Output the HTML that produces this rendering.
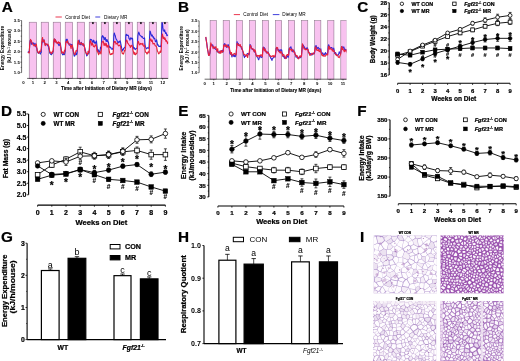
<!DOCTYPE html><html><head><meta charset="utf-8"><style>html,body{margin:0;padding:0;background:#fff;overflow:hidden}svg{display:block;will-change:transform}text{font-family:"Liberation Sans",sans-serif}text[font-weight="bold"]{stroke:#000;stroke-width:0.22px}text.ns{stroke:none}</style></head><body><svg width="520" height="361" viewBox="0 0 520 361" font-family="Liberation Sans, sans-serif">
<rect width="520" height="361" fill="#fff"/>
<text x="1.72" y="12.3" font-size="15.3" font-weight="bold">A</text>
<clipPath id="clipA"><rect x="0" y="0" width="168.2" height="100"/></clipPath>
<g clip-path="url(#clipA)">
<rect x="29.2" y="22.2" width="7.5" height="56.2" fill="#f8c2ef" stroke="#8a7088" stroke-width="0.55"/>
<rect x="41.2" y="22.2" width="7.5" height="56.2" fill="#f8c2ef" stroke="#8a7088" stroke-width="0.55"/>
<rect x="53.2" y="22.2" width="7.5" height="56.2" fill="#f8c2ef" stroke="#8a7088" stroke-width="0.55"/>
<rect x="65.2" y="22.2" width="7.5" height="56.2" fill="#f8c2ef" stroke="#8a7088" stroke-width="0.55"/>
<rect x="77.2" y="22.2" width="7.5" height="56.2" fill="#f8c2ef" stroke="#8a7088" stroke-width="0.55"/>
<rect x="89.2" y="22.2" width="7.5" height="56.2" fill="#f8c2ef" stroke="#8a7088" stroke-width="0.55"/>
<rect x="101.2" y="22.2" width="7.5" height="56.2" fill="#f8c2ef" stroke="#8a7088" stroke-width="0.55"/>
<rect x="113.2" y="22.2" width="7.5" height="56.2" fill="#f8c2ef" stroke="#8a7088" stroke-width="0.55"/>
<rect x="125.2" y="22.2" width="7.5" height="56.2" fill="#f8c2ef" stroke="#8a7088" stroke-width="0.55"/>
<rect x="137.2" y="22.2" width="7.5" height="56.2" fill="#f8c2ef" stroke="#8a7088" stroke-width="0.55"/>
<rect x="149.2" y="22.2" width="7.5" height="56.2" fill="#f8c2ef" stroke="#8a7088" stroke-width="0.55"/>
<rect x="161.2" y="22.2" width="7.5" height="56.2" fill="#f8c2ef" stroke="#8a7088" stroke-width="0.55"/>
<polyline points="27.89,52.63 28.34,51.89 28.78,51.81 29.23,52.24 29.67,46.22 30.12,40.63 30.56,40.16 31.01,40.76 31.45,43.62 31.9,44.39 32.34,43.1 32.79,43.3 33.23,42.82 33.68,43.66 34.13,45.07 34.57,45.19 35.02,43.19 35.46,45.67 35.91,46.77 36.35,47.34 36.8,48.15 37.24,50.7 37.69,52.37 38.13,52.98 38.58,53.21 39.03,52.95 39.47,52.4 39.92,52.89 40.36,54.07 40.81,52.55 41.25,52.48 41.7,44.82 42.14,41.43 42.59,40.71 43.03,41.94 43.48,41.38 43.92,39.48 44.37,42.52 44.82,42.99 45.26,45.09 45.71,44.62 46.15,43.95 46.6,44.66 47.04,44.58 47.49,45.08 47.93,46.05 48.38,45.4 48.82,48.53 49.27,50.04 49.72,53.09 50.16,53.43 50.61,54.35 51.05,54.04 51.5,54.72 51.94,53.23 52.39,53.49 52.83,52.48 53.28,50.73 53.72,43.47 54.17,39.88 54.61,39.01 55.06,39.78 55.51,39.82 55.95,42.03 56.4,42.03 56.84,42.43 57.29,43.05 57.73,43.49 58.18,43.92 58.62,44.95 59.07,45.57 59.51,45.06 59.96,44.04 60.4,43.65 60.85,47.16 61.3,50.78 61.74,52.7 62.19,53.85 62.63,54.86 63.08,54.45 63.52,53.49 63.97,54.71 64.41,54.69 64.86,52.6 65.3,51.03 65.75,42.78 66.2,39.33 66.64,41.17 67.09,39.17 67.53,40.27 67.98,42.44 68.42,42.81 68.87,43.94 69.31,45.26 69.76,44.95 70.2,44.54 70.65,44.07 71.09,44.63 71.54,45.27 71.99,44.63 72.43,46.71 72.88,48.56 73.32,51.16 73.77,53.93 74.21,56.17 74.66,56.06 75.1,55.03 75.55,54.14 75.99,53.09 76.44,54.76 76.89,54.04 77.33,50.79 77.78,44.78 78.22,43.49 78.67,41.04 79.11,40.09 79.56,42.01 80,44.47 80.45,44.65 80.89,44 81.34,42.38 81.78,44.13 82.23,44.9 82.68,44.07 83.12,45.24 83.57,44.2 84.01,46.37 84.46,46.88 84.9,48.46 85.35,50.25 85.79,52.07 86.24,53.6 86.68,55.88 87.13,55.3 87.58,54.69 88.02,53.96 88.47,52.9 88.91,53.17 89.36,49.08 89.8,41.99 90.25,39.42 90.69,39.27 91.14,39.41 91.58,39.65 92.03,41.2 92.47,41.69 92.92,42.54 93.37,40.2 93.81,40.34 94.26,42.11 94.7,42.91 95.15,43.56 95.59,42.46 96.04,41.99 96.48,40.94 96.93,45.62 97.37,49.53 97.82,51.78 98.26,49.71 98.71,51.01 99.16,52.54 99.6,51.13 100.05,51.2 100.49,47.24 100.94,48.29 101.38,44.79 101.83,37.05 102.27,36.11 102.72,35.61 103.16,37.38 103.61,36.92 104.06,39.72 104.5,39.31 104.95,37.6 105.39,37.76 105.84,40.79 106.28,41.51 106.73,39.58 107.17,39.74 107.62,41.62 108.06,41.8 108.51,42.41 108.95,45.82 109.4,47.32 109.85,46.72 110.29,47.51 110.74,47.23 111.18,48.91 111.63,48.98 112.07,49.12 112.52,48.51 112.96,49.21 113.41,45.37 113.85,35.47 114.3,32.94 114.75,34.4 115.19,35.36 115.64,37.43 116.08,39.21 116.53,39.38 116.97,40.38 117.42,41.73 117.86,42.78 118.31,42.79 118.75,41.64 119.2,41.61 119.64,42.09 120.09,40.77 120.54,42.19 120.98,44.99 121.43,46.56 121.87,49.33 122.32,50.96 122.76,49.46 123.21,50.02 123.65,48.23 124.1,48.22 124.54,47.68 124.99,47.85 125.44,45.15 125.88,35.05 126.33,34.32 126.77,35.26 127.22,35.55 127.66,35 128.11,35.23 128.55,35.97 129,38.68 129.44,38.7 129.89,40.12 130.33,38.39 130.78,37.79 131.23,38.96 131.67,38.37 132.12,38.22 132.56,38.56 133.01,44.66 133.45,47.89 133.9,48.85 134.34,47.66 134.79,48.54 135.23,49.62 135.68,49.08 136.12,48.66 136.57,48.55 137.02,48.45 137.46,43.21 137.91,35.56 138.35,33.49 138.8,32.1 139.24,33.55 139.69,34.79 140.13,35.57 140.58,35.72 141.02,35.91 141.47,36.96 141.92,36.57 142.36,36.76 142.81,37.86 143.25,38.23 143.7,38.57 144.14,38.46 144.59,37.94 145.03,44.99 145.48,46.63 145.92,47.99 146.37,48.82 146.81,48.53 147.26,47.65 147.71,48 148.15,47.96 148.6,48.24 149.04,47.1 149.49,39.31 149.93,30.94 150.38,31.75 150.82,33.61 151.27,34.99 151.71,36.07 152.16,34.93 152.61,36.21 153.05,37.35 153.5,36.8 153.94,38.82 154.39,38.26 154.83,38.74 155.28,41.24 155.72,41.78 156.17,41.13 156.61,39.83 157.06,42.16 157.5,45.08 157.95,44.35 158.4,45.89 158.84,46.5 159.29,46.5 159.73,46.09 160.18,46.79 160.62,46.28 161.07,45.29 161.51,35.29 161.96,23.04 162.4,22.76 162.85,27.41 163.3,30.39 163.74,30.63 164.19,31.46 164.63,29.86 165.08,31.63 165.52,33.41 165.97,32.61 166.41,33.49 166.86,35.76 167.3,35.32 167.75,35.09 168.19,34.99" fill="none" stroke="#2a2ad8" stroke-width="1.1" stroke-linejoin="round"/>
<polyline points="27.89,52.72 28.34,52.63 28.78,52.26 29.23,53.02 29.67,44.9 30.12,41.63 30.56,39.39 31.01,40.55 31.45,40.75 31.9,42.9 32.34,43.06 32.79,44.14 33.23,44.96 33.68,44.79 34.13,46.13 34.57,45.59 35.02,44.78 35.46,45.48 35.91,45.76 36.35,44.08 36.8,47.55 37.24,50.68 37.69,51.36 38.13,52.59 38.58,53.17 39.03,52.98 39.47,50.94 39.92,51.8 40.36,51.58 40.81,50.92 41.25,48.4 41.7,43.24 42.14,39.27 42.59,37.46 43.03,41.45 43.48,41.68 43.92,40.97 44.37,40.36 44.82,43.85 45.26,45.67 45.71,43.53 46.15,44.42 46.6,44.59 47.04,44.01 47.49,44.26 47.93,44.5 48.38,45.33 48.82,46.14 49.27,48.67 49.72,51.3 50.16,52.6 50.61,52.3 51.05,52.75 51.5,53.71 51.94,52.71 52.39,51.21 52.83,51.98 53.28,50.34 53.72,42.6 54.17,38.86 54.61,39.66 55.06,41.86 55.51,39.77 55.95,41.51 56.4,43.05 56.84,42.07 57.29,42.86 57.73,43.43 58.18,42.61 58.62,41.82 59.07,43.28 59.51,42.67 59.96,42.61 60.4,45.88 60.85,48.2 61.3,50.07 61.74,53.12 62.19,52.86 62.63,51.94 63.08,52.15 63.52,52.62 63.97,53.71 64.41,50.41 64.86,51.23 65.3,49.05 65.75,42.62 66.2,41.45 66.64,42.1 67.09,42.35 67.53,40.64 67.98,43.33 68.42,43.8 68.87,44.09 69.31,43.74 69.76,44.07 70.2,44.83 70.65,46.85 71.09,48.54 71.54,45.9 71.99,45.28 72.43,45.03 72.88,48.59 73.32,51.27 73.77,51.82 74.21,54.07 74.66,54.46 75.1,54.29 75.55,52.57 75.99,50.53 76.44,51.12 76.89,51 77.33,49.16 77.78,42.58 78.22,40.47 78.67,41.39 79.11,44.11 79.56,44.09 80,44.3 80.45,42.91 80.89,43.13 81.34,43.03 81.78,43.19 82.23,44.94 82.68,44.05 83.12,43.5 83.57,45.19 84.01,44.81 84.46,46.51 84.9,50.35 85.35,51.44 85.79,52.97 86.24,53.18 86.68,53.97 87.13,53.82 87.58,54.85 88.02,51.19 88.47,51.24 88.91,52.78 89.36,50.75 89.8,43.6 90.25,40.62 90.69,41.27 91.14,42.44 91.58,45.17 92.03,44.89 92.47,43.06 92.92,44.35 93.37,46.39 93.81,46.41 94.26,47.01 94.7,46.54 95.15,44.79 95.59,45.68 96.04,44.89 96.48,46.31 96.93,50.61 97.37,51.9 97.82,50.75 98.26,53.82 98.71,54.7 99.16,52.98 99.6,53.28 100.05,52.83 100.49,51.84 100.94,53.92 101.38,49.22 101.83,43.28 102.27,41.77 102.72,41.77 103.16,40.99 103.61,43 104.06,45.41 104.5,45.15 104.95,43.09 105.39,43.9 105.84,45.8 106.28,43.51 106.73,46 107.17,47.28 107.62,46.4 108.06,45.25 108.51,45.08 108.95,48.63 109.4,51.97 109.85,53.41 110.29,54.76 110.74,54.25 111.18,54.41 111.63,53.57 112.07,54.18 112.52,53.64 112.96,53.66 113.41,50.22 113.85,43.16 114.3,41.41 114.75,42.06 115.19,41.38 115.64,42.53 116.08,44.31 116.53,43.35 116.97,43.54 117.42,43.1 117.86,44.82 118.31,45.45 118.75,46.01 119.2,45.44 119.64,45.17 120.09,45.62 120.54,46.5 120.98,48.79 121.43,50.91 121.87,51.97 122.32,53.55 122.76,53.37 123.21,54.24 123.65,53.72 124.1,52.06 124.54,50.23 124.99,50.85 125.44,48.29 125.88,42.35 126.33,40.09 126.77,40.18 127.22,41.18 127.66,43.06 128.11,43.48 128.55,44.32 129,44.79 129.44,45.51 129.89,45.57 130.33,47.35 130.78,46.65 131.23,45.3 131.67,46.22 132.12,45.42 132.56,47.42 133.01,50.2 133.45,51.81 133.9,54.02 134.34,54.26 134.79,52.35 135.23,54.63 135.68,54.67 136.12,54.01 136.57,53.36 137.02,52.86 137.46,47.61 137.91,41.24 138.35,41.54 138.8,42.54 139.24,44.23 139.69,44.91 140.13,44.44 140.58,43.4 141.02,43.98 141.47,43.68 141.92,43.86 142.36,44.73 142.81,43.33 143.25,45.64 143.7,46.24 144.14,45.92 144.59,45.2 145.03,49.71 145.48,52.3 145.92,52.28 146.37,52.43 146.81,53.88 147.26,53.94 147.71,52.36 148.15,51.81 148.6,52.03 149.04,52.92 149.49,46.61 149.93,38.95 150.38,40.18 150.82,38.92 151.27,40.53 151.71,41.53 152.16,40.12 152.61,42.45 153.05,44 153.5,43.82 153.94,43.42 154.39,43.51 154.83,44.68 155.28,45.77 155.72,45.93 156.17,46.21 156.61,46.92 157.06,49.37 157.5,51.29 157.95,51.92 158.4,53.33 158.84,53.8 159.29,53.14 159.73,52.51 160.18,51.08 160.62,52.45 161.07,51.13 161.51,44.09 161.96,35.77 162.4,33.97 162.85,35.78 163.3,38.66 163.74,37.27 164.19,37.54 164.63,39.37 165.08,38.04 165.52,39.77 165.97,41.37 166.41,40.4 166.86,41.43 167.3,42.87 167.75,43.6 168.19,41.58" fill="none" stroke="#e8213c" stroke-width="1.1" stroke-linejoin="round"/>
</g>
<text x="92.95" y="26" font-size="4.5" font-weight="bold" text-anchor="middle">*</text>
<text x="104.95" y="26" font-size="4.5" font-weight="bold" text-anchor="middle">*</text>
<text x="116.95" y="26" font-size="4.5" font-weight="bold" text-anchor="middle">*</text>
<text x="128.95" y="26" font-size="4.5" font-weight="bold" text-anchor="middle">*</text>
<text x="140.95" y="26" font-size="4.5" font-weight="bold" text-anchor="middle">*</text>
<text x="152.95" y="26" font-size="4.5" font-weight="bold" text-anchor="middle">*</text>
<text x="164.95" y="26" font-size="4.5" font-weight="bold" text-anchor="middle">*</text>
<line x1="21.6" y1="20.5" x2="21.6" y2="72.6" stroke="#000" stroke-width="0.6"/>
<line x1="20.7" y1="67.39" x2="21.6" y2="67.39" stroke="#000" stroke-width="0.5"/>
<line x1="20.7" y1="56.97" x2="21.6" y2="56.97" stroke="#000" stroke-width="0.5"/>
<line x1="20.7" y1="46.55" x2="21.6" y2="46.55" stroke="#000" stroke-width="0.5"/>
<line x1="20.7" y1="36.13" x2="21.6" y2="36.13" stroke="#000" stroke-width="0.5"/>
<line x1="20.7" y1="25.71" x2="21.6" y2="25.71" stroke="#000" stroke-width="0.5"/>
<line x1="20.3" y1="72.6" x2="21.6" y2="72.6" stroke="#000" stroke-width="0.5"/>
<text x="19.8" y="74.15" font-size="4.3" font-weight="bold" text-anchor="end" class="ns">1.0</text>
<line x1="20.3" y1="62.18" x2="21.6" y2="62.18" stroke="#000" stroke-width="0.5"/>
<text x="19.8" y="63.73" font-size="4.3" font-weight="bold" text-anchor="end" class="ns">1.5</text>
<line x1="20.3" y1="51.76" x2="21.6" y2="51.76" stroke="#000" stroke-width="0.5"/>
<text x="19.8" y="53.31" font-size="4.3" font-weight="bold" text-anchor="end" class="ns">2.0</text>
<line x1="20.3" y1="41.34" x2="21.6" y2="41.34" stroke="#000" stroke-width="0.5"/>
<text x="19.8" y="42.89" font-size="4.3" font-weight="bold" text-anchor="end" class="ns">2.5</text>
<line x1="20.3" y1="30.92" x2="21.6" y2="30.92" stroke="#000" stroke-width="0.5"/>
<text x="19.8" y="32.47" font-size="4.3" font-weight="bold" text-anchor="end" class="ns">3.0</text>
<line x1="20.3" y1="20.5" x2="21.6" y2="20.5" stroke="#000" stroke-width="0.5"/>
<text x="19.8" y="22.05" font-size="4.3" font-weight="bold" text-anchor="end" class="ns">3.5</text>
<line x1="27.1" y1="78.4" x2="168.2" y2="78.4" stroke="#000" stroke-width="0.6"/>
<text x="23.4" y="84" font-size="4.3" font-weight="bold" text-anchor="middle" class="ns">0</text>
<line x1="32.9" y1="78.4" x2="32.9" y2="79.6" stroke="#000" stroke-width="0.5"/>
<text x="32.9" y="84" font-size="4.3" font-weight="bold" text-anchor="middle" class="ns">1</text>
<line x1="44.7" y1="78.4" x2="44.7" y2="79.6" stroke="#000" stroke-width="0.5"/>
<text x="44.7" y="84" font-size="4.3" font-weight="bold" text-anchor="middle" class="ns">2</text>
<line x1="56.5" y1="78.4" x2="56.5" y2="79.6" stroke="#000" stroke-width="0.5"/>
<text x="56.5" y="84" font-size="4.3" font-weight="bold" text-anchor="middle" class="ns">3</text>
<line x1="68.3" y1="78.4" x2="68.3" y2="79.6" stroke="#000" stroke-width="0.5"/>
<text x="68.3" y="84" font-size="4.3" font-weight="bold" text-anchor="middle" class="ns">4</text>
<line x1="80.1" y1="78.4" x2="80.1" y2="79.6" stroke="#000" stroke-width="0.5"/>
<text x="80.1" y="84" font-size="4.3" font-weight="bold" text-anchor="middle" class="ns">5</text>
<line x1="91.9" y1="78.4" x2="91.9" y2="79.6" stroke="#000" stroke-width="0.5"/>
<text x="91.9" y="84" font-size="4.3" font-weight="bold" text-anchor="middle" class="ns">6</text>
<line x1="103.7" y1="78.4" x2="103.7" y2="79.6" stroke="#000" stroke-width="0.5"/>
<text x="103.7" y="84" font-size="4.3" font-weight="bold" text-anchor="middle" class="ns">7</text>
<line x1="115.5" y1="78.4" x2="115.5" y2="79.6" stroke="#000" stroke-width="0.5"/>
<text x="115.5" y="84" font-size="4.3" font-weight="bold" text-anchor="middle" class="ns">8</text>
<line x1="127.3" y1="78.4" x2="127.3" y2="79.6" stroke="#000" stroke-width="0.5"/>
<text x="127.3" y="84" font-size="4.3" font-weight="bold" text-anchor="middle" class="ns">9</text>
<line x1="139.1" y1="78.4" x2="139.1" y2="79.6" stroke="#000" stroke-width="0.5"/>
<text x="139.1" y="84" font-size="4.3" font-weight="bold" text-anchor="middle" class="ns">10</text>
<line x1="150.9" y1="78.4" x2="150.9" y2="79.6" stroke="#000" stroke-width="0.5"/>
<text x="150.9" y="84" font-size="4.3" font-weight="bold" text-anchor="middle" class="ns">11</text>
<line x1="162.7" y1="78.4" x2="162.7" y2="79.6" stroke="#000" stroke-width="0.5"/>
<text x="162.7" y="84" font-size="4.3" font-weight="bold" text-anchor="middle" class="ns">12</text>
<text x="106.45" y="89.91" font-size="4.75" font-weight="bold" text-anchor="middle" style="stroke-width:0.12px">Time after Initiation of Dietary MR (days)</text>
<text x="4.2" y="48.05" font-size="4.7" font-weight="bold" text-anchor="middle" transform="rotate(-90 4.2 48.05)" class="ns">Energy Expenditure</text>
<text class="ns" x="11.4" y="46.25" font-size="4.7" font-weight="bold" text-anchor="middle" transform="rotate(-90 11.4 46.25)">(kJ / h<tspan font-size="3" dy="-1.8">-1</tspan><tspan dy="1.8"> mouse)</tspan></text>
<line x1="55.5" y1="17" x2="61.8" y2="17" stroke="#e8213c" stroke-width="0.9"/>
<text x="65.2" y="18.6" font-size="4.7">Control Diet</text>
<line x1="95.3" y1="17" x2="100.2" y2="17" stroke="#2a2ad8" stroke-width="0.9"/>
<text x="104" y="18.6" font-size="4.7">Dietary MR</text>
<text x="177.97" y="12.3" font-size="15.3" font-weight="bold">B</text>
<clipPath id="clipB"><rect x="0" y="0" width="346.5" height="100"/></clipPath>
<g clip-path="url(#clipB)">
<rect x="210.1" y="20.6" width="6.2" height="58.6" fill="#f8c2ef" stroke="#8a7088" stroke-width="0.55"/>
<rect x="223.17" y="20.6" width="6.2" height="58.6" fill="#f8c2ef" stroke="#8a7088" stroke-width="0.55"/>
<rect x="236.24" y="20.6" width="6.2" height="58.6" fill="#f8c2ef" stroke="#8a7088" stroke-width="0.55"/>
<rect x="249.31" y="20.6" width="6.2" height="58.6" fill="#f8c2ef" stroke="#8a7088" stroke-width="0.55"/>
<rect x="262.38" y="20.6" width="6.2" height="58.6" fill="#f8c2ef" stroke="#8a7088" stroke-width="0.55"/>
<rect x="275.45" y="20.6" width="6.2" height="58.6" fill="#f8c2ef" stroke="#8a7088" stroke-width="0.55"/>
<rect x="288.52" y="20.6" width="6.2" height="58.6" fill="#f8c2ef" stroke="#8a7088" stroke-width="0.55"/>
<rect x="301.59" y="20.6" width="6.2" height="58.6" fill="#f8c2ef" stroke="#8a7088" stroke-width="0.55"/>
<rect x="314.66" y="20.6" width="6.2" height="58.6" fill="#f8c2ef" stroke="#8a7088" stroke-width="0.55"/>
<rect x="327.73" y="20.6" width="6.2" height="58.6" fill="#f8c2ef" stroke="#8a7088" stroke-width="0.55"/>
<rect x="340.8" y="20.6" width="6.2" height="58.6" fill="#f8c2ef" stroke="#8a7088" stroke-width="0.55"/>
<polyline points="205.77,37.1 206.23,40.12 206.69,42.62 207.15,46.35 207.62,49.75 208.08,52.04 208.54,54.87 209,55.4 209.46,54.92 209.92,52.99 210.38,48.88 210.84,45.13 211.3,45.02 211.76,44.81 212.22,45.37 212.68,44.9 213.14,46.11 213.6,47.68 214.06,47.58 214.52,48.59 214.98,48.27 215.44,49.06 215.9,49.49 216.36,49.62 216.82,49.77 217.28,52.01 217.74,51.38 218.2,51.75 218.66,52.9 219.12,52.69 219.58,52.44 220.04,50.79 220.5,52.22 220.96,52.18 221.42,50.8 221.88,51.18 222.34,50.24 222.8,52.3 223.26,50.83 223.72,45.47 224.18,44.09 224.64,43.64 225.1,44.2 225.56,45.5 226.02,46.52 226.48,47.36 226.94,45.51 227.4,44.99 227.86,45.12 228.33,44.72 228.79,46.95 229.25,49.11 229.71,52.94 230.17,54.12 230.63,54.09 231.09,53.98 231.55,55.7 232.01,56.97 232.47,54.87 232.93,54.5 233.39,56.18 233.85,54.87 234.31,56.73 234.77,54.96 235.23,56.64 235.69,56 236.15,53.75 236.61,47.25 237.07,41.59 237.53,43.47 237.99,43.31 238.45,43.76 238.91,45.26 239.37,45.47 239.83,45.34 240.29,46.08 240.75,46.55 241.21,47.5 241.67,49.01 242.13,48.96 242.59,50.49 243.05,51.6 243.51,54.91 243.97,55.96 244.43,57.67 244.89,55.91 245.35,56.48 245.81,55.94 246.27,55.62 246.73,55.18 247.19,53.79 247.65,53.48 248.11,53.62 248.57,53.82 249.04,54.9 249.5,52.44 249.96,44.57 250.42,44.88 250.88,45.76 251.34,47.87 251.8,48.54 252.26,49.49 252.72,48.91 253.18,49.82 253.64,50.76 254.1,50.48 254.56,51.88 255.02,52.42 255.48,52.7 255.94,54.66 256.4,56 256.86,55.93 257.32,57.34 257.78,57.66 258.24,59.09 258.7,59.81 259.16,58.39 259.62,56.38 260.08,55.55 260.54,55.91 261,57.65 261.46,57.12 261.92,57.31 262.38,56.29 262.84,49.44 263.3,47.13 263.76,47.38 264.22,47.61 264.68,48.36 265.14,50.69 265.6,50.36 266.06,51.86 266.52,52.97 266.98,52.49 267.44,52.07 267.9,51.91 268.36,52.78 268.82,54.08 269.28,55.24 269.75,56.29 270.21,56.4 270.67,58.27 271.13,58.28 271.59,59.69 272.05,60.34 272.51,58.44 272.97,58.22 273.43,57.13 273.89,57.26 274.35,56.8 274.81,56.62 275.27,56.87 275.73,52.94 276.19,47.98 276.65,48.16 277.11,48.09 277.57,48.76 278.03,50.09 278.49,51.06 278.95,49.69 279.41,50.73 279.87,52.16 280.33,49.74 280.79,50.22 281.25,49.82 281.71,50.03 282.17,53.28 282.63,53.61 283.09,56.74 283.55,56.33 284.01,56.31 284.47,58.35 284.93,56.82 285.39,57.7 285.85,58.12 286.31,58.31 286.77,56.33 287.23,56.71 287.69,55.69 288.15,57.45 288.61,55.44 289.07,48.84 289.53,49.46 289.99,47.6 290.46,47.87 290.92,46.69 291.38,48.54 291.84,49.17 292.3,50.26 292.76,51.71 293.22,50.73 293.68,50 294.14,51.98 294.6,51.98 295.06,54.1 295.52,54.82 295.98,57.23 296.44,55.97 296.9,56.12 297.36,58.1 297.82,57.87 298.28,57.24 298.74,58.6 299.2,57.14 299.66,57.32 300.12,56.05 300.58,57.73 301.04,57.19 301.5,55.52 301.96,50.11 302.42,45.7 302.88,45.49 303.34,45.08 303.8,46.61 304.26,46.62 304.72,48.62 305.18,48.29 305.64,48.31 306.1,48.96 306.56,48.59 307.02,47.67 307.48,48.35 307.94,49.7 308.4,50.96 308.86,52.16 309.32,54.05 309.78,54.44 310.24,53.48 310.7,53.94 311.17,54.86 311.63,54.87 312.09,54.97 312.55,54.24 313.01,53.71 313.47,52.93 313.93,53.33 314.39,53.72 314.85,51.48 315.31,46.07 315.77,46.29 316.23,45.63 316.69,48.42 317.15,47.87 317.61,48.36 318.07,47.28 318.53,47.89 318.99,48.57 319.45,48.66 319.91,49.45 320.37,50.64 320.83,48.8 321.29,52.91 321.75,53.73 322.21,53.5 322.67,52.72 323.13,53.83 323.59,54.42 324.05,55.12 324.51,53.71 324.97,54.4 325.43,52.49 325.89,53.61 326.35,54.39 326.81,54.28 327.27,53.46 327.73,52.33 328.19,46.27 328.65,44.71 329.11,45.82 329.57,46.68 330.03,48.47 330.49,48.51 330.95,47.48 331.41,47.66 331.88,47.52 332.34,49.43 332.8,48.98 333.26,49.45 333.72,48.07 334.18,50.58 334.64,53.48 335.1,53.67 335.56,52.57 336.02,53.44 336.48,54.14 336.94,55.77 337.4,55.72 337.86,55.16 338.32,55.02 338.78,53.6 339.24,51.75 339.7,52.62 340.16,53.88 340.62,53.48 341.08,50.79 341.54,46.67 342,46.39 342.46,47.86 342.92,48.24 343.38,47.45 343.84,46.89 344.3,48.49 344.76,50.39 345.22,50.32 345.68,49.34 346.14,49.79 346.6,49.87 347.06,51.21 347.52,51.02 347.98,54.56 348.44,55.35" fill="none" stroke="#3a2ad8" stroke-width="1.1" stroke-linejoin="round"/>
<polyline points="205.77,36.92 206.23,40.15 206.69,43 207.15,47.27 207.62,49.63 208.08,51.7 208.54,55.1 209,55.51 209.46,54.99 209.92,52.29 210.38,47.01 210.84,42.9 211.3,44.48 211.76,45 212.22,46.66 212.68,46.59 213.14,48.71 213.6,47.09 214.06,47.03 214.52,47.89 214.98,46.86 215.44,47.84 215.9,46.86 216.36,49.44 216.82,51.04 217.28,50.58 217.74,48.52 218.2,52.5 218.66,52.56 219.12,52.6 219.58,52.18 220.04,53.45 220.5,51.07 220.96,53.03 221.42,50.52 221.88,51.54 222.34,52.21 222.8,51.27 223.26,51.35 223.72,45.02 224.18,45.08 224.64,45.99 225.1,46.48 225.56,45.61 226.02,44.46 226.48,46.24 226.94,45.48 227.4,47.14 227.86,46.35 228.33,46.44 228.79,47.28 229.25,47.06 229.71,49.7 230.17,51.73 230.63,54.09 231.09,53.08 231.55,52.52 232.01,55.68 232.47,54.98 232.93,54.72 233.39,54.34 233.85,53.78 234.31,53.34 234.77,54.04 235.23,53.9 235.69,54.86 236.15,54.79 236.61,48.2 237.07,43.28 237.53,43.68 237.99,44.87 238.45,45.48 238.91,44.82 239.37,45.86 239.83,45.83 240.29,44.5 240.75,46.76 241.21,46.77 241.67,46.87 242.13,49.55 242.59,50.31 243.05,51.88 243.51,52.81 243.97,54.48 244.43,54.62 244.89,54.76 245.35,55.06 245.81,55.92 246.27,54.99 246.73,54.83 247.19,56.25 247.65,57.55 248.11,54.51 248.57,53.45 249.04,54.17 249.5,49.53 249.96,46.06 250.42,45.35 250.88,46.15 251.34,48.56 251.8,48.78 252.26,49.05 252.72,48.78 253.18,48.78 253.64,50.43 254.1,51.77 254.56,49.68 255.02,50.32 255.48,50.74 255.94,54.87 256.4,55.1 256.86,56.49 257.32,56.15 257.78,55.37 258.24,55.68 258.7,55.61 259.16,57.13 259.62,55.31 260.08,55.76 260.54,55.04 261,54.83 261.46,55.09 261.92,55.75 262.38,56.76 262.84,49.26 263.3,47.25 263.76,48.59 264.22,50.3 264.68,50.88 265.14,48.81 265.6,51.02 266.06,52 266.52,51.4 266.98,52.87 267.44,53.28 267.9,52.31 268.36,52.79 268.82,53.85 269.28,54.54 269.75,55.84 270.21,56.07 270.67,55.85 271.13,56.6 271.59,56.71 272.05,56.16 272.51,56.25 272.97,55.5 273.43,56.7 273.89,55.94 274.35,56.17 274.81,57.03 275.27,55.26 275.73,51.99 276.19,48.7 276.65,47.3 277.11,47.91 277.57,47.57 278.03,50.33 278.49,51.16 278.95,51.48 279.41,52.1 279.87,52.3 280.33,53.11 280.79,51.35 281.25,51.97 281.71,52.73 282.17,54.38 282.63,55.98 283.09,54.51 283.55,54.7 284.01,54.81 284.47,56.54 284.93,57.34 285.39,58.01 285.85,58.64 286.31,55.35 286.77,55.59 287.23,54.53 287.69,54.51 288.15,55.11 288.61,55.1 289.07,50.7 289.53,48.14 289.99,49.13 290.46,49.38 290.92,49.46 291.38,51.14 291.84,49.16 292.3,50.3 292.76,50 293.22,50.25 293.68,51.5 294.14,52.49 294.6,51.92 295.06,54.1 295.52,54.63 295.98,55.79 296.44,56.33 296.9,55.44 297.36,56.54 297.82,57.88 298.28,58.84 298.74,58.7 299.2,57.32 299.66,56.78 300.12,55.87 300.58,57.02 301.04,56.11 301.5,56.48 301.96,49.15 302.42,43.68 302.88,45.63 303.34,46.56 303.8,48.17 304.26,49.15 304.72,48.82 305.18,48.56 305.64,49.81 306.1,49.65 306.56,49.35 307.02,49.64 307.48,49.1 307.94,49.31 308.4,52.42 308.86,52.95 309.32,52.57 309.78,55.33 310.24,55.32 310.7,54.82 311.17,54.6 311.63,53.39 312.09,53.16 312.55,53.89 313.01,53.97 313.47,54.17 313.93,53.81 314.39,52.67 314.85,49.8 315.31,47.28 315.77,46.82 316.23,48.27 316.69,50.19 317.15,50.36 317.61,49.86 318.07,50.44 318.53,49.51 318.99,51.36 319.45,51.39 319.91,51.7 320.37,49.55 320.83,51.59 321.29,52.9 321.75,55.18 322.21,54.32 322.67,55.76 323.13,55.97 323.59,55.29 324.05,56.31 324.51,55.92 324.97,56.02 325.43,56.12 325.89,54.9 326.35,54.88 326.81,54.25 327.27,54.59 327.73,54.99 328.19,49.24 328.65,46.33 329.11,46.24 329.57,49.14 330.03,48.28 330.49,48.15 330.95,49.3 331.41,49.03 331.88,49.41 332.34,50.97 332.8,49.41 333.26,51.13 333.72,51.46 334.18,50.87 334.64,52.11 335.1,53.13 335.56,54.59 336.02,54.94 336.48,55.33 336.94,54.56 337.4,55.23 337.86,55.58 338.32,57.24 338.78,57.17 339.24,57.64 339.7,56.54 340.16,55.31 340.62,54.42 341.08,50.6 341.54,46.56 342,46.86 342.46,49.59 342.92,48.4 343.38,49.89 343.84,50.5 344.3,51.71 344.76,50.33 345.22,50.06 345.68,51.14 346.14,49.74 346.6,51.15 347.06,52.78 347.52,52.96 347.98,53.28 348.44,53.52" fill="none" stroke="#e8213c" stroke-width="1.1" stroke-linejoin="round"/>
</g>
<line x1="199.1" y1="20.8" x2="199.1" y2="72.8" stroke="#000" stroke-width="0.6"/>
<line x1="198.2" y1="67.6" x2="199.1" y2="67.6" stroke="#000" stroke-width="0.5"/>
<line x1="198.2" y1="57.2" x2="199.1" y2="57.2" stroke="#000" stroke-width="0.5"/>
<line x1="198.2" y1="46.8" x2="199.1" y2="46.8" stroke="#000" stroke-width="0.5"/>
<line x1="198.2" y1="36.4" x2="199.1" y2="36.4" stroke="#000" stroke-width="0.5"/>
<line x1="198.2" y1="26" x2="199.1" y2="26" stroke="#000" stroke-width="0.5"/>
<line x1="197.8" y1="72.8" x2="199.1" y2="72.8" stroke="#000" stroke-width="0.5"/>
<text x="197.3" y="74.35" font-size="4.3" font-weight="bold" text-anchor="end" class="ns">1.0</text>
<line x1="197.8" y1="62.4" x2="199.1" y2="62.4" stroke="#000" stroke-width="0.5"/>
<text x="197.3" y="63.95" font-size="4.3" font-weight="bold" text-anchor="end" class="ns">1.5</text>
<line x1="197.8" y1="52" x2="199.1" y2="52" stroke="#000" stroke-width="0.5"/>
<text x="197.3" y="53.55" font-size="4.3" font-weight="bold" text-anchor="end" class="ns">2.0</text>
<line x1="197.8" y1="41.6" x2="199.1" y2="41.6" stroke="#000" stroke-width="0.5"/>
<text x="197.3" y="43.15" font-size="4.3" font-weight="bold" text-anchor="end" class="ns">2.5</text>
<line x1="197.8" y1="31.2" x2="199.1" y2="31.2" stroke="#000" stroke-width="0.5"/>
<text x="197.3" y="32.75" font-size="4.3" font-weight="bold" text-anchor="end" class="ns">3.0</text>
<line x1="197.8" y1="20.8" x2="199.1" y2="20.8" stroke="#000" stroke-width="0.5"/>
<text x="197.3" y="22.35" font-size="4.3" font-weight="bold" text-anchor="end" class="ns">3.5</text>
<line x1="204.6" y1="79.2" x2="346.5" y2="79.2" stroke="#000" stroke-width="0.6"/>
<text x="204.7" y="84.8" font-size="4.3" font-weight="bold" text-anchor="middle" class="ns">0</text>
<line x1="213.8" y1="79.2" x2="213.8" y2="80.4" stroke="#000" stroke-width="0.5"/>
<text x="213.8" y="84.8" font-size="4.3" font-weight="bold" text-anchor="middle" class="ns">1</text>
<line x1="226.72" y1="79.2" x2="226.72" y2="80.4" stroke="#000" stroke-width="0.5"/>
<text x="226.72" y="84.8" font-size="4.3" font-weight="bold" text-anchor="middle" class="ns">2</text>
<line x1="239.64" y1="79.2" x2="239.64" y2="80.4" stroke="#000" stroke-width="0.5"/>
<text x="239.64" y="84.8" font-size="4.3" font-weight="bold" text-anchor="middle" class="ns">3</text>
<line x1="252.56" y1="79.2" x2="252.56" y2="80.4" stroke="#000" stroke-width="0.5"/>
<text x="252.56" y="84.8" font-size="4.3" font-weight="bold" text-anchor="middle" class="ns">4</text>
<line x1="265.48" y1="79.2" x2="265.48" y2="80.4" stroke="#000" stroke-width="0.5"/>
<text x="265.48" y="84.8" font-size="4.3" font-weight="bold" text-anchor="middle" class="ns">5</text>
<line x1="278.4" y1="79.2" x2="278.4" y2="80.4" stroke="#000" stroke-width="0.5"/>
<text x="278.4" y="84.8" font-size="4.3" font-weight="bold" text-anchor="middle" class="ns">6</text>
<line x1="291.32" y1="79.2" x2="291.32" y2="80.4" stroke="#000" stroke-width="0.5"/>
<text x="291.32" y="84.8" font-size="4.3" font-weight="bold" text-anchor="middle" class="ns">7</text>
<line x1="304.24" y1="79.2" x2="304.24" y2="80.4" stroke="#000" stroke-width="0.5"/>
<text x="304.24" y="84.8" font-size="4.3" font-weight="bold" text-anchor="middle" class="ns">8</text>
<line x1="317.16" y1="79.2" x2="317.16" y2="80.4" stroke="#000" stroke-width="0.5"/>
<text x="317.16" y="84.8" font-size="4.3" font-weight="bold" text-anchor="middle" class="ns">9</text>
<line x1="330.08" y1="79.2" x2="330.08" y2="80.4" stroke="#000" stroke-width="0.5"/>
<text x="330.08" y="84.8" font-size="4.3" font-weight="bold" text-anchor="middle" class="ns">10</text>
<line x1="343" y1="79.2" x2="343" y2="80.4" stroke="#000" stroke-width="0.5"/>
<text x="343" y="84.8" font-size="4.3" font-weight="bold" text-anchor="middle" class="ns">11</text>
<text x="275.8" y="92.21" font-size="4.75" font-weight="bold" text-anchor="middle" style="stroke-width:0.12px">Time after Initiation of Dietary MR (days)</text>
<text x="183.4" y="48.3" font-size="4.7" font-weight="bold" text-anchor="middle" transform="rotate(-90 183.4 48.3)" class="ns">Energy Expenditure</text>
<text class="ns" x="188.9" y="46.5" font-size="4.7" font-weight="bold" text-anchor="middle" transform="rotate(-90 188.9 46.5)">(kJ / h<tspan font-size="3" dy="-1.8">-1</tspan><tspan dy="1.8"> mouse)</tspan></text>
<line x1="233.8" y1="14.6" x2="240" y2="14.6" stroke="#e8213c" stroke-width="0.9"/>
<text x="243.3" y="16.2" font-size="4.7">Control Diet</text>
<line x1="272.8" y1="14.6" x2="279.4" y2="14.6" stroke="#2a2ad8" stroke-width="0.9"/>
<text x="282.3" y="16.2" font-size="4.7">Dietary MR</text>
<text x="357.27" y="12.2" font-size="15.3" font-weight="bold">C</text>
<line x1="389.2" y1="2.76" x2="389.2" y2="75.12" stroke="#000" stroke-width="1.1"/>
<line x1="387.6" y1="75.12" x2="389.2" y2="75.12" stroke="#000" stroke-width="0.8"/>
<text x="387" y="77.24" font-size="5.9" font-weight="bold" text-anchor="end">16</text>
<line x1="387.6" y1="63.06" x2="389.2" y2="63.06" stroke="#000" stroke-width="0.8"/>
<text x="387" y="65.18" font-size="5.9" font-weight="bold" text-anchor="end">18</text>
<line x1="387.6" y1="51" x2="389.2" y2="51" stroke="#000" stroke-width="0.8"/>
<text x="387" y="53.12" font-size="5.9" font-weight="bold" text-anchor="end">20</text>
<line x1="387.6" y1="38.94" x2="389.2" y2="38.94" stroke="#000" stroke-width="0.8"/>
<text x="387" y="41.06" font-size="5.9" font-weight="bold" text-anchor="end">22</text>
<line x1="387.6" y1="26.88" x2="389.2" y2="26.88" stroke="#000" stroke-width="0.8"/>
<text x="387" y="29" font-size="5.9" font-weight="bold" text-anchor="end">24</text>
<line x1="387.6" y1="14.82" x2="389.2" y2="14.82" stroke="#000" stroke-width="0.8"/>
<text x="387" y="16.94" font-size="5.9" font-weight="bold" text-anchor="end">26</text>
<line x1="387.6" y1="2.76" x2="389.2" y2="2.76" stroke="#000" stroke-width="0.8"/>
<text x="387" y="4.88" font-size="5.9" font-weight="bold" text-anchor="end">28</text>
<line x1="388.2" y1="69.09" x2="389.2" y2="69.09" stroke="#000" stroke-width="0.7"/>
<line x1="388.2" y1="57.03" x2="389.2" y2="57.03" stroke="#000" stroke-width="0.7"/>
<line x1="388.2" y1="44.97" x2="389.2" y2="44.97" stroke="#000" stroke-width="0.7"/>
<line x1="388.2" y1="32.91" x2="389.2" y2="32.91" stroke="#000" stroke-width="0.7"/>
<line x1="388.2" y1="20.85" x2="389.2" y2="20.85" stroke="#000" stroke-width="0.7"/>
<line x1="388.2" y1="8.79" x2="389.2" y2="8.79" stroke="#000" stroke-width="0.7"/>
<line x1="397.6" y1="83.3" x2="510.1" y2="83.3" stroke="#000" stroke-width="1.1"/>
<line x1="397.6" y1="83.3" x2="397.6" y2="84.9" stroke="#000" stroke-width="0.8"/>
<text x="397.6" y="92.92" font-size="5.9" font-weight="bold" text-anchor="middle">0</text>
<line x1="410.1" y1="83.3" x2="410.1" y2="84.9" stroke="#000" stroke-width="0.8"/>
<text x="410.1" y="92.92" font-size="5.9" font-weight="bold" text-anchor="middle">1</text>
<line x1="422.6" y1="83.3" x2="422.6" y2="84.9" stroke="#000" stroke-width="0.8"/>
<text x="422.6" y="92.92" font-size="5.9" font-weight="bold" text-anchor="middle">2</text>
<line x1="435.1" y1="83.3" x2="435.1" y2="84.9" stroke="#000" stroke-width="0.8"/>
<text x="435.1" y="92.92" font-size="5.9" font-weight="bold" text-anchor="middle">3</text>
<line x1="447.6" y1="83.3" x2="447.6" y2="84.9" stroke="#000" stroke-width="0.8"/>
<text x="447.6" y="92.92" font-size="5.9" font-weight="bold" text-anchor="middle">4</text>
<line x1="460.1" y1="83.3" x2="460.1" y2="84.9" stroke="#000" stroke-width="0.8"/>
<text x="460.1" y="92.92" font-size="5.9" font-weight="bold" text-anchor="middle">5</text>
<line x1="472.6" y1="83.3" x2="472.6" y2="84.9" stroke="#000" stroke-width="0.8"/>
<text x="472.6" y="92.92" font-size="5.9" font-weight="bold" text-anchor="middle">6</text>
<line x1="485.1" y1="83.3" x2="485.1" y2="84.9" stroke="#000" stroke-width="0.8"/>
<text x="485.1" y="92.92" font-size="5.9" font-weight="bold" text-anchor="middle">7</text>
<line x1="497.6" y1="83.3" x2="497.6" y2="84.9" stroke="#000" stroke-width="0.8"/>
<text x="497.6" y="92.92" font-size="5.9" font-weight="bold" text-anchor="middle">8</text>
<line x1="510.1" y1="83.3" x2="510.1" y2="84.9" stroke="#000" stroke-width="0.8"/>
<text x="510.1" y="92.92" font-size="5.9" font-weight="bold" text-anchor="middle">9</text>
<text x="453.8" y="101.18" font-size="6.6" font-weight="bold" text-anchor="middle">Weeks on Diet</text>
<text x="375" y="39.3" font-size="6.4" textLength="47.8" lengthAdjust="spacingAndGlyphs" font-weight="bold" text-anchor="middle" transform="rotate(-90 375 39.3)">Body Weight (g)</text>
<polyline points="397.6,55.22 410.1,51.6 422.6,46.18 435.1,41.35 447.6,36.53 460.1,32.91 472.6,29.89 485.1,26.28 497.6,23.26 510.1,22.06" fill="none" stroke="#000" stroke-width="0.9" stroke-linejoin="round"/>
<polyline points="397.6,59.44 410.1,51 422.6,44.97 435.1,40.15 447.6,32.91 460.1,29.29 472.6,23.26 485.1,20.25 497.6,17.23 510.1,15.42" fill="none" stroke="#000" stroke-width="0.9" stroke-linejoin="round"/>
<polyline points="397.6,54.02 410.1,55.22 422.6,52.21 435.1,49.79 447.6,49.19 460.1,48.59 472.6,47.98 485.1,47.98 497.6,47.98 510.1,48.59" fill="none" stroke="#000" stroke-width="0.9" stroke-linejoin="round"/>
<polyline points="397.6,62.46 410.1,64.27 422.6,58.84 435.1,53.41 447.6,49.79 460.1,46.18 472.6,42.56 485.1,39.54 497.6,38.34 510.1,38.34" fill="none" stroke="#000" stroke-width="0.9" stroke-linejoin="round"/>
<line x1="397.6" y1="55.22" x2="397.6" y2="53.41" stroke="#000" stroke-width="0.7"/>
<line x1="396.1" y1="53.41" x2="399.1" y2="53.41" stroke="#000" stroke-width="0.7"/>
<line x1="397.6" y1="55.22" x2="397.6" y2="57.03" stroke="#000" stroke-width="0.7"/>
<line x1="396.1" y1="57.03" x2="399.1" y2="57.03" stroke="#000" stroke-width="0.7"/>
<rect x="395.7" y="53.32" width="3.8" height="3.8" fill="#fff" stroke="#000" stroke-width="0.8"/>
<line x1="410.1" y1="51.6" x2="410.1" y2="50.4" stroke="#000" stroke-width="0.7"/>
<line x1="408.6" y1="50.4" x2="411.6" y2="50.4" stroke="#000" stroke-width="0.7"/>
<line x1="410.1" y1="51.6" x2="410.1" y2="52.81" stroke="#000" stroke-width="0.7"/>
<line x1="408.6" y1="52.81" x2="411.6" y2="52.81" stroke="#000" stroke-width="0.7"/>
<rect x="408.2" y="49.7" width="3.8" height="3.8" fill="#fff" stroke="#000" stroke-width="0.8"/>
<line x1="422.6" y1="46.18" x2="422.6" y2="44.97" stroke="#000" stroke-width="0.7"/>
<line x1="421.1" y1="44.97" x2="424.1" y2="44.97" stroke="#000" stroke-width="0.7"/>
<line x1="422.6" y1="46.18" x2="422.6" y2="47.38" stroke="#000" stroke-width="0.7"/>
<line x1="421.1" y1="47.38" x2="424.1" y2="47.38" stroke="#000" stroke-width="0.7"/>
<rect x="420.7" y="44.28" width="3.8" height="3.8" fill="#fff" stroke="#000" stroke-width="0.8"/>
<line x1="435.1" y1="41.35" x2="435.1" y2="40.15" stroke="#000" stroke-width="0.7"/>
<line x1="433.6" y1="40.15" x2="436.6" y2="40.15" stroke="#000" stroke-width="0.7"/>
<line x1="435.1" y1="41.35" x2="435.1" y2="42.56" stroke="#000" stroke-width="0.7"/>
<line x1="433.6" y1="42.56" x2="436.6" y2="42.56" stroke="#000" stroke-width="0.7"/>
<rect x="433.2" y="39.45" width="3.8" height="3.8" fill="#fff" stroke="#000" stroke-width="0.8"/>
<line x1="447.6" y1="36.53" x2="447.6" y2="35.32" stroke="#000" stroke-width="0.7"/>
<line x1="446.1" y1="35.32" x2="449.1" y2="35.32" stroke="#000" stroke-width="0.7"/>
<line x1="447.6" y1="36.53" x2="447.6" y2="37.73" stroke="#000" stroke-width="0.7"/>
<line x1="446.1" y1="37.73" x2="449.1" y2="37.73" stroke="#000" stroke-width="0.7"/>
<rect x="445.7" y="34.63" width="3.8" height="3.8" fill="#fff" stroke="#000" stroke-width="0.8"/>
<line x1="460.1" y1="32.91" x2="460.1" y2="31.1" stroke="#000" stroke-width="0.7"/>
<line x1="458.6" y1="31.1" x2="461.6" y2="31.1" stroke="#000" stroke-width="0.7"/>
<line x1="460.1" y1="32.91" x2="460.1" y2="34.72" stroke="#000" stroke-width="0.7"/>
<line x1="458.6" y1="34.72" x2="461.6" y2="34.72" stroke="#000" stroke-width="0.7"/>
<rect x="458.2" y="31.01" width="3.8" height="3.8" fill="#fff" stroke="#000" stroke-width="0.8"/>
<line x1="472.6" y1="29.89" x2="472.6" y2="28.09" stroke="#000" stroke-width="0.7"/>
<line x1="471.1" y1="28.09" x2="474.1" y2="28.09" stroke="#000" stroke-width="0.7"/>
<line x1="472.6" y1="29.89" x2="472.6" y2="31.7" stroke="#000" stroke-width="0.7"/>
<line x1="471.1" y1="31.7" x2="474.1" y2="31.7" stroke="#000" stroke-width="0.7"/>
<rect x="470.7" y="28" width="3.8" height="3.8" fill="#fff" stroke="#000" stroke-width="0.8"/>
<line x1="485.1" y1="26.28" x2="485.1" y2="24.47" stroke="#000" stroke-width="0.7"/>
<line x1="483.6" y1="24.47" x2="486.6" y2="24.47" stroke="#000" stroke-width="0.7"/>
<line x1="485.1" y1="26.28" x2="485.1" y2="28.09" stroke="#000" stroke-width="0.7"/>
<line x1="483.6" y1="28.09" x2="486.6" y2="28.09" stroke="#000" stroke-width="0.7"/>
<rect x="483.2" y="24.38" width="3.8" height="3.8" fill="#fff" stroke="#000" stroke-width="0.8"/>
<line x1="497.6" y1="23.26" x2="497.6" y2="20.85" stroke="#000" stroke-width="0.7"/>
<line x1="496.1" y1="20.85" x2="499.1" y2="20.85" stroke="#000" stroke-width="0.7"/>
<line x1="497.6" y1="23.26" x2="497.6" y2="25.67" stroke="#000" stroke-width="0.7"/>
<line x1="496.1" y1="25.67" x2="499.1" y2="25.67" stroke="#000" stroke-width="0.7"/>
<rect x="495.7" y="21.36" width="3.8" height="3.8" fill="#fff" stroke="#000" stroke-width="0.8"/>
<line x1="510.1" y1="22.06" x2="510.1" y2="19.64" stroke="#000" stroke-width="0.7"/>
<line x1="508.6" y1="19.64" x2="511.6" y2="19.64" stroke="#000" stroke-width="0.7"/>
<line x1="510.1" y1="22.06" x2="510.1" y2="24.47" stroke="#000" stroke-width="0.7"/>
<line x1="508.6" y1="24.47" x2="511.6" y2="24.47" stroke="#000" stroke-width="0.7"/>
<rect x="508.2" y="20.16" width="3.8" height="3.8" fill="#fff" stroke="#000" stroke-width="0.8"/>
<line x1="397.6" y1="59.44" x2="397.6" y2="57.63" stroke="#000" stroke-width="0.7"/>
<line x1="396.1" y1="57.63" x2="399.1" y2="57.63" stroke="#000" stroke-width="0.7"/>
<line x1="397.6" y1="59.44" x2="397.6" y2="61.25" stroke="#000" stroke-width="0.7"/>
<line x1="396.1" y1="61.25" x2="399.1" y2="61.25" stroke="#000" stroke-width="0.7"/>
<circle cx="397.6" cy="59.44" r="1.9" fill="#fff" stroke="#000" stroke-width="0.8"/>
<circle cx="410.1" cy="51" r="1.9" fill="#fff" stroke="#000" stroke-width="0.8"/>
<line x1="422.6" y1="44.97" x2="422.6" y2="43.76" stroke="#000" stroke-width="0.7"/>
<line x1="421.1" y1="43.76" x2="424.1" y2="43.76" stroke="#000" stroke-width="0.7"/>
<line x1="422.6" y1="44.97" x2="422.6" y2="46.18" stroke="#000" stroke-width="0.7"/>
<line x1="421.1" y1="46.18" x2="424.1" y2="46.18" stroke="#000" stroke-width="0.7"/>
<circle cx="422.6" cy="44.97" r="1.9" fill="#fff" stroke="#000" stroke-width="0.8"/>
<line x1="435.1" y1="40.15" x2="435.1" y2="38.94" stroke="#000" stroke-width="0.7"/>
<line x1="433.6" y1="38.94" x2="436.6" y2="38.94" stroke="#000" stroke-width="0.7"/>
<line x1="435.1" y1="40.15" x2="435.1" y2="41.35" stroke="#000" stroke-width="0.7"/>
<line x1="433.6" y1="41.35" x2="436.6" y2="41.35" stroke="#000" stroke-width="0.7"/>
<circle cx="435.1" cy="40.15" r="1.9" fill="#fff" stroke="#000" stroke-width="0.8"/>
<line x1="447.6" y1="32.91" x2="447.6" y2="31.7" stroke="#000" stroke-width="0.7"/>
<line x1="446.1" y1="31.7" x2="449.1" y2="31.7" stroke="#000" stroke-width="0.7"/>
<line x1="447.6" y1="32.91" x2="447.6" y2="34.12" stroke="#000" stroke-width="0.7"/>
<line x1="446.1" y1="34.12" x2="449.1" y2="34.12" stroke="#000" stroke-width="0.7"/>
<circle cx="447.6" cy="32.91" r="1.9" fill="#fff" stroke="#000" stroke-width="0.8"/>
<line x1="460.1" y1="29.29" x2="460.1" y2="28.09" stroke="#000" stroke-width="0.7"/>
<line x1="458.6" y1="28.09" x2="461.6" y2="28.09" stroke="#000" stroke-width="0.7"/>
<line x1="460.1" y1="29.29" x2="460.1" y2="30.5" stroke="#000" stroke-width="0.7"/>
<line x1="458.6" y1="30.5" x2="461.6" y2="30.5" stroke="#000" stroke-width="0.7"/>
<circle cx="460.1" cy="29.29" r="1.9" fill="#fff" stroke="#000" stroke-width="0.8"/>
<line x1="472.6" y1="23.26" x2="472.6" y2="21.45" stroke="#000" stroke-width="0.7"/>
<line x1="471.1" y1="21.45" x2="474.1" y2="21.45" stroke="#000" stroke-width="0.7"/>
<line x1="472.6" y1="23.26" x2="472.6" y2="25.07" stroke="#000" stroke-width="0.7"/>
<line x1="471.1" y1="25.07" x2="474.1" y2="25.07" stroke="#000" stroke-width="0.7"/>
<circle cx="472.6" cy="23.26" r="1.9" fill="#fff" stroke="#000" stroke-width="0.8"/>
<line x1="485.1" y1="20.25" x2="485.1" y2="17.83" stroke="#000" stroke-width="0.7"/>
<line x1="483.6" y1="17.83" x2="486.6" y2="17.83" stroke="#000" stroke-width="0.7"/>
<line x1="485.1" y1="20.25" x2="485.1" y2="22.66" stroke="#000" stroke-width="0.7"/>
<line x1="483.6" y1="22.66" x2="486.6" y2="22.66" stroke="#000" stroke-width="0.7"/>
<circle cx="485.1" cy="20.25" r="1.9" fill="#fff" stroke="#000" stroke-width="0.8"/>
<line x1="497.6" y1="17.23" x2="497.6" y2="14.22" stroke="#000" stroke-width="0.7"/>
<line x1="496.1" y1="14.22" x2="499.1" y2="14.22" stroke="#000" stroke-width="0.7"/>
<line x1="497.6" y1="17.23" x2="497.6" y2="20.25" stroke="#000" stroke-width="0.7"/>
<line x1="496.1" y1="20.25" x2="499.1" y2="20.25" stroke="#000" stroke-width="0.7"/>
<circle cx="497.6" cy="17.23" r="1.9" fill="#fff" stroke="#000" stroke-width="0.8"/>
<line x1="510.1" y1="15.42" x2="510.1" y2="12.41" stroke="#000" stroke-width="0.7"/>
<line x1="508.6" y1="12.41" x2="511.6" y2="12.41" stroke="#000" stroke-width="0.7"/>
<line x1="510.1" y1="15.42" x2="510.1" y2="18.44" stroke="#000" stroke-width="0.7"/>
<line x1="508.6" y1="18.44" x2="511.6" y2="18.44" stroke="#000" stroke-width="0.7"/>
<circle cx="510.1" cy="15.42" r="1.9" fill="#fff" stroke="#000" stroke-width="0.8"/>
<line x1="397.6" y1="54.02" x2="397.6" y2="52.21" stroke="#000" stroke-width="0.7"/>
<line x1="396.1" y1="52.21" x2="399.1" y2="52.21" stroke="#000" stroke-width="0.7"/>
<line x1="397.6" y1="54.02" x2="397.6" y2="55.82" stroke="#000" stroke-width="0.7"/>
<line x1="396.1" y1="55.82" x2="399.1" y2="55.82" stroke="#000" stroke-width="0.7"/>
<rect x="395.7" y="52.12" width="3.8" height="3.8" fill="#000" stroke="#000" stroke-width="0.5"/>
<line x1="410.1" y1="55.22" x2="410.1" y2="54.01" stroke="#000" stroke-width="0.7"/>
<line x1="408.6" y1="54.01" x2="411.6" y2="54.01" stroke="#000" stroke-width="0.7"/>
<line x1="410.1" y1="55.22" x2="410.1" y2="56.43" stroke="#000" stroke-width="0.7"/>
<line x1="408.6" y1="56.43" x2="411.6" y2="56.43" stroke="#000" stroke-width="0.7"/>
<rect x="408.2" y="53.32" width="3.8" height="3.8" fill="#000" stroke="#000" stroke-width="0.5"/>
<line x1="422.6" y1="52.21" x2="422.6" y2="51" stroke="#000" stroke-width="0.7"/>
<line x1="421.1" y1="51" x2="424.1" y2="51" stroke="#000" stroke-width="0.7"/>
<line x1="422.6" y1="52.21" x2="422.6" y2="53.41" stroke="#000" stroke-width="0.7"/>
<line x1="421.1" y1="53.41" x2="424.1" y2="53.41" stroke="#000" stroke-width="0.7"/>
<rect x="420.7" y="50.31" width="3.8" height="3.8" fill="#000" stroke="#000" stroke-width="0.5"/>
<line x1="435.1" y1="49.79" x2="435.1" y2="48.59" stroke="#000" stroke-width="0.7"/>
<line x1="433.6" y1="48.59" x2="436.6" y2="48.59" stroke="#000" stroke-width="0.7"/>
<line x1="435.1" y1="49.79" x2="435.1" y2="51" stroke="#000" stroke-width="0.7"/>
<line x1="433.6" y1="51" x2="436.6" y2="51" stroke="#000" stroke-width="0.7"/>
<rect x="433.2" y="47.89" width="3.8" height="3.8" fill="#000" stroke="#000" stroke-width="0.5"/>
<line x1="447.6" y1="49.19" x2="447.6" y2="47.98" stroke="#000" stroke-width="0.7"/>
<line x1="446.1" y1="47.98" x2="449.1" y2="47.98" stroke="#000" stroke-width="0.7"/>
<line x1="447.6" y1="49.19" x2="447.6" y2="50.4" stroke="#000" stroke-width="0.7"/>
<line x1="446.1" y1="50.4" x2="449.1" y2="50.4" stroke="#000" stroke-width="0.7"/>
<rect x="445.7" y="47.29" width="3.8" height="3.8" fill="#000" stroke="#000" stroke-width="0.5"/>
<line x1="460.1" y1="48.59" x2="460.1" y2="46.78" stroke="#000" stroke-width="0.7"/>
<line x1="458.6" y1="46.78" x2="461.6" y2="46.78" stroke="#000" stroke-width="0.7"/>
<line x1="460.1" y1="48.59" x2="460.1" y2="50.4" stroke="#000" stroke-width="0.7"/>
<line x1="458.6" y1="50.4" x2="461.6" y2="50.4" stroke="#000" stroke-width="0.7"/>
<rect x="458.2" y="46.69" width="3.8" height="3.8" fill="#000" stroke="#000" stroke-width="0.5"/>
<line x1="472.6" y1="47.98" x2="472.6" y2="46.18" stroke="#000" stroke-width="0.7"/>
<line x1="471.1" y1="46.18" x2="474.1" y2="46.18" stroke="#000" stroke-width="0.7"/>
<line x1="472.6" y1="47.98" x2="472.6" y2="49.79" stroke="#000" stroke-width="0.7"/>
<line x1="471.1" y1="49.79" x2="474.1" y2="49.79" stroke="#000" stroke-width="0.7"/>
<rect x="470.7" y="46.09" width="3.8" height="3.8" fill="#000" stroke="#000" stroke-width="0.5"/>
<line x1="485.1" y1="47.98" x2="485.1" y2="46.18" stroke="#000" stroke-width="0.7"/>
<line x1="483.6" y1="46.18" x2="486.6" y2="46.18" stroke="#000" stroke-width="0.7"/>
<line x1="485.1" y1="47.98" x2="485.1" y2="49.79" stroke="#000" stroke-width="0.7"/>
<line x1="483.6" y1="49.79" x2="486.6" y2="49.79" stroke="#000" stroke-width="0.7"/>
<rect x="483.2" y="46.09" width="3.8" height="3.8" fill="#000" stroke="#000" stroke-width="0.5"/>
<line x1="497.6" y1="47.98" x2="497.6" y2="46.18" stroke="#000" stroke-width="0.7"/>
<line x1="496.1" y1="46.18" x2="499.1" y2="46.18" stroke="#000" stroke-width="0.7"/>
<line x1="497.6" y1="47.98" x2="497.6" y2="49.79" stroke="#000" stroke-width="0.7"/>
<line x1="496.1" y1="49.79" x2="499.1" y2="49.79" stroke="#000" stroke-width="0.7"/>
<rect x="495.7" y="46.09" width="3.8" height="3.8" fill="#000" stroke="#000" stroke-width="0.5"/>
<line x1="510.1" y1="48.59" x2="510.1" y2="46.78" stroke="#000" stroke-width="0.7"/>
<line x1="508.6" y1="46.78" x2="511.6" y2="46.78" stroke="#000" stroke-width="0.7"/>
<line x1="510.1" y1="48.59" x2="510.1" y2="50.4" stroke="#000" stroke-width="0.7"/>
<line x1="508.6" y1="50.4" x2="511.6" y2="50.4" stroke="#000" stroke-width="0.7"/>
<rect x="508.2" y="46.69" width="3.8" height="3.8" fill="#000" stroke="#000" stroke-width="0.5"/>
<line x1="397.6" y1="62.46" x2="397.6" y2="60.65" stroke="#000" stroke-width="0.7"/>
<line x1="396.1" y1="60.65" x2="399.1" y2="60.65" stroke="#000" stroke-width="0.7"/>
<line x1="397.6" y1="62.46" x2="397.6" y2="64.27" stroke="#000" stroke-width="0.7"/>
<line x1="396.1" y1="64.27" x2="399.1" y2="64.27" stroke="#000" stroke-width="0.7"/>
<circle cx="397.6" cy="62.46" r="1.9" fill="#000" stroke="#000" stroke-width="0.6"/>
<line x1="410.1" y1="64.27" x2="410.1" y2="62.46" stroke="#000" stroke-width="0.7"/>
<line x1="408.6" y1="62.46" x2="411.6" y2="62.46" stroke="#000" stroke-width="0.7"/>
<line x1="410.1" y1="64.27" x2="410.1" y2="66.07" stroke="#000" stroke-width="0.7"/>
<line x1="408.6" y1="66.07" x2="411.6" y2="66.07" stroke="#000" stroke-width="0.7"/>
<circle cx="410.1" cy="64.27" r="1.9" fill="#000" stroke="#000" stroke-width="0.6"/>
<line x1="422.6" y1="58.84" x2="422.6" y2="57.03" stroke="#000" stroke-width="0.7"/>
<line x1="421.1" y1="57.03" x2="424.1" y2="57.03" stroke="#000" stroke-width="0.7"/>
<line x1="422.6" y1="58.84" x2="422.6" y2="60.65" stroke="#000" stroke-width="0.7"/>
<line x1="421.1" y1="60.65" x2="424.1" y2="60.65" stroke="#000" stroke-width="0.7"/>
<circle cx="422.6" cy="58.84" r="1.9" fill="#000" stroke="#000" stroke-width="0.6"/>
<line x1="435.1" y1="53.41" x2="435.1" y2="51.6" stroke="#000" stroke-width="0.7"/>
<line x1="433.6" y1="51.6" x2="436.6" y2="51.6" stroke="#000" stroke-width="0.7"/>
<line x1="435.1" y1="53.41" x2="435.1" y2="55.22" stroke="#000" stroke-width="0.7"/>
<line x1="433.6" y1="55.22" x2="436.6" y2="55.22" stroke="#000" stroke-width="0.7"/>
<circle cx="435.1" cy="53.41" r="1.9" fill="#000" stroke="#000" stroke-width="0.6"/>
<line x1="447.6" y1="49.79" x2="447.6" y2="47.99" stroke="#000" stroke-width="0.7"/>
<line x1="446.1" y1="47.99" x2="449.1" y2="47.99" stroke="#000" stroke-width="0.7"/>
<line x1="447.6" y1="49.79" x2="447.6" y2="51.6" stroke="#000" stroke-width="0.7"/>
<line x1="446.1" y1="51.6" x2="449.1" y2="51.6" stroke="#000" stroke-width="0.7"/>
<circle cx="447.6" cy="49.79" r="1.9" fill="#000" stroke="#000" stroke-width="0.6"/>
<line x1="460.1" y1="46.18" x2="460.1" y2="44.37" stroke="#000" stroke-width="0.7"/>
<line x1="458.6" y1="44.37" x2="461.6" y2="44.37" stroke="#000" stroke-width="0.7"/>
<line x1="460.1" y1="46.18" x2="460.1" y2="47.98" stroke="#000" stroke-width="0.7"/>
<line x1="458.6" y1="47.98" x2="461.6" y2="47.98" stroke="#000" stroke-width="0.7"/>
<circle cx="460.1" cy="46.18" r="1.9" fill="#000" stroke="#000" stroke-width="0.6"/>
<line x1="472.6" y1="42.56" x2="472.6" y2="40.15" stroke="#000" stroke-width="0.7"/>
<line x1="471.1" y1="40.15" x2="474.1" y2="40.15" stroke="#000" stroke-width="0.7"/>
<line x1="472.6" y1="42.56" x2="472.6" y2="44.97" stroke="#000" stroke-width="0.7"/>
<line x1="471.1" y1="44.97" x2="474.1" y2="44.97" stroke="#000" stroke-width="0.7"/>
<circle cx="472.6" cy="42.56" r="1.9" fill="#000" stroke="#000" stroke-width="0.6"/>
<line x1="485.1" y1="39.54" x2="485.1" y2="37.13" stroke="#000" stroke-width="0.7"/>
<line x1="483.6" y1="37.13" x2="486.6" y2="37.13" stroke="#000" stroke-width="0.7"/>
<line x1="485.1" y1="39.54" x2="485.1" y2="41.96" stroke="#000" stroke-width="0.7"/>
<line x1="483.6" y1="41.96" x2="486.6" y2="41.96" stroke="#000" stroke-width="0.7"/>
<circle cx="485.1" cy="39.54" r="1.9" fill="#000" stroke="#000" stroke-width="0.6"/>
<line x1="497.6" y1="38.34" x2="497.6" y2="35.32" stroke="#000" stroke-width="0.7"/>
<line x1="496.1" y1="35.32" x2="499.1" y2="35.32" stroke="#000" stroke-width="0.7"/>
<line x1="497.6" y1="38.34" x2="497.6" y2="41.35" stroke="#000" stroke-width="0.7"/>
<line x1="496.1" y1="41.35" x2="499.1" y2="41.35" stroke="#000" stroke-width="0.7"/>
<circle cx="497.6" cy="38.34" r="1.9" fill="#000" stroke="#000" stroke-width="0.6"/>
<line x1="510.1" y1="38.34" x2="510.1" y2="35.32" stroke="#000" stroke-width="0.7"/>
<line x1="508.6" y1="35.32" x2="511.6" y2="35.32" stroke="#000" stroke-width="0.7"/>
<line x1="510.1" y1="38.34" x2="510.1" y2="41.35" stroke="#000" stroke-width="0.7"/>
<line x1="508.6" y1="41.35" x2="511.6" y2="41.35" stroke="#000" stroke-width="0.7"/>
<circle cx="510.1" cy="38.34" r="1.9" fill="#000" stroke="#000" stroke-width="0.6"/>
<text x="410.1" y="74.55" font-size="8.5" font-weight="bold" text-anchor="middle">*</text>
<text x="422.6" y="70.05" font-size="8.5" font-weight="bold" text-anchor="middle">*</text>
<text x="435.1" y="64.85" font-size="8.5" font-weight="bold" text-anchor="middle">*</text>
<text x="447.6" y="61.65" font-size="8.5" font-weight="bold" text-anchor="middle">*</text>
<text x="460.1" y="45.85" font-size="8.5" font-weight="bold" text-anchor="middle">*</text>
<text x="472.6" y="42.55" font-size="8.5" font-weight="bold" text-anchor="middle">*</text>
<text x="485.1" y="39.55" font-size="8.5" font-weight="bold" text-anchor="middle">*</text>
<text x="497.6" y="38.85" font-size="8.5" font-weight="bold" text-anchor="middle">*</text>
<text x="510.1" y="38.35" font-size="8.5" font-weight="bold" text-anchor="middle">*</text>
<text x="422.6" y="58.9" font-size="5.6" font-weight="bold" text-anchor="middle" style="stroke-width:0.1px">#</text>
<text x="435.1" y="58.4" font-size="5.6" font-weight="bold" text-anchor="middle" style="stroke-width:0.1px">#</text>
<text x="447.6" y="55.9" font-size="5.6" font-weight="bold" text-anchor="middle" style="stroke-width:0.1px">#</text>
<text x="460.1" y="56.9" font-size="5.6" font-weight="bold" text-anchor="middle" style="stroke-width:0.1px">#</text>
<text x="472.6" y="56.9" font-size="5.6" font-weight="bold" text-anchor="middle" style="stroke-width:0.1px">#</text>
<text x="485.1" y="56.5" font-size="5.6" font-weight="bold" text-anchor="middle" style="stroke-width:0.1px">#</text>
<text x="497.6" y="56.5" font-size="5.6" font-weight="bold" text-anchor="middle" style="stroke-width:0.1px">#</text>
<text x="510.1" y="57.2" font-size="5.6" font-weight="bold" text-anchor="middle" style="stroke-width:0.1px">#</text>
<text x="435.1" y="46.9" font-size="5.6" font-weight="bold" text-anchor="middle" style="stroke-width:0.1px">#</text>
<text x="447.6" y="46.9" font-size="5.6" font-weight="bold" text-anchor="middle" style="stroke-width:0.1px">#</text>
<circle cx="401.9" cy="3.8" r="1.71" fill="#fff" stroke="#000" stroke-width="0.8"/>
<circle cx="401.9" cy="11" r="1.71" fill="#000" stroke="#000" stroke-width="0.6"/>
<text x="411.6" y="5.71" font-size="5.3" font-weight="bold">WT CON</text>
<text x="411.6" y="12.91" font-size="5.3" font-weight="bold">WT MR</text>
<rect x="452.69" y="2.09" width="3.42" height="3.42" fill="#fff" stroke="#000" stroke-width="0.8"/>
<rect x="452.69" y="9.29" width="3.42" height="3.42" fill="#000" stroke="#000" stroke-width="0.5"/>
<text x="464.2" y="5.71" font-size="5.3" font-weight="bold"><tspan font-style="italic">Fgf21</tspan><tspan font-size="3.18" dy="-2.12">-/-</tspan><tspan dy="2.12"> CON</tspan></text>
<text x="464.2" y="12.91" font-size="5.3" font-weight="bold"><tspan font-style="italic">Fgf21</tspan><tspan font-size="3.18" dy="-2.12">-/-</tspan><tspan dy="2.12"> MR</tspan></text>
<text x="1.07" y="115.7" font-size="15.3" font-weight="bold">D</text>
<line x1="28.6" y1="113.95" x2="28.6" y2="194.8" stroke="#000" stroke-width="1.1"/>
<line x1="27" y1="194.8" x2="28.6" y2="194.8" stroke="#000" stroke-width="0.8"/>
<text x="26.4" y="197.32" font-size="7" font-weight="bold" text-anchor="end">2.0</text>
<line x1="27" y1="183.25" x2="28.6" y2="183.25" stroke="#000" stroke-width="0.8"/>
<text x="26.4" y="185.77" font-size="7" font-weight="bold" text-anchor="end">2.5</text>
<line x1="27" y1="171.7" x2="28.6" y2="171.7" stroke="#000" stroke-width="0.8"/>
<text x="26.4" y="174.22" font-size="7" font-weight="bold" text-anchor="end">3.0</text>
<line x1="27" y1="160.15" x2="28.6" y2="160.15" stroke="#000" stroke-width="0.8"/>
<text x="26.4" y="162.67" font-size="7" font-weight="bold" text-anchor="end">3.5</text>
<line x1="27" y1="148.6" x2="28.6" y2="148.6" stroke="#000" stroke-width="0.8"/>
<text x="26.4" y="151.12" font-size="7" font-weight="bold" text-anchor="end">4.0</text>
<line x1="27" y1="137.05" x2="28.6" y2="137.05" stroke="#000" stroke-width="0.8"/>
<text x="26.4" y="139.57" font-size="7" font-weight="bold" text-anchor="end">4.5</text>
<line x1="27" y1="125.5" x2="28.6" y2="125.5" stroke="#000" stroke-width="0.8"/>
<text x="26.4" y="128.02" font-size="7" font-weight="bold" text-anchor="end">5.0</text>
<line x1="27" y1="113.95" x2="28.6" y2="113.95" stroke="#000" stroke-width="0.8"/>
<text x="26.4" y="116.47" font-size="7" font-weight="bold" text-anchor="end">5.5</text>
<line x1="37.6" y1="205.1" x2="165.4" y2="205.1" stroke="#000" stroke-width="1.1"/>
<line x1="37.6" y1="205.1" x2="37.6" y2="206.7" stroke="#000" stroke-width="0.8"/>
<text x="37.6" y="214.82" font-size="7" font-weight="bold" text-anchor="middle">0</text>
<line x1="51.8" y1="205.1" x2="51.8" y2="206.7" stroke="#000" stroke-width="0.8"/>
<text x="51.8" y="214.82" font-size="7" font-weight="bold" text-anchor="middle">1</text>
<line x1="66" y1="205.1" x2="66" y2="206.7" stroke="#000" stroke-width="0.8"/>
<text x="66" y="214.82" font-size="7" font-weight="bold" text-anchor="middle">2</text>
<line x1="80.2" y1="205.1" x2="80.2" y2="206.7" stroke="#000" stroke-width="0.8"/>
<text x="80.2" y="214.82" font-size="7" font-weight="bold" text-anchor="middle">3</text>
<line x1="94.4" y1="205.1" x2="94.4" y2="206.7" stroke="#000" stroke-width="0.8"/>
<text x="94.4" y="214.82" font-size="7" font-weight="bold" text-anchor="middle">4</text>
<line x1="108.6" y1="205.1" x2="108.6" y2="206.7" stroke="#000" stroke-width="0.8"/>
<text x="108.6" y="214.82" font-size="7" font-weight="bold" text-anchor="middle">5</text>
<line x1="122.8" y1="205.1" x2="122.8" y2="206.7" stroke="#000" stroke-width="0.8"/>
<text x="122.8" y="214.82" font-size="7" font-weight="bold" text-anchor="middle">6</text>
<line x1="137" y1="205.1" x2="137" y2="206.7" stroke="#000" stroke-width="0.8"/>
<text x="137" y="214.82" font-size="7" font-weight="bold" text-anchor="middle">7</text>
<line x1="151.2" y1="205.1" x2="151.2" y2="206.7" stroke="#000" stroke-width="0.8"/>
<text x="151.2" y="214.82" font-size="7" font-weight="bold" text-anchor="middle">8</text>
<line x1="165.4" y1="205.1" x2="165.4" y2="206.7" stroke="#000" stroke-width="0.8"/>
<text x="165.4" y="214.82" font-size="7" font-weight="bold" text-anchor="middle">9</text>
<text x="101.4" y="224.54" font-size="7.6" font-weight="bold" text-anchor="middle">Weeks on Diet</text>
<text x="7.62" y="158.7" font-size="7" textLength="39.2" lengthAdjust="spacingAndGlyphs" font-weight="bold" text-anchor="middle" transform="rotate(-90 7.62 158.7)">Fat Mass (g)</text>
<polyline points="37.6,174.7 51.8,165 66,159.23 80.2,151.83 94.4,155.76 108.6,154.84 122.8,151.83 137,150.45 151.2,154.61 165.4,154.61" fill="none" stroke="#000" stroke-width="0.9" stroke-linejoin="round"/>
<polyline points="37.6,162.92 51.8,160.84 66,162 80.2,156.22 94.4,155.76 108.6,154.61 122.8,151.37 137,139.82 151.2,139.36 165.4,133.59" fill="none" stroke="#000" stroke-width="0.9" stroke-linejoin="round"/>
<polyline points="37.6,179.32 51.8,175.17 66,174.01 80.2,169.62 94.4,174.7 108.6,179.32 122.8,180.48 137,182.1 151.2,186.95 165.4,191.1" fill="none" stroke="#000" stroke-width="0.9" stroke-linejoin="round"/>
<polyline points="37.6,165.93 51.8,174.47 66,173.55 80.2,169.62 94.4,172.62 108.6,170.08 122.8,166.16 137,164.54 151.2,174.24 165.4,172.16" fill="none" stroke="#000" stroke-width="0.9" stroke-linejoin="round"/>
<line x1="37.6" y1="174.7" x2="37.6" y2="173.55" stroke="#000" stroke-width="0.7"/>
<line x1="36.1" y1="173.55" x2="39.1" y2="173.55" stroke="#000" stroke-width="0.7"/>
<line x1="37.6" y1="174.7" x2="37.6" y2="175.86" stroke="#000" stroke-width="0.7"/>
<line x1="36.1" y1="175.86" x2="39.1" y2="175.86" stroke="#000" stroke-width="0.7"/>
<rect x="35.3" y="172.4" width="4.6" height="4.6" fill="#fff" stroke="#000" stroke-width="0.8"/>
<line x1="51.8" y1="165" x2="51.8" y2="162.69" stroke="#000" stroke-width="0.7"/>
<line x1="50.3" y1="162.69" x2="53.3" y2="162.69" stroke="#000" stroke-width="0.7"/>
<line x1="51.8" y1="165" x2="51.8" y2="167.31" stroke="#000" stroke-width="0.7"/>
<line x1="50.3" y1="167.31" x2="53.3" y2="167.31" stroke="#000" stroke-width="0.7"/>
<rect x="49.5" y="162.7" width="4.6" height="4.6" fill="#fff" stroke="#000" stroke-width="0.8"/>
<line x1="66" y1="159.23" x2="66" y2="156.92" stroke="#000" stroke-width="0.7"/>
<line x1="64.5" y1="156.92" x2="67.5" y2="156.92" stroke="#000" stroke-width="0.7"/>
<line x1="66" y1="159.23" x2="66" y2="161.54" stroke="#000" stroke-width="0.7"/>
<line x1="64.5" y1="161.54" x2="67.5" y2="161.54" stroke="#000" stroke-width="0.7"/>
<rect x="63.7" y="156.93" width="4.6" height="4.6" fill="#fff" stroke="#000" stroke-width="0.8"/>
<line x1="80.2" y1="151.83" x2="80.2" y2="147.21" stroke="#000" stroke-width="0.7"/>
<line x1="78.7" y1="147.21" x2="81.7" y2="147.21" stroke="#000" stroke-width="0.7"/>
<line x1="80.2" y1="151.83" x2="80.2" y2="156.45" stroke="#000" stroke-width="0.7"/>
<line x1="78.7" y1="156.45" x2="81.7" y2="156.45" stroke="#000" stroke-width="0.7"/>
<rect x="77.9" y="149.53" width="4.6" height="4.6" fill="#fff" stroke="#000" stroke-width="0.8"/>
<line x1="94.4" y1="155.76" x2="94.4" y2="152.3" stroke="#000" stroke-width="0.7"/>
<line x1="92.9" y1="152.3" x2="95.9" y2="152.3" stroke="#000" stroke-width="0.7"/>
<line x1="94.4" y1="155.76" x2="94.4" y2="159.23" stroke="#000" stroke-width="0.7"/>
<line x1="92.9" y1="159.23" x2="95.9" y2="159.23" stroke="#000" stroke-width="0.7"/>
<rect x="92.1" y="153.46" width="4.6" height="4.6" fill="#fff" stroke="#000" stroke-width="0.8"/>
<line x1="108.6" y1="154.84" x2="108.6" y2="151.37" stroke="#000" stroke-width="0.7"/>
<line x1="107.1" y1="151.37" x2="110.1" y2="151.37" stroke="#000" stroke-width="0.7"/>
<line x1="108.6" y1="154.84" x2="108.6" y2="158.3" stroke="#000" stroke-width="0.7"/>
<line x1="107.1" y1="158.3" x2="110.1" y2="158.3" stroke="#000" stroke-width="0.7"/>
<rect x="106.3" y="152.54" width="4.6" height="4.6" fill="#fff" stroke="#000" stroke-width="0.8"/>
<line x1="122.8" y1="151.83" x2="122.8" y2="148.37" stroke="#000" stroke-width="0.7"/>
<line x1="121.3" y1="148.37" x2="124.3" y2="148.37" stroke="#000" stroke-width="0.7"/>
<line x1="122.8" y1="151.83" x2="122.8" y2="155.3" stroke="#000" stroke-width="0.7"/>
<line x1="121.3" y1="155.3" x2="124.3" y2="155.3" stroke="#000" stroke-width="0.7"/>
<rect x="120.5" y="149.53" width="4.6" height="4.6" fill="#fff" stroke="#000" stroke-width="0.8"/>
<line x1="137" y1="150.45" x2="137" y2="146.98" stroke="#000" stroke-width="0.7"/>
<line x1="135.5" y1="146.98" x2="138.5" y2="146.98" stroke="#000" stroke-width="0.7"/>
<line x1="137" y1="150.45" x2="137" y2="153.91" stroke="#000" stroke-width="0.7"/>
<line x1="135.5" y1="153.91" x2="138.5" y2="153.91" stroke="#000" stroke-width="0.7"/>
<rect x="134.7" y="148.15" width="4.6" height="4.6" fill="#fff" stroke="#000" stroke-width="0.8"/>
<line x1="151.2" y1="154.61" x2="151.2" y2="149.99" stroke="#000" stroke-width="0.7"/>
<line x1="149.7" y1="149.99" x2="152.7" y2="149.99" stroke="#000" stroke-width="0.7"/>
<line x1="151.2" y1="154.61" x2="151.2" y2="159.23" stroke="#000" stroke-width="0.7"/>
<line x1="149.7" y1="159.23" x2="152.7" y2="159.23" stroke="#000" stroke-width="0.7"/>
<rect x="148.9" y="152.31" width="4.6" height="4.6" fill="#fff" stroke="#000" stroke-width="0.8"/>
<line x1="165.4" y1="154.61" x2="165.4" y2="148.83" stroke="#000" stroke-width="0.7"/>
<line x1="163.9" y1="148.83" x2="166.9" y2="148.83" stroke="#000" stroke-width="0.7"/>
<line x1="165.4" y1="154.61" x2="165.4" y2="160.38" stroke="#000" stroke-width="0.7"/>
<line x1="163.9" y1="160.38" x2="166.9" y2="160.38" stroke="#000" stroke-width="0.7"/>
<rect x="163.1" y="152.31" width="4.6" height="4.6" fill="#fff" stroke="#000" stroke-width="0.8"/>
<line x1="37.6" y1="162.92" x2="37.6" y2="161.77" stroke="#000" stroke-width="0.7"/>
<line x1="36.1" y1="161.77" x2="39.1" y2="161.77" stroke="#000" stroke-width="0.7"/>
<line x1="37.6" y1="162.92" x2="37.6" y2="164.08" stroke="#000" stroke-width="0.7"/>
<line x1="36.1" y1="164.08" x2="39.1" y2="164.08" stroke="#000" stroke-width="0.7"/>
<circle cx="37.6" cy="162.92" r="2.3" fill="#fff" stroke="#000" stroke-width="0.8"/>
<line x1="51.8" y1="160.84" x2="51.8" y2="159.69" stroke="#000" stroke-width="0.7"/>
<line x1="50.3" y1="159.69" x2="53.3" y2="159.69" stroke="#000" stroke-width="0.7"/>
<line x1="51.8" y1="160.84" x2="51.8" y2="162" stroke="#000" stroke-width="0.7"/>
<line x1="50.3" y1="162" x2="53.3" y2="162" stroke="#000" stroke-width="0.7"/>
<circle cx="51.8" cy="160.84" r="2.3" fill="#fff" stroke="#000" stroke-width="0.8"/>
<line x1="66" y1="162" x2="66" y2="158.53" stroke="#000" stroke-width="0.7"/>
<line x1="64.5" y1="158.53" x2="67.5" y2="158.53" stroke="#000" stroke-width="0.7"/>
<line x1="66" y1="162" x2="66" y2="165.46" stroke="#000" stroke-width="0.7"/>
<line x1="64.5" y1="165.46" x2="67.5" y2="165.46" stroke="#000" stroke-width="0.7"/>
<circle cx="66" cy="162" r="2.3" fill="#fff" stroke="#000" stroke-width="0.8"/>
<line x1="80.2" y1="156.22" x2="80.2" y2="152.76" stroke="#000" stroke-width="0.7"/>
<line x1="78.7" y1="152.76" x2="81.7" y2="152.76" stroke="#000" stroke-width="0.7"/>
<line x1="80.2" y1="156.22" x2="80.2" y2="159.69" stroke="#000" stroke-width="0.7"/>
<line x1="78.7" y1="159.69" x2="81.7" y2="159.69" stroke="#000" stroke-width="0.7"/>
<circle cx="80.2" cy="156.22" r="2.3" fill="#fff" stroke="#000" stroke-width="0.8"/>
<line x1="94.4" y1="155.76" x2="94.4" y2="153.45" stroke="#000" stroke-width="0.7"/>
<line x1="92.9" y1="153.45" x2="95.9" y2="153.45" stroke="#000" stroke-width="0.7"/>
<line x1="94.4" y1="155.76" x2="94.4" y2="158.07" stroke="#000" stroke-width="0.7"/>
<line x1="92.9" y1="158.07" x2="95.9" y2="158.07" stroke="#000" stroke-width="0.7"/>
<circle cx="94.4" cy="155.76" r="2.3" fill="#fff" stroke="#000" stroke-width="0.8"/>
<line x1="108.6" y1="154.61" x2="108.6" y2="151.14" stroke="#000" stroke-width="0.7"/>
<line x1="107.1" y1="151.14" x2="110.1" y2="151.14" stroke="#000" stroke-width="0.7"/>
<line x1="108.6" y1="154.61" x2="108.6" y2="158.07" stroke="#000" stroke-width="0.7"/>
<line x1="107.1" y1="158.07" x2="110.1" y2="158.07" stroke="#000" stroke-width="0.7"/>
<circle cx="108.6" cy="154.61" r="2.3" fill="#fff" stroke="#000" stroke-width="0.8"/>
<line x1="122.8" y1="151.37" x2="122.8" y2="147.91" stroke="#000" stroke-width="0.7"/>
<line x1="121.3" y1="147.91" x2="124.3" y2="147.91" stroke="#000" stroke-width="0.7"/>
<line x1="122.8" y1="151.37" x2="122.8" y2="154.84" stroke="#000" stroke-width="0.7"/>
<line x1="121.3" y1="154.84" x2="124.3" y2="154.84" stroke="#000" stroke-width="0.7"/>
<circle cx="122.8" cy="151.37" r="2.3" fill="#fff" stroke="#000" stroke-width="0.8"/>
<line x1="137" y1="139.82" x2="137" y2="136.36" stroke="#000" stroke-width="0.7"/>
<line x1="135.5" y1="136.36" x2="138.5" y2="136.36" stroke="#000" stroke-width="0.7"/>
<line x1="137" y1="139.82" x2="137" y2="143.29" stroke="#000" stroke-width="0.7"/>
<line x1="135.5" y1="143.29" x2="138.5" y2="143.29" stroke="#000" stroke-width="0.7"/>
<circle cx="137" cy="139.82" r="2.3" fill="#fff" stroke="#000" stroke-width="0.8"/>
<line x1="151.2" y1="139.36" x2="151.2" y2="135.9" stroke="#000" stroke-width="0.7"/>
<line x1="149.7" y1="135.9" x2="152.7" y2="135.9" stroke="#000" stroke-width="0.7"/>
<line x1="151.2" y1="139.36" x2="151.2" y2="142.83" stroke="#000" stroke-width="0.7"/>
<line x1="149.7" y1="142.83" x2="152.7" y2="142.83" stroke="#000" stroke-width="0.7"/>
<circle cx="151.2" cy="139.36" r="2.3" fill="#fff" stroke="#000" stroke-width="0.8"/>
<line x1="165.4" y1="133.59" x2="165.4" y2="128.97" stroke="#000" stroke-width="0.7"/>
<line x1="163.9" y1="128.97" x2="166.9" y2="128.97" stroke="#000" stroke-width="0.7"/>
<line x1="165.4" y1="133.59" x2="165.4" y2="138.21" stroke="#000" stroke-width="0.7"/>
<line x1="163.9" y1="138.21" x2="166.9" y2="138.21" stroke="#000" stroke-width="0.7"/>
<circle cx="165.4" cy="133.59" r="2.3" fill="#fff" stroke="#000" stroke-width="0.8"/>
<line x1="37.6" y1="179.32" x2="37.6" y2="178.17" stroke="#000" stroke-width="0.7"/>
<line x1="36.1" y1="178.17" x2="39.1" y2="178.17" stroke="#000" stroke-width="0.7"/>
<line x1="37.6" y1="179.32" x2="37.6" y2="180.48" stroke="#000" stroke-width="0.7"/>
<line x1="36.1" y1="180.48" x2="39.1" y2="180.48" stroke="#000" stroke-width="0.7"/>
<rect x="35.3" y="177.02" width="4.6" height="4.6" fill="#000" stroke="#000" stroke-width="0.5"/>
<line x1="51.8" y1="175.17" x2="51.8" y2="172.86" stroke="#000" stroke-width="0.7"/>
<line x1="50.3" y1="172.86" x2="53.3" y2="172.86" stroke="#000" stroke-width="0.7"/>
<line x1="51.8" y1="175.17" x2="51.8" y2="177.48" stroke="#000" stroke-width="0.7"/>
<line x1="50.3" y1="177.48" x2="53.3" y2="177.48" stroke="#000" stroke-width="0.7"/>
<rect x="49.5" y="172.87" width="4.6" height="4.6" fill="#000" stroke="#000" stroke-width="0.5"/>
<line x1="66" y1="174.01" x2="66" y2="172.16" stroke="#000" stroke-width="0.7"/>
<line x1="64.5" y1="172.16" x2="67.5" y2="172.16" stroke="#000" stroke-width="0.7"/>
<line x1="66" y1="174.01" x2="66" y2="175.86" stroke="#000" stroke-width="0.7"/>
<line x1="64.5" y1="175.86" x2="67.5" y2="175.86" stroke="#000" stroke-width="0.7"/>
<rect x="63.7" y="171.71" width="4.6" height="4.6" fill="#000" stroke="#000" stroke-width="0.5"/>
<line x1="80.2" y1="169.62" x2="80.2" y2="167.31" stroke="#000" stroke-width="0.7"/>
<line x1="78.7" y1="167.31" x2="81.7" y2="167.31" stroke="#000" stroke-width="0.7"/>
<line x1="80.2" y1="169.62" x2="80.2" y2="171.93" stroke="#000" stroke-width="0.7"/>
<line x1="78.7" y1="171.93" x2="81.7" y2="171.93" stroke="#000" stroke-width="0.7"/>
<rect x="77.9" y="167.32" width="4.6" height="4.6" fill="#000" stroke="#000" stroke-width="0.5"/>
<line x1="94.4" y1="174.7" x2="94.4" y2="172.85" stroke="#000" stroke-width="0.7"/>
<line x1="92.9" y1="172.85" x2="95.9" y2="172.85" stroke="#000" stroke-width="0.7"/>
<line x1="94.4" y1="174.7" x2="94.4" y2="176.55" stroke="#000" stroke-width="0.7"/>
<line x1="92.9" y1="176.55" x2="95.9" y2="176.55" stroke="#000" stroke-width="0.7"/>
<rect x="92.1" y="172.4" width="4.6" height="4.6" fill="#000" stroke="#000" stroke-width="0.5"/>
<line x1="108.6" y1="179.32" x2="108.6" y2="177.47" stroke="#000" stroke-width="0.7"/>
<line x1="107.1" y1="177.47" x2="110.1" y2="177.47" stroke="#000" stroke-width="0.7"/>
<line x1="108.6" y1="179.32" x2="108.6" y2="181.17" stroke="#000" stroke-width="0.7"/>
<line x1="107.1" y1="181.17" x2="110.1" y2="181.17" stroke="#000" stroke-width="0.7"/>
<rect x="106.3" y="177.02" width="4.6" height="4.6" fill="#000" stroke="#000" stroke-width="0.5"/>
<line x1="122.8" y1="180.48" x2="122.8" y2="179.32" stroke="#000" stroke-width="0.7"/>
<line x1="121.3" y1="179.32" x2="124.3" y2="179.32" stroke="#000" stroke-width="0.7"/>
<line x1="122.8" y1="180.48" x2="122.8" y2="181.63" stroke="#000" stroke-width="0.7"/>
<line x1="121.3" y1="181.63" x2="124.3" y2="181.63" stroke="#000" stroke-width="0.7"/>
<rect x="120.5" y="178.18" width="4.6" height="4.6" fill="#000" stroke="#000" stroke-width="0.5"/>
<line x1="137" y1="182.1" x2="137" y2="180.94" stroke="#000" stroke-width="0.7"/>
<line x1="135.5" y1="180.94" x2="138.5" y2="180.94" stroke="#000" stroke-width="0.7"/>
<line x1="137" y1="182.1" x2="137" y2="183.25" stroke="#000" stroke-width="0.7"/>
<line x1="135.5" y1="183.25" x2="138.5" y2="183.25" stroke="#000" stroke-width="0.7"/>
<rect x="134.7" y="179.8" width="4.6" height="4.6" fill="#000" stroke="#000" stroke-width="0.5"/>
<line x1="151.2" y1="186.95" x2="151.2" y2="185.79" stroke="#000" stroke-width="0.7"/>
<line x1="149.7" y1="185.79" x2="152.7" y2="185.79" stroke="#000" stroke-width="0.7"/>
<line x1="151.2" y1="186.95" x2="151.2" y2="188.1" stroke="#000" stroke-width="0.7"/>
<line x1="149.7" y1="188.1" x2="152.7" y2="188.1" stroke="#000" stroke-width="0.7"/>
<rect x="148.9" y="184.65" width="4.6" height="4.6" fill="#000" stroke="#000" stroke-width="0.5"/>
<line x1="165.4" y1="191.1" x2="165.4" y2="189.95" stroke="#000" stroke-width="0.7"/>
<line x1="163.9" y1="189.95" x2="166.9" y2="189.95" stroke="#000" stroke-width="0.7"/>
<line x1="165.4" y1="191.1" x2="165.4" y2="192.26" stroke="#000" stroke-width="0.7"/>
<line x1="163.9" y1="192.26" x2="166.9" y2="192.26" stroke="#000" stroke-width="0.7"/>
<rect x="163.1" y="188.8" width="4.6" height="4.6" fill="#000" stroke="#000" stroke-width="0.5"/>
<line x1="37.6" y1="165.93" x2="37.6" y2="164.77" stroke="#000" stroke-width="0.7"/>
<line x1="36.1" y1="164.77" x2="39.1" y2="164.77" stroke="#000" stroke-width="0.7"/>
<line x1="37.6" y1="165.93" x2="37.6" y2="167.08" stroke="#000" stroke-width="0.7"/>
<line x1="36.1" y1="167.08" x2="39.1" y2="167.08" stroke="#000" stroke-width="0.7"/>
<circle cx="37.6" cy="165.93" r="2.3" fill="#000" stroke="#000" stroke-width="0.6"/>
<line x1="51.8" y1="174.47" x2="51.8" y2="172.62" stroke="#000" stroke-width="0.7"/>
<line x1="50.3" y1="172.62" x2="53.3" y2="172.62" stroke="#000" stroke-width="0.7"/>
<line x1="51.8" y1="174.47" x2="51.8" y2="176.32" stroke="#000" stroke-width="0.7"/>
<line x1="50.3" y1="176.32" x2="53.3" y2="176.32" stroke="#000" stroke-width="0.7"/>
<circle cx="51.8" cy="174.47" r="2.3" fill="#000" stroke="#000" stroke-width="0.6"/>
<line x1="66" y1="173.55" x2="66" y2="171.7" stroke="#000" stroke-width="0.7"/>
<line x1="64.5" y1="171.7" x2="67.5" y2="171.7" stroke="#000" stroke-width="0.7"/>
<line x1="66" y1="173.55" x2="66" y2="175.4" stroke="#000" stroke-width="0.7"/>
<line x1="64.5" y1="175.4" x2="67.5" y2="175.4" stroke="#000" stroke-width="0.7"/>
<circle cx="66" cy="173.55" r="2.3" fill="#000" stroke="#000" stroke-width="0.6"/>
<line x1="80.2" y1="169.62" x2="80.2" y2="167.31" stroke="#000" stroke-width="0.7"/>
<line x1="78.7" y1="167.31" x2="81.7" y2="167.31" stroke="#000" stroke-width="0.7"/>
<line x1="80.2" y1="169.62" x2="80.2" y2="171.93" stroke="#000" stroke-width="0.7"/>
<line x1="78.7" y1="171.93" x2="81.7" y2="171.93" stroke="#000" stroke-width="0.7"/>
<circle cx="80.2" cy="169.62" r="2.3" fill="#000" stroke="#000" stroke-width="0.6"/>
<line x1="94.4" y1="172.62" x2="94.4" y2="170.31" stroke="#000" stroke-width="0.7"/>
<line x1="92.9" y1="170.31" x2="95.9" y2="170.31" stroke="#000" stroke-width="0.7"/>
<line x1="94.4" y1="172.62" x2="94.4" y2="174.93" stroke="#000" stroke-width="0.7"/>
<line x1="92.9" y1="174.93" x2="95.9" y2="174.93" stroke="#000" stroke-width="0.7"/>
<circle cx="94.4" cy="172.62" r="2.3" fill="#000" stroke="#000" stroke-width="0.6"/>
<line x1="108.6" y1="170.08" x2="108.6" y2="168.24" stroke="#000" stroke-width="0.7"/>
<line x1="107.1" y1="168.24" x2="110.1" y2="168.24" stroke="#000" stroke-width="0.7"/>
<line x1="108.6" y1="170.08" x2="108.6" y2="171.93" stroke="#000" stroke-width="0.7"/>
<line x1="107.1" y1="171.93" x2="110.1" y2="171.93" stroke="#000" stroke-width="0.7"/>
<circle cx="108.6" cy="170.08" r="2.3" fill="#000" stroke="#000" stroke-width="0.6"/>
<line x1="122.8" y1="166.16" x2="122.8" y2="164.31" stroke="#000" stroke-width="0.7"/>
<line x1="121.3" y1="164.31" x2="124.3" y2="164.31" stroke="#000" stroke-width="0.7"/>
<line x1="122.8" y1="166.16" x2="122.8" y2="168" stroke="#000" stroke-width="0.7"/>
<line x1="121.3" y1="168" x2="124.3" y2="168" stroke="#000" stroke-width="0.7"/>
<circle cx="122.8" cy="166.16" r="2.3" fill="#000" stroke="#000" stroke-width="0.6"/>
<line x1="137" y1="164.54" x2="137" y2="162.69" stroke="#000" stroke-width="0.7"/>
<line x1="135.5" y1="162.69" x2="138.5" y2="162.69" stroke="#000" stroke-width="0.7"/>
<line x1="137" y1="164.54" x2="137" y2="166.39" stroke="#000" stroke-width="0.7"/>
<line x1="135.5" y1="166.39" x2="138.5" y2="166.39" stroke="#000" stroke-width="0.7"/>
<circle cx="137" cy="164.54" r="2.3" fill="#000" stroke="#000" stroke-width="0.6"/>
<line x1="151.2" y1="174.24" x2="151.2" y2="171.93" stroke="#000" stroke-width="0.7"/>
<line x1="149.7" y1="171.93" x2="152.7" y2="171.93" stroke="#000" stroke-width="0.7"/>
<line x1="151.2" y1="174.24" x2="151.2" y2="176.55" stroke="#000" stroke-width="0.7"/>
<line x1="149.7" y1="176.55" x2="152.7" y2="176.55" stroke="#000" stroke-width="0.7"/>
<circle cx="151.2" cy="174.24" r="2.3" fill="#000" stroke="#000" stroke-width="0.6"/>
<line x1="165.4" y1="172.16" x2="165.4" y2="170.31" stroke="#000" stroke-width="0.7"/>
<line x1="163.9" y1="170.31" x2="166.9" y2="170.31" stroke="#000" stroke-width="0.7"/>
<line x1="165.4" y1="172.16" x2="165.4" y2="174.01" stroke="#000" stroke-width="0.7"/>
<line x1="163.9" y1="174.01" x2="166.9" y2="174.01" stroke="#000" stroke-width="0.7"/>
<circle cx="165.4" cy="172.16" r="2.3" fill="#000" stroke="#000" stroke-width="0.6"/>
<text x="51.8" y="188.6" font-size="10" font-weight="bold" text-anchor="middle">*</text>
<text x="66" y="185.8" font-size="10" font-weight="bold" text-anchor="middle">*</text>
<text x="80.2" y="180.8" font-size="10" font-weight="bold" text-anchor="middle">*</text>
<text x="94.4" y="173.3" font-size="10" font-weight="bold" text-anchor="middle">*</text>
<text x="108.6" y="170.5" font-size="10" font-weight="bold" text-anchor="middle">*</text>
<text x="122.8" y="166.4" font-size="10" font-weight="bold" text-anchor="middle">*</text>
<text x="137" y="163.3" font-size="10" font-weight="bold" text-anchor="middle">*</text>
<text x="151.2" y="170.5" font-size="10" font-weight="bold" text-anchor="middle">*</text>
<text x="165.4" y="172.6" font-size="10" font-weight="bold" text-anchor="middle">*</text>
<text x="80.2" y="164.71" font-size="6.5" font-weight="bold" text-anchor="middle" style="stroke-width:0.1px">#</text>
<text x="94.4" y="183.31" font-size="6.5" font-weight="bold" text-anchor="middle" style="stroke-width:0.1px">#</text>
<text x="108.6" y="188.51" font-size="6.5" font-weight="bold" text-anchor="middle" style="stroke-width:0.1px">#</text>
<text x="122.8" y="189.21" font-size="6.5" font-weight="bold" text-anchor="middle" style="stroke-width:0.1px">#</text>
<text x="137" y="190.61" font-size="6.5" font-weight="bold" text-anchor="middle" style="stroke-width:0.1px">#</text>
<text x="151.2" y="194.81" font-size="6.5" font-weight="bold" text-anchor="middle" style="stroke-width:0.1px">#</text>
<text x="165.4" y="198.91" font-size="6.5" font-weight="bold" text-anchor="middle" style="stroke-width:0.1px">#</text>
<circle cx="43.2" cy="114.4" r="2.07" fill="#fff" stroke="#000" stroke-width="0.8"/>
<circle cx="43.2" cy="123.4" r="2.07" fill="#000" stroke="#000" stroke-width="0.6"/>
<text x="53.5" y="116.67" font-size="6.3" font-weight="bold">WT CON</text>
<text x="53.5" y="125.67" font-size="6.3" font-weight="bold">WT MR</text>
<rect x="98.23" y="112.33" width="4.14" height="4.14" fill="#fff" stroke="#000" stroke-width="0.8"/>
<rect x="98.23" y="121.33" width="4.14" height="4.14" fill="#000" stroke="#000" stroke-width="0.5"/>
<text x="112.6" y="116.67" font-size="6.3" font-weight="bold"><tspan font-style="italic">Fgf21</tspan><tspan font-size="3.78" dy="-2.52">-/-</tspan><tspan dy="2.52"> CON</tspan></text>
<text x="112.6" y="125.67" font-size="6.3" font-weight="bold"><tspan font-style="italic">Fgf21</tspan><tspan font-size="3.78" dy="-2.52">-/-</tspan><tspan dy="2.52"> MR</tspan></text>
<text x="178.17" y="115.7" font-size="15.3" font-weight="bold">E</text>
<line x1="208.8" y1="115.4" x2="208.8" y2="196.95" stroke="#000" stroke-width="1.1"/>
<line x1="207.2" y1="196.95" x2="208.8" y2="196.95" stroke="#000" stroke-width="0.8"/>
<text x="205.8" y="199.18" font-size="6.2" font-weight="bold" text-anchor="end">30</text>
<line x1="207.2" y1="185.3" x2="208.8" y2="185.3" stroke="#000" stroke-width="0.8"/>
<text x="205.8" y="187.53" font-size="6.2" font-weight="bold" text-anchor="end">35</text>
<line x1="207.2" y1="173.65" x2="208.8" y2="173.65" stroke="#000" stroke-width="0.8"/>
<text x="205.8" y="175.88" font-size="6.2" font-weight="bold" text-anchor="end">40</text>
<line x1="207.2" y1="162" x2="208.8" y2="162" stroke="#000" stroke-width="0.8"/>
<text x="205.8" y="164.23" font-size="6.2" font-weight="bold" text-anchor="end">45</text>
<line x1="207.2" y1="150.35" x2="208.8" y2="150.35" stroke="#000" stroke-width="0.8"/>
<text x="205.8" y="152.58" font-size="6.2" font-weight="bold" text-anchor="end">50</text>
<line x1="207.2" y1="138.7" x2="208.8" y2="138.7" stroke="#000" stroke-width="0.8"/>
<text x="205.8" y="140.93" font-size="6.2" font-weight="bold" text-anchor="end">55</text>
<line x1="207.2" y1="127.05" x2="208.8" y2="127.05" stroke="#000" stroke-width="0.8"/>
<text x="205.8" y="129.28" font-size="6.2" font-weight="bold" text-anchor="end">60</text>
<line x1="207.2" y1="115.4" x2="208.8" y2="115.4" stroke="#000" stroke-width="0.8"/>
<text x="205.8" y="117.63" font-size="6.2" font-weight="bold" text-anchor="end">65</text>
<line x1="207.8" y1="191.12" x2="208.8" y2="191.12" stroke="#000" stroke-width="0.7"/>
<line x1="207.8" y1="179.48" x2="208.8" y2="179.48" stroke="#000" stroke-width="0.7"/>
<line x1="207.8" y1="167.83" x2="208.8" y2="167.83" stroke="#000" stroke-width="0.7"/>
<line x1="207.8" y1="156.18" x2="208.8" y2="156.18" stroke="#000" stroke-width="0.7"/>
<line x1="207.8" y1="144.53" x2="208.8" y2="144.53" stroke="#000" stroke-width="0.7"/>
<line x1="207.8" y1="132.88" x2="208.8" y2="132.88" stroke="#000" stroke-width="0.7"/>
<line x1="207.8" y1="121.23" x2="208.8" y2="121.23" stroke="#000" stroke-width="0.7"/>
<line x1="217.9" y1="206" x2="343.9" y2="206" stroke="#000" stroke-width="1.1"/>
<line x1="217.9" y1="206" x2="217.9" y2="207.6" stroke="#000" stroke-width="0.8"/>
<text x="217.9" y="215.43" font-size="6.2" font-weight="bold" text-anchor="middle">0</text>
<line x1="231.9" y1="206" x2="231.9" y2="207.6" stroke="#000" stroke-width="0.8"/>
<text x="231.9" y="215.43" font-size="6.2" font-weight="bold" text-anchor="middle">1</text>
<line x1="245.9" y1="206" x2="245.9" y2="207.6" stroke="#000" stroke-width="0.8"/>
<text x="245.9" y="215.43" font-size="6.2" font-weight="bold" text-anchor="middle">2</text>
<line x1="259.9" y1="206" x2="259.9" y2="207.6" stroke="#000" stroke-width="0.8"/>
<text x="259.9" y="215.43" font-size="6.2" font-weight="bold" text-anchor="middle">3</text>
<line x1="273.9" y1="206" x2="273.9" y2="207.6" stroke="#000" stroke-width="0.8"/>
<text x="273.9" y="215.43" font-size="6.2" font-weight="bold" text-anchor="middle">4</text>
<line x1="287.9" y1="206" x2="287.9" y2="207.6" stroke="#000" stroke-width="0.8"/>
<text x="287.9" y="215.43" font-size="6.2" font-weight="bold" text-anchor="middle">5</text>
<line x1="301.9" y1="206" x2="301.9" y2="207.6" stroke="#000" stroke-width="0.8"/>
<text x="301.9" y="215.43" font-size="6.2" font-weight="bold" text-anchor="middle">6</text>
<line x1="315.9" y1="206" x2="315.9" y2="207.6" stroke="#000" stroke-width="0.8"/>
<text x="315.9" y="215.43" font-size="6.2" font-weight="bold" text-anchor="middle">7</text>
<line x1="329.9" y1="206" x2="329.9" y2="207.6" stroke="#000" stroke-width="0.8"/>
<text x="329.9" y="215.43" font-size="6.2" font-weight="bold" text-anchor="middle">8</text>
<line x1="343.9" y1="206" x2="343.9" y2="207.6" stroke="#000" stroke-width="0.8"/>
<text x="343.9" y="215.43" font-size="6.2" font-weight="bold" text-anchor="middle">9</text>
<text x="281.7" y="224.3" font-size="7.5" font-weight="bold" text-anchor="middle">Weeks on Diet</text>
<text x="186.26" y="155.5" font-size="7.4" textLength="47.6" lengthAdjust="spacingAndGlyphs" font-weight="bold" text-anchor="middle" transform="rotate(-90 186.26 155.5)">Energy Intake</text>
<text x="193.72" y="155.5" font-size="7" textLength="50" lengthAdjust="spacingAndGlyphs" font-weight="bold" text-anchor="middle" transform="rotate(-90 193.72 155.5)">(kJ/mouse/day)</text>
<polyline points="231.9,163.17 245.9,166.66 259.9,168.52 273.9,170.16 287.9,170.16 301.9,171.79 315.9,168.52 329.9,167.13 343.9,167.13" fill="none" stroke="#000" stroke-width="0.9" stroke-linejoin="round"/>
<polyline points="231.9,160.84 245.9,162 259.9,160.84 273.9,157.81 287.9,152.68 301.9,157.34 315.9,154.54 329.9,149.65 343.9,153.38" fill="none" stroke="#000" stroke-width="0.9" stroke-linejoin="round"/>
<polyline points="231.9,164.33 245.9,171.79 259.9,171.79 273.9,180.64 287.9,178.78 301.9,182.5 315.9,183.44 329.9,181.81 343.9,184.6" fill="none" stroke="#000" stroke-width="0.9" stroke-linejoin="round"/>
<polyline points="231.9,149.19 245.9,141.03 259.9,134.04 273.9,134.51 287.9,134.51 301.9,136.37 315.9,135.21 329.9,138.23 343.9,140.56" fill="none" stroke="#000" stroke-width="0.9" stroke-linejoin="round"/>
<line x1="231.9" y1="163.17" x2="231.9" y2="161.77" stroke="#000" stroke-width="0.7"/>
<line x1="230.4" y1="161.77" x2="233.4" y2="161.77" stroke="#000" stroke-width="0.7"/>
<line x1="231.9" y1="163.17" x2="231.9" y2="164.56" stroke="#000" stroke-width="0.7"/>
<line x1="230.4" y1="164.56" x2="233.4" y2="164.56" stroke="#000" stroke-width="0.7"/>
<rect x="229.6" y="160.87" width="4.6" height="4.6" fill="#fff" stroke="#000" stroke-width="0.8"/>
<line x1="245.9" y1="166.66" x2="245.9" y2="164.8" stroke="#000" stroke-width="0.7"/>
<line x1="244.4" y1="164.8" x2="247.4" y2="164.8" stroke="#000" stroke-width="0.7"/>
<line x1="245.9" y1="166.66" x2="245.9" y2="168.52" stroke="#000" stroke-width="0.7"/>
<line x1="244.4" y1="168.52" x2="247.4" y2="168.52" stroke="#000" stroke-width="0.7"/>
<rect x="243.6" y="164.36" width="4.6" height="4.6" fill="#fff" stroke="#000" stroke-width="0.8"/>
<line x1="259.9" y1="168.52" x2="259.9" y2="167.13" stroke="#000" stroke-width="0.7"/>
<line x1="258.4" y1="167.13" x2="261.4" y2="167.13" stroke="#000" stroke-width="0.7"/>
<line x1="259.9" y1="168.52" x2="259.9" y2="169.92" stroke="#000" stroke-width="0.7"/>
<line x1="258.4" y1="169.92" x2="261.4" y2="169.92" stroke="#000" stroke-width="0.7"/>
<rect x="257.6" y="166.22" width="4.6" height="4.6" fill="#fff" stroke="#000" stroke-width="0.8"/>
<line x1="273.9" y1="170.16" x2="273.9" y2="167.36" stroke="#000" stroke-width="0.7"/>
<line x1="272.4" y1="167.36" x2="275.4" y2="167.36" stroke="#000" stroke-width="0.7"/>
<line x1="273.9" y1="170.16" x2="273.9" y2="172.95" stroke="#000" stroke-width="0.7"/>
<line x1="272.4" y1="172.95" x2="275.4" y2="172.95" stroke="#000" stroke-width="0.7"/>
<rect x="271.6" y="167.85" width="4.6" height="4.6" fill="#fff" stroke="#000" stroke-width="0.8"/>
<line x1="287.9" y1="170.16" x2="287.9" y2="167.36" stroke="#000" stroke-width="0.7"/>
<line x1="286.4" y1="167.36" x2="289.4" y2="167.36" stroke="#000" stroke-width="0.7"/>
<line x1="287.9" y1="170.16" x2="287.9" y2="172.95" stroke="#000" stroke-width="0.7"/>
<line x1="286.4" y1="172.95" x2="289.4" y2="172.95" stroke="#000" stroke-width="0.7"/>
<rect x="285.6" y="167.85" width="4.6" height="4.6" fill="#fff" stroke="#000" stroke-width="0.8"/>
<line x1="301.9" y1="171.79" x2="301.9" y2="168.99" stroke="#000" stroke-width="0.7"/>
<line x1="300.4" y1="168.99" x2="303.4" y2="168.99" stroke="#000" stroke-width="0.7"/>
<line x1="301.9" y1="171.79" x2="301.9" y2="174.58" stroke="#000" stroke-width="0.7"/>
<line x1="300.4" y1="174.58" x2="303.4" y2="174.58" stroke="#000" stroke-width="0.7"/>
<rect x="299.6" y="169.49" width="4.6" height="4.6" fill="#fff" stroke="#000" stroke-width="0.8"/>
<line x1="315.9" y1="168.52" x2="315.9" y2="164.33" stroke="#000" stroke-width="0.7"/>
<line x1="314.4" y1="164.33" x2="317.4" y2="164.33" stroke="#000" stroke-width="0.7"/>
<line x1="315.9" y1="168.52" x2="315.9" y2="172.72" stroke="#000" stroke-width="0.7"/>
<line x1="314.4" y1="172.72" x2="317.4" y2="172.72" stroke="#000" stroke-width="0.7"/>
<rect x="313.6" y="166.22" width="4.6" height="4.6" fill="#fff" stroke="#000" stroke-width="0.8"/>
<line x1="329.9" y1="167.13" x2="329.9" y2="164.8" stroke="#000" stroke-width="0.7"/>
<line x1="328.4" y1="164.8" x2="331.4" y2="164.8" stroke="#000" stroke-width="0.7"/>
<line x1="329.9" y1="167.13" x2="329.9" y2="169.46" stroke="#000" stroke-width="0.7"/>
<line x1="328.4" y1="169.46" x2="331.4" y2="169.46" stroke="#000" stroke-width="0.7"/>
<rect x="327.6" y="164.83" width="4.6" height="4.6" fill="#fff" stroke="#000" stroke-width="0.8"/>
<line x1="343.9" y1="167.13" x2="343.9" y2="164.8" stroke="#000" stroke-width="0.7"/>
<line x1="342.4" y1="164.8" x2="345.4" y2="164.8" stroke="#000" stroke-width="0.7"/>
<line x1="343.9" y1="167.13" x2="343.9" y2="169.46" stroke="#000" stroke-width="0.7"/>
<line x1="342.4" y1="169.46" x2="345.4" y2="169.46" stroke="#000" stroke-width="0.7"/>
<rect x="341.6" y="164.83" width="4.6" height="4.6" fill="#fff" stroke="#000" stroke-width="0.8"/>
<line x1="231.9" y1="160.84" x2="231.9" y2="159.44" stroke="#000" stroke-width="0.7"/>
<line x1="230.4" y1="159.44" x2="233.4" y2="159.44" stroke="#000" stroke-width="0.7"/>
<line x1="231.9" y1="160.84" x2="231.9" y2="162.23" stroke="#000" stroke-width="0.7"/>
<line x1="230.4" y1="162.23" x2="233.4" y2="162.23" stroke="#000" stroke-width="0.7"/>
<circle cx="231.9" cy="160.84" r="2.3" fill="#fff" stroke="#000" stroke-width="0.8"/>
<line x1="245.9" y1="162" x2="245.9" y2="160.6" stroke="#000" stroke-width="0.7"/>
<line x1="244.4" y1="160.6" x2="247.4" y2="160.6" stroke="#000" stroke-width="0.7"/>
<line x1="245.9" y1="162" x2="245.9" y2="163.4" stroke="#000" stroke-width="0.7"/>
<line x1="244.4" y1="163.4" x2="247.4" y2="163.4" stroke="#000" stroke-width="0.7"/>
<circle cx="245.9" cy="162" r="2.3" fill="#fff" stroke="#000" stroke-width="0.8"/>
<line x1="259.9" y1="160.84" x2="259.9" y2="159.67" stroke="#000" stroke-width="0.7"/>
<line x1="258.4" y1="159.67" x2="261.4" y2="159.67" stroke="#000" stroke-width="0.7"/>
<line x1="259.9" y1="160.84" x2="259.9" y2="162" stroke="#000" stroke-width="0.7"/>
<line x1="258.4" y1="162" x2="261.4" y2="162" stroke="#000" stroke-width="0.7"/>
<circle cx="259.9" cy="160.84" r="2.3" fill="#fff" stroke="#000" stroke-width="0.8"/>
<line x1="273.9" y1="157.81" x2="273.9" y2="156.41" stroke="#000" stroke-width="0.7"/>
<line x1="272.4" y1="156.41" x2="275.4" y2="156.41" stroke="#000" stroke-width="0.7"/>
<line x1="273.9" y1="157.81" x2="273.9" y2="159.2" stroke="#000" stroke-width="0.7"/>
<line x1="272.4" y1="159.2" x2="275.4" y2="159.2" stroke="#000" stroke-width="0.7"/>
<circle cx="273.9" cy="157.81" r="2.3" fill="#fff" stroke="#000" stroke-width="0.8"/>
<line x1="287.9" y1="152.68" x2="287.9" y2="151.28" stroke="#000" stroke-width="0.7"/>
<line x1="286.4" y1="151.28" x2="289.4" y2="151.28" stroke="#000" stroke-width="0.7"/>
<line x1="287.9" y1="152.68" x2="287.9" y2="154.08" stroke="#000" stroke-width="0.7"/>
<line x1="286.4" y1="154.08" x2="289.4" y2="154.08" stroke="#000" stroke-width="0.7"/>
<circle cx="287.9" cy="152.68" r="2.3" fill="#fff" stroke="#000" stroke-width="0.8"/>
<line x1="301.9" y1="157.34" x2="301.9" y2="155.94" stroke="#000" stroke-width="0.7"/>
<line x1="300.4" y1="155.94" x2="303.4" y2="155.94" stroke="#000" stroke-width="0.7"/>
<line x1="301.9" y1="157.34" x2="301.9" y2="158.74" stroke="#000" stroke-width="0.7"/>
<line x1="300.4" y1="158.74" x2="303.4" y2="158.74" stroke="#000" stroke-width="0.7"/>
<circle cx="301.9" cy="157.34" r="2.3" fill="#fff" stroke="#000" stroke-width="0.8"/>
<line x1="315.9" y1="154.54" x2="315.9" y2="151.75" stroke="#000" stroke-width="0.7"/>
<line x1="314.4" y1="151.75" x2="317.4" y2="151.75" stroke="#000" stroke-width="0.7"/>
<line x1="315.9" y1="154.54" x2="315.9" y2="157.34" stroke="#000" stroke-width="0.7"/>
<line x1="314.4" y1="157.34" x2="317.4" y2="157.34" stroke="#000" stroke-width="0.7"/>
<circle cx="315.9" cy="154.54" r="2.3" fill="#fff" stroke="#000" stroke-width="0.8"/>
<line x1="329.9" y1="149.65" x2="329.9" y2="147.79" stroke="#000" stroke-width="0.7"/>
<line x1="328.4" y1="147.79" x2="331.4" y2="147.79" stroke="#000" stroke-width="0.7"/>
<line x1="329.9" y1="149.65" x2="329.9" y2="151.52" stroke="#000" stroke-width="0.7"/>
<line x1="328.4" y1="151.52" x2="331.4" y2="151.52" stroke="#000" stroke-width="0.7"/>
<circle cx="329.9" cy="149.65" r="2.3" fill="#fff" stroke="#000" stroke-width="0.8"/>
<line x1="343.9" y1="153.38" x2="343.9" y2="149.65" stroke="#000" stroke-width="0.7"/>
<line x1="342.4" y1="149.65" x2="345.4" y2="149.65" stroke="#000" stroke-width="0.7"/>
<line x1="343.9" y1="153.38" x2="343.9" y2="157.11" stroke="#000" stroke-width="0.7"/>
<line x1="342.4" y1="157.11" x2="345.4" y2="157.11" stroke="#000" stroke-width="0.7"/>
<circle cx="343.9" cy="153.38" r="2.3" fill="#fff" stroke="#000" stroke-width="0.8"/>
<line x1="231.9" y1="164.33" x2="231.9" y2="162.93" stroke="#000" stroke-width="0.7"/>
<line x1="230.4" y1="162.93" x2="233.4" y2="162.93" stroke="#000" stroke-width="0.7"/>
<line x1="231.9" y1="164.33" x2="231.9" y2="165.73" stroke="#000" stroke-width="0.7"/>
<line x1="230.4" y1="165.73" x2="233.4" y2="165.73" stroke="#000" stroke-width="0.7"/>
<rect x="229.6" y="162.03" width="4.6" height="4.6" fill="#000" stroke="#000" stroke-width="0.5"/>
<line x1="245.9" y1="171.79" x2="245.9" y2="170.39" stroke="#000" stroke-width="0.7"/>
<line x1="244.4" y1="170.39" x2="247.4" y2="170.39" stroke="#000" stroke-width="0.7"/>
<line x1="245.9" y1="171.79" x2="245.9" y2="173.18" stroke="#000" stroke-width="0.7"/>
<line x1="244.4" y1="173.18" x2="247.4" y2="173.18" stroke="#000" stroke-width="0.7"/>
<rect x="243.6" y="169.49" width="4.6" height="4.6" fill="#000" stroke="#000" stroke-width="0.5"/>
<line x1="259.9" y1="171.79" x2="259.9" y2="170.39" stroke="#000" stroke-width="0.7"/>
<line x1="258.4" y1="170.39" x2="261.4" y2="170.39" stroke="#000" stroke-width="0.7"/>
<line x1="259.9" y1="171.79" x2="259.9" y2="173.18" stroke="#000" stroke-width="0.7"/>
<line x1="258.4" y1="173.18" x2="261.4" y2="173.18" stroke="#000" stroke-width="0.7"/>
<rect x="257.6" y="169.49" width="4.6" height="4.6" fill="#000" stroke="#000" stroke-width="0.5"/>
<line x1="273.9" y1="180.64" x2="273.9" y2="179.24" stroke="#000" stroke-width="0.7"/>
<line x1="272.4" y1="179.24" x2="275.4" y2="179.24" stroke="#000" stroke-width="0.7"/>
<line x1="273.9" y1="180.64" x2="273.9" y2="182.04" stroke="#000" stroke-width="0.7"/>
<line x1="272.4" y1="182.04" x2="275.4" y2="182.04" stroke="#000" stroke-width="0.7"/>
<rect x="271.6" y="178.34" width="4.6" height="4.6" fill="#000" stroke="#000" stroke-width="0.5"/>
<line x1="287.9" y1="178.78" x2="287.9" y2="177.38" stroke="#000" stroke-width="0.7"/>
<line x1="286.4" y1="177.38" x2="289.4" y2="177.38" stroke="#000" stroke-width="0.7"/>
<line x1="287.9" y1="178.78" x2="287.9" y2="180.17" stroke="#000" stroke-width="0.7"/>
<line x1="286.4" y1="180.17" x2="289.4" y2="180.17" stroke="#000" stroke-width="0.7"/>
<rect x="285.6" y="176.48" width="4.6" height="4.6" fill="#000" stroke="#000" stroke-width="0.5"/>
<line x1="301.9" y1="182.5" x2="301.9" y2="178.78" stroke="#000" stroke-width="0.7"/>
<line x1="300.4" y1="178.78" x2="303.4" y2="178.78" stroke="#000" stroke-width="0.7"/>
<line x1="301.9" y1="182.5" x2="301.9" y2="186.23" stroke="#000" stroke-width="0.7"/>
<line x1="300.4" y1="186.23" x2="303.4" y2="186.23" stroke="#000" stroke-width="0.7"/>
<rect x="299.6" y="180.2" width="4.6" height="4.6" fill="#000" stroke="#000" stroke-width="0.5"/>
<line x1="315.9" y1="183.44" x2="315.9" y2="179.01" stroke="#000" stroke-width="0.7"/>
<line x1="314.4" y1="179.01" x2="317.4" y2="179.01" stroke="#000" stroke-width="0.7"/>
<line x1="315.9" y1="183.44" x2="315.9" y2="187.86" stroke="#000" stroke-width="0.7"/>
<line x1="314.4" y1="187.86" x2="317.4" y2="187.86" stroke="#000" stroke-width="0.7"/>
<rect x="313.6" y="181.14" width="4.6" height="4.6" fill="#000" stroke="#000" stroke-width="0.5"/>
<line x1="329.9" y1="181.81" x2="329.9" y2="177.15" stroke="#000" stroke-width="0.7"/>
<line x1="328.4" y1="177.15" x2="331.4" y2="177.15" stroke="#000" stroke-width="0.7"/>
<line x1="329.9" y1="181.81" x2="329.9" y2="186.47" stroke="#000" stroke-width="0.7"/>
<line x1="328.4" y1="186.47" x2="331.4" y2="186.47" stroke="#000" stroke-width="0.7"/>
<rect x="327.6" y="179.5" width="4.6" height="4.6" fill="#000" stroke="#000" stroke-width="0.5"/>
<line x1="343.9" y1="184.6" x2="343.9" y2="180.87" stroke="#000" stroke-width="0.7"/>
<line x1="342.4" y1="180.87" x2="345.4" y2="180.87" stroke="#000" stroke-width="0.7"/>
<line x1="343.9" y1="184.6" x2="343.9" y2="188.33" stroke="#000" stroke-width="0.7"/>
<line x1="342.4" y1="188.33" x2="345.4" y2="188.33" stroke="#000" stroke-width="0.7"/>
<rect x="341.6" y="182.3" width="4.6" height="4.6" fill="#000" stroke="#000" stroke-width="0.5"/>
<line x1="231.9" y1="149.19" x2="231.9" y2="145.46" stroke="#000" stroke-width="0.7"/>
<line x1="230.4" y1="145.46" x2="233.4" y2="145.46" stroke="#000" stroke-width="0.7"/>
<line x1="231.9" y1="149.19" x2="231.9" y2="152.91" stroke="#000" stroke-width="0.7"/>
<line x1="230.4" y1="152.91" x2="233.4" y2="152.91" stroke="#000" stroke-width="0.7"/>
<circle cx="231.9" cy="149.19" r="2.3" fill="#000" stroke="#000" stroke-width="0.6"/>
<line x1="245.9" y1="141.03" x2="245.9" y2="135.9" stroke="#000" stroke-width="0.7"/>
<line x1="244.4" y1="135.9" x2="247.4" y2="135.9" stroke="#000" stroke-width="0.7"/>
<line x1="245.9" y1="141.03" x2="245.9" y2="146.16" stroke="#000" stroke-width="0.7"/>
<line x1="244.4" y1="146.16" x2="247.4" y2="146.16" stroke="#000" stroke-width="0.7"/>
<circle cx="245.9" cy="141.03" r="2.3" fill="#000" stroke="#000" stroke-width="0.6"/>
<line x1="259.9" y1="134.04" x2="259.9" y2="128.91" stroke="#000" stroke-width="0.7"/>
<line x1="258.4" y1="128.91" x2="261.4" y2="128.91" stroke="#000" stroke-width="0.7"/>
<line x1="259.9" y1="134.04" x2="259.9" y2="139.17" stroke="#000" stroke-width="0.7"/>
<line x1="258.4" y1="139.17" x2="261.4" y2="139.17" stroke="#000" stroke-width="0.7"/>
<circle cx="259.9" cy="134.04" r="2.3" fill="#000" stroke="#000" stroke-width="0.6"/>
<line x1="273.9" y1="134.51" x2="273.9" y2="131.24" stroke="#000" stroke-width="0.7"/>
<line x1="272.4" y1="131.24" x2="275.4" y2="131.24" stroke="#000" stroke-width="0.7"/>
<line x1="273.9" y1="134.51" x2="273.9" y2="137.77" stroke="#000" stroke-width="0.7"/>
<line x1="272.4" y1="137.77" x2="275.4" y2="137.77" stroke="#000" stroke-width="0.7"/>
<circle cx="273.9" cy="134.51" r="2.3" fill="#000" stroke="#000" stroke-width="0.6"/>
<line x1="287.9" y1="134.51" x2="287.9" y2="131.24" stroke="#000" stroke-width="0.7"/>
<line x1="286.4" y1="131.24" x2="289.4" y2="131.24" stroke="#000" stroke-width="0.7"/>
<line x1="287.9" y1="134.51" x2="287.9" y2="137.77" stroke="#000" stroke-width="0.7"/>
<line x1="286.4" y1="137.77" x2="289.4" y2="137.77" stroke="#000" stroke-width="0.7"/>
<circle cx="287.9" cy="134.51" r="2.3" fill="#000" stroke="#000" stroke-width="0.6"/>
<line x1="301.9" y1="136.37" x2="301.9" y2="133.57" stroke="#000" stroke-width="0.7"/>
<line x1="300.4" y1="133.57" x2="303.4" y2="133.57" stroke="#000" stroke-width="0.7"/>
<line x1="301.9" y1="136.37" x2="301.9" y2="139.17" stroke="#000" stroke-width="0.7"/>
<line x1="300.4" y1="139.17" x2="303.4" y2="139.17" stroke="#000" stroke-width="0.7"/>
<circle cx="301.9" cy="136.37" r="2.3" fill="#000" stroke="#000" stroke-width="0.6"/>
<line x1="315.9" y1="135.21" x2="315.9" y2="131.94" stroke="#000" stroke-width="0.7"/>
<line x1="314.4" y1="131.94" x2="317.4" y2="131.94" stroke="#000" stroke-width="0.7"/>
<line x1="315.9" y1="135.21" x2="315.9" y2="138.47" stroke="#000" stroke-width="0.7"/>
<line x1="314.4" y1="138.47" x2="317.4" y2="138.47" stroke="#000" stroke-width="0.7"/>
<circle cx="315.9" cy="135.21" r="2.3" fill="#000" stroke="#000" stroke-width="0.6"/>
<line x1="329.9" y1="138.23" x2="329.9" y2="134.97" stroke="#000" stroke-width="0.7"/>
<line x1="328.4" y1="134.97" x2="331.4" y2="134.97" stroke="#000" stroke-width="0.7"/>
<line x1="329.9" y1="138.23" x2="329.9" y2="141.5" stroke="#000" stroke-width="0.7"/>
<line x1="328.4" y1="141.5" x2="331.4" y2="141.5" stroke="#000" stroke-width="0.7"/>
<circle cx="329.9" cy="138.23" r="2.3" fill="#000" stroke="#000" stroke-width="0.6"/>
<line x1="343.9" y1="140.56" x2="343.9" y2="137.77" stroke="#000" stroke-width="0.7"/>
<line x1="342.4" y1="137.77" x2="345.4" y2="137.77" stroke="#000" stroke-width="0.7"/>
<line x1="343.9" y1="140.56" x2="343.9" y2="143.36" stroke="#000" stroke-width="0.7"/>
<line x1="342.4" y1="143.36" x2="345.4" y2="143.36" stroke="#000" stroke-width="0.7"/>
<circle cx="343.9" cy="140.56" r="2.3" fill="#000" stroke="#000" stroke-width="0.6"/>
<text x="231.9" y="147.8" font-size="10" font-weight="bold" text-anchor="middle">*</text>
<text x="245.9" y="140" font-size="10" font-weight="bold" text-anchor="middle">*</text>
<text x="259.9" y="134.3" font-size="10" font-weight="bold" text-anchor="middle">*</text>
<text x="273.9" y="134.3" font-size="10" font-weight="bold" text-anchor="middle">*</text>
<text x="287.9" y="134.3" font-size="10" font-weight="bold" text-anchor="middle">*</text>
<text x="301.9" y="137.4" font-size="10" font-weight="bold" text-anchor="middle">*</text>
<text x="315.9" y="135.5" font-size="10" font-weight="bold" text-anchor="middle">*</text>
<text x="329.9" y="138.5" font-size="10" font-weight="bold" text-anchor="middle">*</text>
<text x="343.9" y="141.2" font-size="10" font-weight="bold" text-anchor="middle">*</text>
<text x="273.9" y="188.71" font-size="6.5" font-weight="bold" text-anchor="middle" style="stroke-width:0.1px">#</text>
<text x="287.9" y="188.21" font-size="6.5" font-weight="bold" text-anchor="middle" style="stroke-width:0.1px">#</text>
<text x="301.9" y="192.61" font-size="6.5" font-weight="bold" text-anchor="middle" style="stroke-width:0.1px">#</text>
<text x="315.9" y="194.51" font-size="6.5" font-weight="bold" text-anchor="middle" style="stroke-width:0.1px">#</text>
<text x="329.9" y="192.61" font-size="6.5" font-weight="bold" text-anchor="middle" style="stroke-width:0.1px">#</text>
<text x="343.9" y="196.41" font-size="6.5" font-weight="bold" text-anchor="middle" style="stroke-width:0.1px">#</text>
<circle cx="231.1" cy="114" r="2.07" fill="#fff" stroke="#000" stroke-width="0.8"/>
<circle cx="231.1" cy="122.4" r="2.07" fill="#000" stroke="#000" stroke-width="0.6"/>
<text x="241" y="116.23" font-size="6.2" font-weight="bold">WT CON</text>
<text x="241" y="124.63" font-size="6.2" font-weight="bold">WT MR</text>
<rect x="282.43" y="111.93" width="4.14" height="4.14" fill="#fff" stroke="#000" stroke-width="0.8"/>
<rect x="282.43" y="120.33" width="4.14" height="4.14" fill="#000" stroke="#000" stroke-width="0.5"/>
<text x="295" y="116.23" font-size="6.2" font-weight="bold"><tspan font-style="italic">Fgf21</tspan><tspan font-size="3.72" dy="-2.48">-/-</tspan><tspan dy="2.48"> CON</tspan></text>
<text x="295" y="124.63" font-size="6.2" font-weight="bold"><tspan font-style="italic">Fgf21</tspan><tspan font-size="3.72" dy="-2.48">-/-</tspan><tspan dy="2.48"> MR</tspan></text>
<text x="357.37" y="115.7" font-size="15.3" font-weight="bold">F</text>
<line x1="390" y1="119.8" x2="390" y2="196.2" stroke="#000" stroke-width="1.1"/>
<line x1="388.4" y1="196.2" x2="390" y2="196.2" stroke="#000" stroke-width="0.8"/>
<text x="387.5" y="198.4" font-size="6.1" font-weight="bold" text-anchor="end">150</text>
<line x1="388.4" y1="177.1" x2="390" y2="177.1" stroke="#000" stroke-width="0.8"/>
<text x="387.5" y="179.3" font-size="6.1" font-weight="bold" text-anchor="end">200</text>
<line x1="388.4" y1="158" x2="390" y2="158" stroke="#000" stroke-width="0.8"/>
<text x="387.5" y="160.2" font-size="6.1" font-weight="bold" text-anchor="end">250</text>
<line x1="388.4" y1="138.9" x2="390" y2="138.9" stroke="#000" stroke-width="0.8"/>
<text x="387.5" y="141.1" font-size="6.1" font-weight="bold" text-anchor="end">300</text>
<line x1="388.4" y1="119.8" x2="390" y2="119.8" stroke="#000" stroke-width="0.8"/>
<text x="387.5" y="122" font-size="6.1" font-weight="bold" text-anchor="end">350</text>
<line x1="389" y1="186.65" x2="390" y2="186.65" stroke="#000" stroke-width="0.7"/>
<line x1="389" y1="167.55" x2="390" y2="167.55" stroke="#000" stroke-width="0.7"/>
<line x1="389" y1="148.45" x2="390" y2="148.45" stroke="#000" stroke-width="0.7"/>
<line x1="389" y1="129.35" x2="390" y2="129.35" stroke="#000" stroke-width="0.7"/>
<line x1="398.3" y1="203.8" x2="516.2" y2="203.8" stroke="#000" stroke-width="1.1"/>
<line x1="398.3" y1="203.8" x2="398.3" y2="205.4" stroke="#000" stroke-width="0.8"/>
<text x="398.3" y="213.2" font-size="6.1" font-weight="bold" text-anchor="middle">0</text>
<line x1="411.4" y1="203.8" x2="411.4" y2="205.4" stroke="#000" stroke-width="0.8"/>
<text x="411.4" y="213.2" font-size="6.1" font-weight="bold" text-anchor="middle">1</text>
<line x1="424.5" y1="203.8" x2="424.5" y2="205.4" stroke="#000" stroke-width="0.8"/>
<text x="424.5" y="213.2" font-size="6.1" font-weight="bold" text-anchor="middle">2</text>
<line x1="437.6" y1="203.8" x2="437.6" y2="205.4" stroke="#000" stroke-width="0.8"/>
<text x="437.6" y="213.2" font-size="6.1" font-weight="bold" text-anchor="middle">3</text>
<line x1="450.7" y1="203.8" x2="450.7" y2="205.4" stroke="#000" stroke-width="0.8"/>
<text x="450.7" y="213.2" font-size="6.1" font-weight="bold" text-anchor="middle">4</text>
<line x1="463.8" y1="203.8" x2="463.8" y2="205.4" stroke="#000" stroke-width="0.8"/>
<text x="463.8" y="213.2" font-size="6.1" font-weight="bold" text-anchor="middle">5</text>
<line x1="476.9" y1="203.8" x2="476.9" y2="205.4" stroke="#000" stroke-width="0.8"/>
<text x="476.9" y="213.2" font-size="6.1" font-weight="bold" text-anchor="middle">6</text>
<line x1="490" y1="203.8" x2="490" y2="205.4" stroke="#000" stroke-width="0.8"/>
<text x="490" y="213.2" font-size="6.1" font-weight="bold" text-anchor="middle">7</text>
<line x1="503.1" y1="203.8" x2="503.1" y2="205.4" stroke="#000" stroke-width="0.8"/>
<text x="503.1" y="213.2" font-size="6.1" font-weight="bold" text-anchor="middle">8</text>
<line x1="516.2" y1="203.8" x2="516.2" y2="205.4" stroke="#000" stroke-width="0.8"/>
<text x="516.2" y="213.2" font-size="6.1" font-weight="bold" text-anchor="middle">9</text>
<text x="457.5" y="222.18" font-size="6.9" font-weight="bold" text-anchor="middle">Weeks on Diet</text>
<text x="363.52" y="158.1" font-size="7" textLength="45.2" lengthAdjust="spacingAndGlyphs" font-weight="bold" text-anchor="middle" transform="rotate(-90 363.52 158.1)">Energy Intake</text>
<text x="370.52" y="158.1" font-size="7" textLength="45.2" lengthAdjust="spacingAndGlyphs" font-weight="bold" text-anchor="middle" transform="rotate(-90 370.52 158.1)">(kJ/day/g BW)</text>
<polyline points="411.4,163.73 424.5,175.19 437.6,178.63 450.7,183.21 463.8,184.36 476.9,187.8 490,186.65 503.1,186.27 516.2,187.41" fill="none" stroke="#000" stroke-width="0.9" stroke-linejoin="round"/>
<polyline points="411.4,163.73 424.5,167.17 437.6,170.61 450.7,170.99 463.8,172.13 476.9,176.72 490,175.19 503.1,176.34 516.2,178.63" fill="none" stroke="#000" stroke-width="0.9" stroke-linejoin="round"/>
<polyline points="411.4,167.17 424.5,174.43 437.6,176.34 450.7,182.83 463.8,185.12 476.9,186.27 490,186.27 503.1,185.89 516.2,186.65" fill="none" stroke="#000" stroke-width="0.9" stroke-linejoin="round"/>
<polyline points="411.4,145.01 424.5,143.87 437.6,142.72 450.7,145.78 463.8,149.21 476.9,153.42 490,152.65 503.1,157.62 516.2,159.91" fill="none" stroke="#000" stroke-width="0.9" stroke-linejoin="round"/>
<line x1="411.4" y1="163.73" x2="411.4" y2="162.2" stroke="#000" stroke-width="0.7"/>
<line x1="409.9" y1="162.2" x2="412.9" y2="162.2" stroke="#000" stroke-width="0.7"/>
<line x1="411.4" y1="163.73" x2="411.4" y2="165.26" stroke="#000" stroke-width="0.7"/>
<line x1="409.9" y1="165.26" x2="412.9" y2="165.26" stroke="#000" stroke-width="0.7"/>
<rect x="409.3" y="161.63" width="4.2" height="4.2" fill="#fff" stroke="#000" stroke-width="0.8"/>
<line x1="424.5" y1="175.19" x2="424.5" y2="173.66" stroke="#000" stroke-width="0.7"/>
<line x1="423" y1="173.66" x2="426" y2="173.66" stroke="#000" stroke-width="0.7"/>
<line x1="424.5" y1="175.19" x2="424.5" y2="176.72" stroke="#000" stroke-width="0.7"/>
<line x1="423" y1="176.72" x2="426" y2="176.72" stroke="#000" stroke-width="0.7"/>
<rect x="422.4" y="173.09" width="4.2" height="4.2" fill="#fff" stroke="#000" stroke-width="0.8"/>
<line x1="437.6" y1="178.63" x2="437.6" y2="177.1" stroke="#000" stroke-width="0.7"/>
<line x1="436.1" y1="177.1" x2="439.1" y2="177.1" stroke="#000" stroke-width="0.7"/>
<line x1="437.6" y1="178.63" x2="437.6" y2="180.16" stroke="#000" stroke-width="0.7"/>
<line x1="436.1" y1="180.16" x2="439.1" y2="180.16" stroke="#000" stroke-width="0.7"/>
<rect x="435.5" y="176.53" width="4.2" height="4.2" fill="#fff" stroke="#000" stroke-width="0.8"/>
<line x1="450.7" y1="183.21" x2="450.7" y2="182.07" stroke="#000" stroke-width="0.7"/>
<line x1="449.2" y1="182.07" x2="452.2" y2="182.07" stroke="#000" stroke-width="0.7"/>
<line x1="450.7" y1="183.21" x2="450.7" y2="184.36" stroke="#000" stroke-width="0.7"/>
<line x1="449.2" y1="184.36" x2="452.2" y2="184.36" stroke="#000" stroke-width="0.7"/>
<rect x="448.6" y="181.11" width="4.2" height="4.2" fill="#fff" stroke="#000" stroke-width="0.8"/>
<line x1="463.8" y1="184.36" x2="463.8" y2="183.21" stroke="#000" stroke-width="0.7"/>
<line x1="462.3" y1="183.21" x2="465.3" y2="183.21" stroke="#000" stroke-width="0.7"/>
<line x1="463.8" y1="184.36" x2="463.8" y2="185.5" stroke="#000" stroke-width="0.7"/>
<line x1="462.3" y1="185.5" x2="465.3" y2="185.5" stroke="#000" stroke-width="0.7"/>
<rect x="461.7" y="182.26" width="4.2" height="4.2" fill="#fff" stroke="#000" stroke-width="0.8"/>
<line x1="476.9" y1="187.8" x2="476.9" y2="186.65" stroke="#000" stroke-width="0.7"/>
<line x1="475.4" y1="186.65" x2="478.4" y2="186.65" stroke="#000" stroke-width="0.7"/>
<line x1="476.9" y1="187.8" x2="476.9" y2="188.94" stroke="#000" stroke-width="0.7"/>
<line x1="475.4" y1="188.94" x2="478.4" y2="188.94" stroke="#000" stroke-width="0.7"/>
<rect x="474.8" y="185.7" width="4.2" height="4.2" fill="#fff" stroke="#000" stroke-width="0.8"/>
<line x1="490" y1="186.65" x2="490" y2="185.5" stroke="#000" stroke-width="0.7"/>
<line x1="488.5" y1="185.5" x2="491.5" y2="185.5" stroke="#000" stroke-width="0.7"/>
<line x1="490" y1="186.65" x2="490" y2="187.8" stroke="#000" stroke-width="0.7"/>
<line x1="488.5" y1="187.8" x2="491.5" y2="187.8" stroke="#000" stroke-width="0.7"/>
<rect x="487.9" y="184.55" width="4.2" height="4.2" fill="#fff" stroke="#000" stroke-width="0.8"/>
<line x1="503.1" y1="186.27" x2="503.1" y2="185.12" stroke="#000" stroke-width="0.7"/>
<line x1="501.6" y1="185.12" x2="504.6" y2="185.12" stroke="#000" stroke-width="0.7"/>
<line x1="503.1" y1="186.27" x2="503.1" y2="187.41" stroke="#000" stroke-width="0.7"/>
<line x1="501.6" y1="187.41" x2="504.6" y2="187.41" stroke="#000" stroke-width="0.7"/>
<rect x="501" y="184.17" width="4.2" height="4.2" fill="#fff" stroke="#000" stroke-width="0.8"/>
<line x1="516.2" y1="187.41" x2="516.2" y2="186.27" stroke="#000" stroke-width="0.7"/>
<line x1="514.7" y1="186.27" x2="517.7" y2="186.27" stroke="#000" stroke-width="0.7"/>
<line x1="516.2" y1="187.41" x2="516.2" y2="188.56" stroke="#000" stroke-width="0.7"/>
<line x1="514.7" y1="188.56" x2="517.7" y2="188.56" stroke="#000" stroke-width="0.7"/>
<rect x="514.1" y="185.31" width="4.2" height="4.2" fill="#fff" stroke="#000" stroke-width="0.8"/>
<line x1="411.4" y1="163.73" x2="411.4" y2="162.2" stroke="#000" stroke-width="0.7"/>
<line x1="409.9" y1="162.2" x2="412.9" y2="162.2" stroke="#000" stroke-width="0.7"/>
<line x1="411.4" y1="163.73" x2="411.4" y2="165.26" stroke="#000" stroke-width="0.7"/>
<line x1="409.9" y1="165.26" x2="412.9" y2="165.26" stroke="#000" stroke-width="0.7"/>
<circle cx="411.4" cy="163.73" r="2.1" fill="#fff" stroke="#000" stroke-width="0.8"/>
<line x1="424.5" y1="167.17" x2="424.5" y2="164.88" stroke="#000" stroke-width="0.7"/>
<line x1="423" y1="164.88" x2="426" y2="164.88" stroke="#000" stroke-width="0.7"/>
<line x1="424.5" y1="167.17" x2="424.5" y2="169.46" stroke="#000" stroke-width="0.7"/>
<line x1="423" y1="169.46" x2="426" y2="169.46" stroke="#000" stroke-width="0.7"/>
<circle cx="424.5" cy="167.17" r="2.1" fill="#fff" stroke="#000" stroke-width="0.8"/>
<line x1="437.6" y1="170.61" x2="437.6" y2="168.7" stroke="#000" stroke-width="0.7"/>
<line x1="436.1" y1="168.7" x2="439.1" y2="168.7" stroke="#000" stroke-width="0.7"/>
<line x1="437.6" y1="170.61" x2="437.6" y2="172.52" stroke="#000" stroke-width="0.7"/>
<line x1="436.1" y1="172.52" x2="439.1" y2="172.52" stroke="#000" stroke-width="0.7"/>
<circle cx="437.6" cy="170.61" r="2.1" fill="#fff" stroke="#000" stroke-width="0.8"/>
<line x1="450.7" y1="170.99" x2="450.7" y2="167.55" stroke="#000" stroke-width="0.7"/>
<line x1="449.2" y1="167.55" x2="452.2" y2="167.55" stroke="#000" stroke-width="0.7"/>
<line x1="450.7" y1="170.99" x2="450.7" y2="174.43" stroke="#000" stroke-width="0.7"/>
<line x1="449.2" y1="174.43" x2="452.2" y2="174.43" stroke="#000" stroke-width="0.7"/>
<circle cx="450.7" cy="170.99" r="2.1" fill="#fff" stroke="#000" stroke-width="0.8"/>
<line x1="463.8" y1="172.13" x2="463.8" y2="170.22" stroke="#000" stroke-width="0.7"/>
<line x1="462.3" y1="170.22" x2="465.3" y2="170.22" stroke="#000" stroke-width="0.7"/>
<line x1="463.8" y1="172.13" x2="463.8" y2="174.04" stroke="#000" stroke-width="0.7"/>
<line x1="462.3" y1="174.04" x2="465.3" y2="174.04" stroke="#000" stroke-width="0.7"/>
<circle cx="463.8" cy="172.13" r="2.1" fill="#fff" stroke="#000" stroke-width="0.8"/>
<line x1="476.9" y1="176.72" x2="476.9" y2="175.19" stroke="#000" stroke-width="0.7"/>
<line x1="475.4" y1="175.19" x2="478.4" y2="175.19" stroke="#000" stroke-width="0.7"/>
<line x1="476.9" y1="176.72" x2="476.9" y2="178.25" stroke="#000" stroke-width="0.7"/>
<line x1="475.4" y1="178.25" x2="478.4" y2="178.25" stroke="#000" stroke-width="0.7"/>
<circle cx="476.9" cy="176.72" r="2.1" fill="#fff" stroke="#000" stroke-width="0.8"/>
<line x1="490" y1="175.19" x2="490" y2="172.9" stroke="#000" stroke-width="0.7"/>
<line x1="488.5" y1="172.9" x2="491.5" y2="172.9" stroke="#000" stroke-width="0.7"/>
<line x1="490" y1="175.19" x2="490" y2="177.48" stroke="#000" stroke-width="0.7"/>
<line x1="488.5" y1="177.48" x2="491.5" y2="177.48" stroke="#000" stroke-width="0.7"/>
<circle cx="490" cy="175.19" r="2.1" fill="#fff" stroke="#000" stroke-width="0.8"/>
<line x1="503.1" y1="176.34" x2="503.1" y2="174.81" stroke="#000" stroke-width="0.7"/>
<line x1="501.6" y1="174.81" x2="504.6" y2="174.81" stroke="#000" stroke-width="0.7"/>
<line x1="503.1" y1="176.34" x2="503.1" y2="177.86" stroke="#000" stroke-width="0.7"/>
<line x1="501.6" y1="177.86" x2="504.6" y2="177.86" stroke="#000" stroke-width="0.7"/>
<circle cx="503.1" cy="176.34" r="2.1" fill="#fff" stroke="#000" stroke-width="0.8"/>
<line x1="516.2" y1="178.63" x2="516.2" y2="176.72" stroke="#000" stroke-width="0.7"/>
<line x1="514.7" y1="176.72" x2="517.7" y2="176.72" stroke="#000" stroke-width="0.7"/>
<line x1="516.2" y1="178.63" x2="516.2" y2="180.54" stroke="#000" stroke-width="0.7"/>
<line x1="514.7" y1="180.54" x2="517.7" y2="180.54" stroke="#000" stroke-width="0.7"/>
<circle cx="516.2" cy="178.63" r="2.1" fill="#fff" stroke="#000" stroke-width="0.8"/>
<line x1="411.4" y1="167.17" x2="411.4" y2="166.02" stroke="#000" stroke-width="0.7"/>
<line x1="409.9" y1="166.02" x2="412.9" y2="166.02" stroke="#000" stroke-width="0.7"/>
<line x1="411.4" y1="167.17" x2="411.4" y2="168.31" stroke="#000" stroke-width="0.7"/>
<line x1="409.9" y1="168.31" x2="412.9" y2="168.31" stroke="#000" stroke-width="0.7"/>
<rect x="409.3" y="165.07" width="4.2" height="4.2" fill="#000" stroke="#000" stroke-width="0.5"/>
<line x1="424.5" y1="174.43" x2="424.5" y2="173.28" stroke="#000" stroke-width="0.7"/>
<line x1="423" y1="173.28" x2="426" y2="173.28" stroke="#000" stroke-width="0.7"/>
<line x1="424.5" y1="174.43" x2="424.5" y2="175.57" stroke="#000" stroke-width="0.7"/>
<line x1="423" y1="175.57" x2="426" y2="175.57" stroke="#000" stroke-width="0.7"/>
<rect x="422.4" y="172.33" width="4.2" height="4.2" fill="#000" stroke="#000" stroke-width="0.5"/>
<line x1="437.6" y1="176.34" x2="437.6" y2="175.19" stroke="#000" stroke-width="0.7"/>
<line x1="436.1" y1="175.19" x2="439.1" y2="175.19" stroke="#000" stroke-width="0.7"/>
<line x1="437.6" y1="176.34" x2="437.6" y2="177.48" stroke="#000" stroke-width="0.7"/>
<line x1="436.1" y1="177.48" x2="439.1" y2="177.48" stroke="#000" stroke-width="0.7"/>
<rect x="435.5" y="174.24" width="4.2" height="4.2" fill="#000" stroke="#000" stroke-width="0.5"/>
<line x1="450.7" y1="182.83" x2="450.7" y2="181.68" stroke="#000" stroke-width="0.7"/>
<line x1="449.2" y1="181.68" x2="452.2" y2="181.68" stroke="#000" stroke-width="0.7"/>
<line x1="450.7" y1="182.83" x2="450.7" y2="183.98" stroke="#000" stroke-width="0.7"/>
<line x1="449.2" y1="183.98" x2="452.2" y2="183.98" stroke="#000" stroke-width="0.7"/>
<rect x="448.6" y="180.73" width="4.2" height="4.2" fill="#000" stroke="#000" stroke-width="0.5"/>
<line x1="463.8" y1="185.12" x2="463.8" y2="183.98" stroke="#000" stroke-width="0.7"/>
<line x1="462.3" y1="183.98" x2="465.3" y2="183.98" stroke="#000" stroke-width="0.7"/>
<line x1="463.8" y1="185.12" x2="463.8" y2="186.27" stroke="#000" stroke-width="0.7"/>
<line x1="462.3" y1="186.27" x2="465.3" y2="186.27" stroke="#000" stroke-width="0.7"/>
<rect x="461.7" y="183.02" width="4.2" height="4.2" fill="#000" stroke="#000" stroke-width="0.5"/>
<line x1="476.9" y1="186.27" x2="476.9" y2="185.12" stroke="#000" stroke-width="0.7"/>
<line x1="475.4" y1="185.12" x2="478.4" y2="185.12" stroke="#000" stroke-width="0.7"/>
<line x1="476.9" y1="186.27" x2="476.9" y2="187.41" stroke="#000" stroke-width="0.7"/>
<line x1="475.4" y1="187.41" x2="478.4" y2="187.41" stroke="#000" stroke-width="0.7"/>
<rect x="474.8" y="184.17" width="4.2" height="4.2" fill="#000" stroke="#000" stroke-width="0.5"/>
<line x1="490" y1="186.27" x2="490" y2="185.12" stroke="#000" stroke-width="0.7"/>
<line x1="488.5" y1="185.12" x2="491.5" y2="185.12" stroke="#000" stroke-width="0.7"/>
<line x1="490" y1="186.27" x2="490" y2="187.41" stroke="#000" stroke-width="0.7"/>
<line x1="488.5" y1="187.41" x2="491.5" y2="187.41" stroke="#000" stroke-width="0.7"/>
<rect x="487.9" y="184.17" width="4.2" height="4.2" fill="#000" stroke="#000" stroke-width="0.5"/>
<line x1="503.1" y1="185.89" x2="503.1" y2="184.74" stroke="#000" stroke-width="0.7"/>
<line x1="501.6" y1="184.74" x2="504.6" y2="184.74" stroke="#000" stroke-width="0.7"/>
<line x1="503.1" y1="185.89" x2="503.1" y2="187.03" stroke="#000" stroke-width="0.7"/>
<line x1="501.6" y1="187.03" x2="504.6" y2="187.03" stroke="#000" stroke-width="0.7"/>
<rect x="501" y="183.79" width="4.2" height="4.2" fill="#000" stroke="#000" stroke-width="0.5"/>
<line x1="516.2" y1="186.65" x2="516.2" y2="185.5" stroke="#000" stroke-width="0.7"/>
<line x1="514.7" y1="185.5" x2="517.7" y2="185.5" stroke="#000" stroke-width="0.7"/>
<line x1="516.2" y1="186.65" x2="516.2" y2="187.8" stroke="#000" stroke-width="0.7"/>
<line x1="514.7" y1="187.8" x2="517.7" y2="187.8" stroke="#000" stroke-width="0.7"/>
<rect x="514.1" y="184.55" width="4.2" height="4.2" fill="#000" stroke="#000" stroke-width="0.5"/>
<line x1="411.4" y1="145.01" x2="411.4" y2="143.1" stroke="#000" stroke-width="0.7"/>
<line x1="409.9" y1="143.1" x2="412.9" y2="143.1" stroke="#000" stroke-width="0.7"/>
<line x1="411.4" y1="145.01" x2="411.4" y2="146.92" stroke="#000" stroke-width="0.7"/>
<line x1="409.9" y1="146.92" x2="412.9" y2="146.92" stroke="#000" stroke-width="0.7"/>
<circle cx="411.4" cy="145.01" r="2.1" fill="#000" stroke="#000" stroke-width="0.6"/>
<line x1="424.5" y1="143.87" x2="424.5" y2="142.34" stroke="#000" stroke-width="0.7"/>
<line x1="423" y1="142.34" x2="426" y2="142.34" stroke="#000" stroke-width="0.7"/>
<line x1="424.5" y1="143.87" x2="424.5" y2="145.39" stroke="#000" stroke-width="0.7"/>
<line x1="423" y1="145.39" x2="426" y2="145.39" stroke="#000" stroke-width="0.7"/>
<circle cx="424.5" cy="143.87" r="2.1" fill="#000" stroke="#000" stroke-width="0.6"/>
<line x1="437.6" y1="142.72" x2="437.6" y2="141.19" stroke="#000" stroke-width="0.7"/>
<line x1="436.1" y1="141.19" x2="439.1" y2="141.19" stroke="#000" stroke-width="0.7"/>
<line x1="437.6" y1="142.72" x2="437.6" y2="144.25" stroke="#000" stroke-width="0.7"/>
<line x1="436.1" y1="144.25" x2="439.1" y2="144.25" stroke="#000" stroke-width="0.7"/>
<circle cx="437.6" cy="142.72" r="2.1" fill="#000" stroke="#000" stroke-width="0.6"/>
<line x1="450.7" y1="145.78" x2="450.7" y2="144.25" stroke="#000" stroke-width="0.7"/>
<line x1="449.2" y1="144.25" x2="452.2" y2="144.25" stroke="#000" stroke-width="0.7"/>
<line x1="450.7" y1="145.78" x2="450.7" y2="147.3" stroke="#000" stroke-width="0.7"/>
<line x1="449.2" y1="147.3" x2="452.2" y2="147.3" stroke="#000" stroke-width="0.7"/>
<circle cx="450.7" cy="145.78" r="2.1" fill="#000" stroke="#000" stroke-width="0.6"/>
<line x1="463.8" y1="149.21" x2="463.8" y2="147.69" stroke="#000" stroke-width="0.7"/>
<line x1="462.3" y1="147.69" x2="465.3" y2="147.69" stroke="#000" stroke-width="0.7"/>
<line x1="463.8" y1="149.21" x2="463.8" y2="150.74" stroke="#000" stroke-width="0.7"/>
<line x1="462.3" y1="150.74" x2="465.3" y2="150.74" stroke="#000" stroke-width="0.7"/>
<circle cx="463.8" cy="149.21" r="2.1" fill="#000" stroke="#000" stroke-width="0.6"/>
<line x1="476.9" y1="153.42" x2="476.9" y2="151.51" stroke="#000" stroke-width="0.7"/>
<line x1="475.4" y1="151.51" x2="478.4" y2="151.51" stroke="#000" stroke-width="0.7"/>
<line x1="476.9" y1="153.42" x2="476.9" y2="155.33" stroke="#000" stroke-width="0.7"/>
<line x1="475.4" y1="155.33" x2="478.4" y2="155.33" stroke="#000" stroke-width="0.7"/>
<circle cx="476.9" cy="153.42" r="2.1" fill="#000" stroke="#000" stroke-width="0.6"/>
<line x1="490" y1="152.65" x2="490" y2="150.36" stroke="#000" stroke-width="0.7"/>
<line x1="488.5" y1="150.36" x2="491.5" y2="150.36" stroke="#000" stroke-width="0.7"/>
<line x1="490" y1="152.65" x2="490" y2="154.94" stroke="#000" stroke-width="0.7"/>
<line x1="488.5" y1="154.94" x2="491.5" y2="154.94" stroke="#000" stroke-width="0.7"/>
<circle cx="490" cy="152.65" r="2.1" fill="#000" stroke="#000" stroke-width="0.6"/>
<line x1="503.1" y1="157.62" x2="503.1" y2="155.71" stroke="#000" stroke-width="0.7"/>
<line x1="501.6" y1="155.71" x2="504.6" y2="155.71" stroke="#000" stroke-width="0.7"/>
<line x1="503.1" y1="157.62" x2="503.1" y2="159.53" stroke="#000" stroke-width="0.7"/>
<line x1="501.6" y1="159.53" x2="504.6" y2="159.53" stroke="#000" stroke-width="0.7"/>
<circle cx="503.1" cy="157.62" r="2.1" fill="#000" stroke="#000" stroke-width="0.6"/>
<line x1="516.2" y1="159.91" x2="516.2" y2="158" stroke="#000" stroke-width="0.7"/>
<line x1="514.7" y1="158" x2="517.7" y2="158" stroke="#000" stroke-width="0.7"/>
<line x1="516.2" y1="159.91" x2="516.2" y2="161.82" stroke="#000" stroke-width="0.7"/>
<line x1="514.7" y1="161.82" x2="517.7" y2="161.82" stroke="#000" stroke-width="0.7"/>
<circle cx="516.2" cy="159.91" r="2.1" fill="#000" stroke="#000" stroke-width="0.6"/>
<text x="411.4" y="144.45" font-size="9.5" font-weight="bold" text-anchor="middle">*</text>
<text x="424.5" y="143.25" font-size="9.5" font-weight="bold" text-anchor="middle">*</text>
<text x="437.6" y="142.15" font-size="9.5" font-weight="bold" text-anchor="middle">*</text>
<text x="450.7" y="145.15" font-size="9.5" font-weight="bold" text-anchor="middle">*</text>
<text x="463.8" y="148.55" font-size="9.5" font-weight="bold" text-anchor="middle">*</text>
<text x="476.9" y="152.75" font-size="9.5" font-weight="bold" text-anchor="middle">*</text>
<text x="490" y="152.05" font-size="9.5" font-weight="bold" text-anchor="middle">*</text>
<text x="503.1" y="157.35" font-size="9.5" font-weight="bold" text-anchor="middle">*</text>
<text x="516.2" y="159.65" font-size="9.5" font-weight="bold" text-anchor="middle">*</text>
<circle cx="405.5" cy="119.8" r="1.89" fill="#fff" stroke="#000" stroke-width="0.8"/>
<circle cx="405.5" cy="128.9" r="1.89" fill="#000" stroke="#000" stroke-width="0.6"/>
<text x="414.9" y="121.82" font-size="5.6" font-weight="bold">WT CON</text>
<text x="414.9" y="130.92" font-size="5.6" font-weight="bold">WT MR</text>
<rect x="463.51" y="117.91" width="3.78" height="3.78" fill="#fff" stroke="#000" stroke-width="0.8"/>
<rect x="463.51" y="127.01" width="3.78" height="3.78" fill="#000" stroke="#000" stroke-width="0.5"/>
<text x="474.7" y="121.82" font-size="5.6" font-weight="bold"><tspan font-style="italic">Fgf21</tspan><tspan font-size="3.36" dy="-2.24">-/-</tspan><tspan dy="2.24"> CON</tspan></text>
<text x="474.7" y="130.92" font-size="5.6" font-weight="bold"><tspan font-style="italic">Fgf21</tspan><tspan font-size="3.36" dy="-2.24">-/-</tspan><tspan dy="2.24"> MR</tspan></text>
<text x="0.97" y="241.6" font-size="15.3" font-weight="bold">G</text>
<line x1="27.1" y1="243.21" x2="27.1" y2="339.6" stroke="#000" stroke-width="1.1"/>
<line x1="25.5" y1="339.6" x2="27.1" y2="339.6" stroke="#000" stroke-width="0.8"/>
<text x="24.9" y="342.05" font-size="6.8" font-weight="bold" text-anchor="end">0</text>
<line x1="25.5" y1="307.47" x2="27.1" y2="307.47" stroke="#000" stroke-width="0.8"/>
<text x="24.9" y="309.92" font-size="6.8" font-weight="bold" text-anchor="end">1</text>
<line x1="25.5" y1="275.34" x2="27.1" y2="275.34" stroke="#000" stroke-width="0.8"/>
<text x="24.9" y="277.79" font-size="6.8" font-weight="bold" text-anchor="end">2</text>
<line x1="25.5" y1="243.21" x2="27.1" y2="243.21" stroke="#000" stroke-width="0.8"/>
<text x="24.9" y="245.66" font-size="6.8" font-weight="bold" text-anchor="end">3</text>
<line x1="26.1" y1="323.54" x2="27.1" y2="323.54" stroke="#000" stroke-width="0.6"/>
<line x1="26.1" y1="291.41" x2="27.1" y2="291.41" stroke="#000" stroke-width="0.6"/>
<line x1="26.1" y1="259.28" x2="27.1" y2="259.28" stroke="#000" stroke-width="0.6"/>
<line x1="27.1" y1="339.6" x2="166" y2="339.6" stroke="#000" stroke-width="1.1"/>
<line x1="50.25" y1="270.52" x2="50.25" y2="268.91" stroke="#000" stroke-width="0.7"/>
<line x1="48.05" y1="268.91" x2="52.45" y2="268.91" stroke="#000" stroke-width="0.8"/>
<rect x="41.4" y="270.52" width="17.7" height="69.08" fill="#fff" stroke="#000" stroke-width="1.2"/>
<text x="50.25" y="267.61" font-size="9" text-anchor="middle">a</text>
<line x1="76.95" y1="258.31" x2="76.95" y2="256.7" stroke="#000" stroke-width="0.7"/>
<line x1="74.75" y1="256.7" x2="79.15" y2="256.7" stroke="#000" stroke-width="0.8"/>
<rect x="68.1" y="258.31" width="17.7" height="81.29" fill="#000" stroke="#000" stroke-width="1.2"/>
<text x="76.95" y="255.4" font-size="9" text-anchor="middle">b</text>
<line x1="122.5" y1="275.66" x2="122.5" y2="274.05" stroke="#000" stroke-width="0.7"/>
<line x1="120.3" y1="274.05" x2="124.7" y2="274.05" stroke="#000" stroke-width="0.8"/>
<rect x="114" y="275.66" width="17" height="63.94" fill="#fff" stroke="#000" stroke-width="1.2"/>
<text x="122.5" y="272.75" font-size="9" text-anchor="middle">c</text>
<line x1="149.2" y1="278.87" x2="149.2" y2="276.95" stroke="#000" stroke-width="0.7"/>
<line x1="147" y1="276.95" x2="151.4" y2="276.95" stroke="#000" stroke-width="0.8"/>
<rect x="140.4" y="278.87" width="17.6" height="60.73" fill="#000" stroke="#000" stroke-width="1.2"/>
<text x="149.2" y="275.65" font-size="9" text-anchor="middle">c</text>
<text x="7.06" y="290.8" font-size="7.4" textLength="72.5" lengthAdjust="spacingAndGlyphs" font-weight="bold" text-anchor="middle" transform="rotate(-90 7.06 290.8)">Energy Expenditure</text>
<text x="14.99" y="286.9" font-size="7.2" textLength="53" lengthAdjust="spacingAndGlyphs" font-weight="bold" text-anchor="middle" transform="rotate(-90 14.99 286.9)">(kJ/h/mouse)</text>
<text x="62.9" y="349.75" font-size="6.8" font-weight="bold" text-anchor="middle">WT</text>
<text x="133.6" y="349.75" font-size="6.8" font-weight="bold" text-anchor="middle"><tspan font-style="italic">Fgf21</tspan><tspan font-size="4.08" dy="-2.72">-/-</tspan></text>
<rect x="110.2" y="244.5" width="9.8" height="4.4" fill="#fff" stroke="#000" stroke-width="1"/>
<text x="125" y="249.29" font-size="7.2" font-weight="bold">CON</text>
<rect x="110.2" y="255.5" width="9.8" height="4.4" fill="#000" stroke="#000" stroke-width="1"/>
<text x="125" y="260.29" font-size="7.2" font-weight="bold">MR</text>
<text x="177.97" y="241.7" font-size="15.3" font-weight="bold">H</text>
<line x1="204" y1="245.5" x2="204" y2="343.6" stroke="#000" stroke-width="1.1"/>
<line x1="202.4" y1="343.6" x2="204" y2="343.6" stroke="#000" stroke-width="0.8"/>
<text x="200.9" y="346.16" font-size="7.1" font-weight="bold" text-anchor="end" class="ns">0.7</text>
<line x1="202.4" y1="310.9" x2="204" y2="310.9" stroke="#000" stroke-width="0.8"/>
<text x="200.9" y="313.46" font-size="7.1" font-weight="bold" text-anchor="end" class="ns">0.8</text>
<line x1="202.4" y1="278.2" x2="204" y2="278.2" stroke="#000" stroke-width="0.8"/>
<text x="200.9" y="280.76" font-size="7.1" font-weight="bold" text-anchor="end" class="ns">0.9</text>
<line x1="202.4" y1="245.5" x2="204" y2="245.5" stroke="#000" stroke-width="0.8"/>
<text x="200.9" y="248.06" font-size="7.1" font-weight="bold" text-anchor="end" class="ns">1.0</text>
<line x1="204" y1="343.6" x2="343" y2="343.6" stroke="#000" stroke-width="1.1"/>
<line x1="227.4" y1="260.22" x2="227.4" y2="254.33" stroke="#000" stroke-width="0.7"/>
<line x1="225.2" y1="254.33" x2="229.6" y2="254.33" stroke="#000" stroke-width="0.8"/>
<rect x="218.9" y="260.22" width="17" height="83.38" fill="#fff" stroke="#000" stroke-width="1.2"/>
<text x="227.4" y="251.43" font-size="8.6" text-anchor="middle">a</text>
<line x1="253.7" y1="264.14" x2="253.7" y2="258.58" stroke="#000" stroke-width="0.7"/>
<line x1="251.5" y1="258.58" x2="255.9" y2="258.58" stroke="#000" stroke-width="0.8"/>
<rect x="244.1" y="264.14" width="19.2" height="79.46" fill="#000" stroke="#000" stroke-width="1.2"/>
<text x="253.7" y="255.68" font-size="8.6" text-anchor="middle">a</text>
<line x1="300.45" y1="261.85" x2="300.45" y2="255.96" stroke="#000" stroke-width="0.7"/>
<line x1="298.25" y1="255.96" x2="302.65" y2="255.96" stroke="#000" stroke-width="0.8"/>
<rect x="291.6" y="261.85" width="17.7" height="81.75" fill="#fff" stroke="#000" stroke-width="1.2"/>
<text x="300.45" y="253.06" font-size="8.6" text-anchor="middle">a</text>
<line x1="328.45" y1="261.85" x2="328.45" y2="255.96" stroke="#000" stroke-width="0.7"/>
<line x1="326.25" y1="255.96" x2="330.65" y2="255.96" stroke="#000" stroke-width="0.8"/>
<rect x="319.4" y="261.85" width="18.1" height="81.75" fill="#000" stroke="#000" stroke-width="1.2"/>
<text x="328.45" y="253.06" font-size="8.6" text-anchor="middle">a</text>
<text x="185.91" y="294.2" font-size="7.8" textLength="78" lengthAdjust="spacingAndGlyphs" font-weight="bold" text-anchor="middle" transform="rotate(-90 185.91 294.2)">Respiratory Quotient</text>
<text x="241.5" y="353.3" font-size="6.4" font-weight="bold" text-anchor="middle">WT</text>
<text x="313" y="353.3" font-size="6.4" text-anchor="middle"><tspan font-style="italic">Fgf21</tspan><tspan font-size="3.84" dy="-2.56">-/-</tspan></text>
<rect x="233.3" y="237.3" width="10.2" height="4.4" fill="#fff" stroke="#000" stroke-width="1"/>
<text x="249.6" y="242.38" font-size="8">CON</text>
<rect x="289.4" y="237.3" width="10.6" height="4.4" fill="#000" stroke="#000" stroke-width="1"/>
<text x="305.8" y="242.38" font-size="8">MR</text>
<text x="359.97" y="241.7" font-size="15.3" font-weight="bold">I</text>
<clipPath id="h1"><rect x="373.5" y="235.2" width="63.4" height="58.4"/></clipPath>
<g clip-path="url(#h1)">
<rect x="373.5" y="235.2" width="63.4" height="58.4" fill="#b49ad0"/>
<path fill="#fefcfe" d="M375 289L375.2 289.6L378 291.1L379.3 290.7L381 287.3L378.5 286.5ZM423.1 244L420.9 246.3L425.6 250.7L428.8 247.7L428.4 245.9ZM403.2 258L403.2 262.5L404.1 263.7L407.5 261.3L407.6 260.1ZM419.8 283.2L418.9 285.7L415.9 287.2L414 284L418.2 282.5ZM405 279.4L402.3 277.5L399 278.8L398.6 280.3L402.9 281.9ZM396.2 264.6L396.6 265.5L401.6 268.4L403.7 266.7L403.8 264.2L402.8 262.8L398.1 262.3ZM386.2 241.6L384.8 241.1L381.2 244.1L383.9 248.6L386.5 249.5L387.1 249.1L388.1 244ZM379.5 251.5L377.9 250.2L375.1 250L373 254.1L376.9 255L379.6 252.3ZM431.1 274L428.1 275.7L429 279.1L431.4 278.8L432.6 274.9ZM390.2 268.3L393.5 270.8L389.5 272.6L387.1 271.3L387.1 271.2ZM401.6 271.7L401.5 271.6L401.9 268.6L403.9 267.1L405.5 267.5L408.1 270.1L408.1 270.2L405.7 272.7ZM425.8 262.2L425.6 256.8L427.4 255L429.7 257.4L428 261.3L426.4 262.1ZM380.8 271.1L383.2 265.8L382.7 265.2L378.2 267.2L377.2 269.1L379.3 271ZM396.1 264.3L397.9 262.1L398.5 258L396.5 256.8L394.1 257.3L392.9 259.6L395.7 264.1ZM405.8 279.9L406.8 279.8L409.3 284.3L408.3 287L402.9 285.9L403.6 282.5ZM373.8 281.6L374.4 277.5L369.6 273.2L290.7 282.6L372.4 282.6ZM396.9 244.8L399.4 240.5L397.5 238L394.6 241.7ZM427.4 269.6L422.4 268.6L422.4 268.1L424.2 263.9L425.2 263.2L427.7 268.2ZM409.7 258.9L413.7 260.9L414.7 262.4L411.3 264.6L410.5 264.3L408.3 261.4L408.4 260.2ZM389.9 265.6L390 268L387.1 270.7L385.2 266L389.2 265.1ZM424.8 289.8L429.3 286.6L428.8 284.7L426.1 282.4L425.9 282.4L424.4 283.3L424 288.6ZM430.5 265.5L426.5 262.5L425.9 262.6L425.6 262.8L425.5 263L427.9 267.7ZM408.3 242.5L408.7 245L410.8 245.8L413.3 244.3L412.6 240.4L412 240.3ZM406 273L408.5 270.4L411.9 275.9L411.9 275.9L408.2 277.6ZM385.6 291.1L382.7 286.6L383.9 285.1L389.1 287.3L388 290.7ZM390.3 234.3L392.5 231.6L396.8 232.7L397.7 234.5L397 235.8L391.8 236.6ZM380.8 244.4L383.4 248.7L379.7 251.1L378.2 249.9L379.8 244.4ZM425 262.5L421.4 259.3L418.9 260.3L417.8 262.5L423.9 263.4L424.9 262.7ZM395 264.2L390.3 265L389.6 264.5L389.5 260.8L392.5 260.1ZM407.8 242.6L408.1 245.1L402.8 248.7L402.7 248.6L402.4 248L403.6 241.3L404.4 240.6L404.6 240.5ZM408.8 287.8L408.7 287.6L409.9 284.5L413.1 283.7L413.8 284L415.7 287.3L415.2 289.2L409.6 288.5ZM422 268.3L422 268.7L421.8 269.1L417.3 269.9L416.2 269L417.2 264.6ZM382.2 272.4L386.1 272.1L386.2 275.3L383.4 277.6L382.6 277.8ZM396 273.5L394.2 270.8L396.6 265.8L401.4 268.6L401 271.6ZM372.8 253.6L372.6 253.7L369.3 252.3L370.8 248.1L373 247.2L374.6 250.1ZM393.7 292.3L390.7 286.7L389.3 287.3L388.2 290.8L390.4 292.4ZM394.4 293.5L389.1 305.8L388.5 296.6L390.6 293L393.4 292.9L394 293.1ZM397 245.1L397.1 245.2L402 248.1L403.3 241.2L399.6 240.6ZM393.3 241.7L394.4 242L396.7 245.1L396.7 245.2L394.4 246.7L393.5 246.7L390.7 243.9ZM435.1 274.4L437.9 278.6L437.8 279.1L432.4 279.5L431.6 278.9L432.8 274.9ZM382.1 278.6L382 280.6L383.8 284.2L389.1 280.3L383.4 278L382.6 278.1ZM377.5 243L373.7 244.8L369 239.3L375.9 236.6L375.9 236.6ZM440 245.6L436.4 241.9L433.8 242.6L435.3 246.7L438.6 246.8ZM393.4 247.1L390.5 249.4L392.9 251.7L394.9 251.1L394.3 247.1ZM432.6 269.9L430.4 271.3L431.3 273.7L432.7 274.6L434.9 274.1L435.9 272ZM439.2 294.9L445.7 298.3L439.1 288.5L438.1 288.6L436.9 290.9ZM433.2 265.8L432.7 269.5L436.3 271.8L437.8 270.7L438.2 269.4L437.4 265.8L434.4 264.8ZM434.5 264.5L433.7 261.7L434.6 258.3L438.9 259.1L441 263.1L437.4 265.5ZM438.5 247.5L438.4 252L436.2 252.9L433.2 249.1L435.2 247.4ZM422.2 273.9L423.2 275.1L423.1 275.7L420.2 277.8L417 277.4L418.7 273.8ZM418.3 274L416.7 277.3L415.6 277.8L414.3 277.6L412.3 276L412.3 275.9L412.5 275.6L416.9 272.5ZM387.3 249.5L390.2 249.5L392.7 251.9L391.7 254.6L386.8 254.5L386.8 250ZM395.9 264.8L396.2 265.7L393.9 270.5L393.9 270.5L390.6 268L390.5 265.6L395.5 264.7ZM408.5 270.2L408.5 270.3L412 275.8L412.2 275.5L413.3 269.4L411.7 268.3ZM407.8 236.5L406.5 233.7L407.4 232.3L411.7 230.8L412.6 232.6L408.8 236.6ZM382.5 262.8L380.9 261.4L377.2 263.9L378 266.9L383 264.7ZM440.5 245.3L449.1 242.8L438.3 238.9L436.9 241.5ZM427.5 254.2L425.9 251.2L426 251.1L428.9 248.2L431.3 249.3L430.6 252.8ZM436.1 241.3L437.6 238.6L436.5 235.7L432.4 235.4L430.3 238.9L431.3 241.1L433.4 242ZM424.1 294.3L426.7 295.3L429.9 294.3L429.4 291.7L425.1 291.4ZM431.3 279.2L429.1 279.5L426.6 282L429.2 284.2L432.5 282.9L432.1 279.8ZM422.6 243.7L420.6 245.8L418.7 246.3L417.6 239.2L421 238.6L422.7 243.3ZM408.6 269.8L411.5 268.1L411.1 265.1L410.4 264.9L406 267.3ZM417.1 262.2L418.3 260L416.8 255.2L415.6 255.5L415.1 255.8L414.3 260.6L415.2 262.1L416.6 262.5ZM379.5 244.2L377.8 249.9L375.1 249.7L373.4 246.5L373.8 245.2L377.6 243.4ZM405.7 266.9L404.2 266.5L404.3 264.3L407.7 261.9L409.9 264.6ZM433.4 294.8L434.7 291.6L436.4 290.9L438.9 295.1L434.6 295.7ZM368.6 238.9L361.1 237.9L371.3 231.9L375.2 236.3ZM379 285.9L381.5 286.7L382.4 286.3L383.5 284.9L383.5 284.6L381.7 281.1L376.5 282.6ZM391.4 278.5L391.7 278.1L395.5 275.1L397.9 278.6L397.5 280.2L397.2 280.6L391.3 279.2ZM430.1 291.6L431.3 290L434.2 291.6L433 294.6L431.6 294.8L430.6 294.2ZM381.2 271.4L383.7 265.7L384.8 266.1L386.7 271.1L386.7 271.3L386.1 271.8L382.2 272.1ZM427.1 231.7L427 231.5L421.3 230.9L421 232L422.4 236.2L424.3 236.2ZM419.8 282.8L420.6 282.5L420 278.2L417.2 277.8L416.1 278.3L418.3 282.1ZM427.8 270.3L425.6 274.4L428 275.5L431 273.8L430.1 271.2ZM389.9 292.6L388 291.1L385.9 291.5L385.3 292.9L387.8 296.1ZM397.7 293.8L401.4 291.3L404.2 293.6L404.5 294.6L400.7 298.5ZM410 258.5L413.8 260.3L414.6 255.8L410.3 256.5ZM390.6 278.5L386.6 275.7L384 277.9L389.5 280.2L390.1 280L390.5 279.3ZM394.7 247.1L395.3 251L397.2 251.9L402.1 248.9L401.8 248.4L397 245.6ZM374.4 282L375.8 282.7L378.2 285.9L374.5 288.5L373.6 287.6L373.1 282.9ZM402.4 257.1L398.8 258L398.2 262L402.7 262.5L402.7 257.6ZM427.7 275.9L428.5 279.1L426 281.5L425.8 281.5L423.5 276L423.7 275.5L425.6 274.9ZM405.6 279L406.7 278.8L407.8 277.5L405.8 273.3L401.8 272.4L402.7 277ZM416.4 293L412.2 294.6L411.3 294L410.2 289.1L415 289.7L416.3 292.2ZM416.5 263.1L415 262.8L411.5 265L412 268.1L413.5 269.1L415.9 268.8L416.9 264.4ZM395.1 292.9L397.2 293.4L401.1 290.8L401.2 287.2L397 286L396.9 286.1L394.7 292.4ZM408.4 277.9L411.9 276.3L413.9 278L412.9 283.2L409.9 284.1L407.3 279.2ZM438.1 280.5L435.2 284.2L435.6 286L437.9 288L439 287.8L440 287.1L440 282.1ZM417.1 293.1L420.7 296.2L423.5 294.4L424.6 291.1L424.5 290.3L423.7 289.1L420.5 288.8L417.1 292.2ZM408.1 242.3L411.9 240.1L408.7 237.1L407.7 237.1L404.7 240.2ZM433 265.6L431.1 265.7L426.6 262.3L428.2 261.4L433.5 261.8L434.3 264.6ZM404.2 251.8L402.4 256.7L398.8 257.5L396.8 256.3L397.3 252.2L402.4 249.3L402.5 249.3ZM421.2 258.7L421.7 256.5L420.2 254.2L418.4 253.6L417.1 254.8L418.6 259.8ZM421.7 269.4L417.3 270.2L417.3 272.2L418.7 273.6L422 273.7ZM380.9 271.7L379.3 271.6L377 276.5L381.9 278.3L382.4 277.8L382 272.3ZM420.6 288.3L419.1 285.7L420.1 283.4L420.9 283.1L424 283.3L423.6 288.6ZM435.9 253.2L434.5 255.4L431.2 253L431.9 249.3L432.8 249.2ZM412.9 251.9L415.5 254.6L416.7 254.3L417.9 253.2L417.5 248.8L413.1 250.2ZM402.9 282.5L402.1 286.2L401.3 286.7L397.2 285.6L397.8 281.1L398.2 280.8ZM429.6 239.3L430.5 241.4L428.5 245.3L423.5 243.6L423.5 243.2L428.8 239.2ZM411.1 246.2L413.5 244.7L417.9 246.9L417.4 248.2L412.8 249.7L411.3 248.5ZM391.3 279.9L397.1 281.2L396.5 285.3L396.4 285.3L392.4 284.4L390.9 280.6ZM418.5 247.1L418 248.4L418.5 253.1L420.3 253.7L425.2 251.1L425.2 251L420.6 246.5L418.6 247ZM404.6 240L404.4 240L401.5 234.6L402.2 234L406 233.9L407.4 236.9ZM377.8 235.1L380.2 226.3L383.6 232.4L382.6 236.1ZM394.4 292.3L396.6 286L392.2 284.9L390.9 286.7L393.8 292.1ZM428.8 238.8L423 243.2L421.2 238L422.3 236.5L424.4 236.5ZM377.1 263.8L372 261.3L372.1 261.2L378.5 258.7L379.9 259.1L380.8 261.3ZM408.9 253.9L412.5 252.2L415.1 254.9L414.7 255.3L410.2 256.1ZM385.1 291.2L382.6 287.1L381.7 287.5L380.1 291L382.1 293.7L384.5 292.5ZM402 276.8L401.1 272.2L401 272.1L396.3 273.8L396.1 274.5L398.6 278.1ZM378.1 291.7L376 296.7L376.3 298.7L378.9 303.5L381.8 294.3L379.5 291.3ZM424.8 290.2L429.6 286.8L431 288.2L431.1 289.5L429.8 291.3L424.9 291ZM409.2 237L413 233L414.2 234.1L415.1 238L412.7 239.8L412.2 239.7ZM406.1 295L410.7 294.3L409.4 288.7L408.7 288L404.6 293.4L404.9 294.5ZM379.6 252.5L377 255.1L378.7 258.5L380 258.9L382.6 255.7ZM427.1 254.6L425.5 251.5L420.8 254.1L422.2 256.3L425.5 256.5L427.1 254.8ZM436.6 272.3L435.6 274.3L438.1 277.9L442.3 275.2L437.9 271.3ZM406 251.5L410.4 248.7L410.2 246.5L408.2 245.7L403.4 249L404.9 251.2Z"/>
<path fill="#f5eef7" d="M430.1 257.6L428.6 261.1L433.4 261.3L434.2 258.2L434 257.9ZM388.5 307.6L384.4 333.5L379.1 304L382.1 294.7L384.8 293.4L387.8 297.2ZM438.6 252.8L441.8 254.6L438.8 258.6L434.8 257.8L434.7 257.5L434.9 255.7L436.3 253.6ZM386.2 255.3L387.1 259.2L382.7 262.4L381.2 261.1L380.3 259L382.8 255.9ZM433 265.8L431.1 265.9L428.1 268.3L427.7 269.8L427.9 270.1L430.1 271.1L432.5 269.5ZM412.9 240.3L415.5 238.4L417.1 238.9L418.3 246.5L418.1 246.6L413.6 244.3ZM423.1 276.3L425.4 281.9L424 282.8L421.1 282.5L420.5 278.2ZM436.4 290.7L437.7 288.2L435.5 286.1L431.2 288.2L431.4 289.5L434.6 291.3ZM405.8 252.1L408.5 253.9L409.8 256.3L409.5 258.5L408 259.8L403 257.4L402.7 256.9L404.5 251.9ZM373.3 288.1L356.6 292.1L364 293.2L373 292.6L374.6 289.7L374.4 289ZM415.7 237.9L414.8 233.9L420.5 232.4L421.9 236.4L420.8 237.8L417.3 238.5ZM370.6 273L373.6 269.7L376.6 269.7L378.8 271.6L376.7 276.2L374.9 276.9ZM373.4 292.7L375.8 296.2L377.7 291.6L374.8 290ZM374.6 281.5L376.1 282.1L381.4 280.5L381.6 278.5L377 276.9L375.2 277.6ZM391.2 277.8L395.6 274.5L395.8 273.7L393.9 270.9L393.9 270.9L389.6 272.8ZM421.9 267.8L417.3 264.3L417 263.1L417.5 262.8L423.7 263.7ZM427.5 270.3L425.4 274.2L423.4 274.8L422.4 273.6L422.2 269.4L422.4 269L427.3 270ZM427.5 254.7L430.9 253.2L434.4 255.7L434.2 257.6L429.9 257.2L427.5 254.8ZM387.3 259.7L383 262.8L383.4 264.6L383.8 265.1L384.9 265.6L388.9 264.6L388.7 260.7ZM388.4 244.2L387.5 249.1L390.3 249.1L393.1 246.9L390.4 244.1ZM404.5 293L401.7 290.6L401.7 287.2L402.6 286.7L408.2 287.7L408.3 288ZM431.9 235.1L429.9 238.5L429 238.4L425 236.3L427.6 232.2L431.6 234.3ZM393.4 241.1L394.4 241.3L397.1 237.9L396.9 236.3L391.9 237.1L391.6 238.2ZM390.8 278.3L391 277.8L389.5 272.8L386.9 271.5L386.3 272.1L386.4 275.3ZM406.3 251.9L408.7 253.5L412.2 251.8L412.4 250.1L410.9 249ZM393.3 257.1L391.5 255.2L387.1 255.1L386.9 255.4L387.8 259L389.2 260L392.2 259.2ZM373 254.3L372.9 254.4L372.1 260.8L378.3 258.5L376.7 255.2ZM391.1 238.1L391.4 236.9L389.8 234.4L389.3 234.4L384.2 238L384.9 240.6L386.3 241.2ZM417.9 282.3L415.6 278.4L414.3 278.2L413.3 283.3L414 283.6ZM365 293.6L375.7 298.4L375.3 296.5L373 293ZM380.8 243.4L384.1 240.6L383.4 238.3L382.5 237.3L377.7 236.2L376.7 236.9L378.1 242.7L379.8 243.4Z"/>
<path fill="#ece2f1" d="M434.9 247L432.7 248.8L431.8 248.9L429.2 247.7L428.8 245.8L431 241.5L433.3 242.4ZM437.7 279.4L437.9 280.4L435.2 284L433 282.9L432.6 279.7ZM394.1 256.7L392.1 254.7L393 252.1L395 251.5L396.8 252.4L396.3 256.3ZM431.1 288L435.4 286L435.1 284.3L432.8 283.2L429.2 284.7L429.7 286.6ZM425.3 262.3L421.6 259L422.1 256.8L425.4 256.9L425.6 262ZM383.8 249.1L379.9 251.6L379.9 252.3L382.8 255.4L386.2 254.8L386.4 254.5L386.4 250.1ZM416.9 291.8L415.5 289.2L416 287.4L418.8 286.1L420.1 288.6ZM390.1 280.6L391.7 284.6L390.5 286.3L389.2 286.9L384.3 284.8L384.3 284.6L389.5 280.8ZM384 237.9L389.2 234.2L387.6 232.6L384.1 232.5L383 236.7ZM377.6 266.9L376.6 269L373.5 269L371.4 262.1L372 261.7L376.9 264ZM417 270.1L415.9 269.2L413.5 269.5L412.4 275.3L417 272.1ZM392.9 241.5L390.3 243.6L388.4 243.7L386.6 241.4L391.1 238.5ZM399.7 240L403 240.5L403.7 239.8L401.1 235L398.4 235.1L397.8 236.2L397.9 237.8ZM367.1 283.1L367.6 287.9L352.3 291.6L209.7 289L291.8 283.2Z"/>
<g fill="#9a5aab" opacity="0.35"><circle cx="380.5" cy="243.4" r="1.2"/><circle cx="396.1" cy="251" r="1.7"/><circle cx="431.1" cy="273.4" r="1.5"/><circle cx="425.5" cy="249.5" r="1.5"/><circle cx="388.7" cy="268" r="1.1"/><circle cx="383.6" cy="280.6" r="1.6"/><circle cx="393.4" cy="286.6" r="1.1"/><circle cx="415.2" cy="293.4" r="1.5"/><circle cx="377" cy="260.6" r="1.1"/><circle cx="392.1" cy="282.9" r="1.1"/><circle cx="417.8" cy="272.3" r="1.2"/><circle cx="377.1" cy="274.5" r="1.6"/><circle cx="384.4" cy="272.7" r="1.2"/><circle cx="395.1" cy="276.7" r="1.7"/><circle cx="374.9" cy="287.6" r="1.1"/><circle cx="426.4" cy="245.4" r="1.4"/><circle cx="379.8" cy="254.8" r="1.7"/><circle cx="415.1" cy="281" r="1.2"/><circle cx="403.4" cy="264" r="1.5"/><circle cx="419.4" cy="246.5" r="1.1"/><circle cx="407.9" cy="268.6" r="1.6"/><circle cx="426.7" cy="244" r="1.1"/><circle cx="380.4" cy="236.7" r="0.8"/><circle cx="385.1" cy="279.9" r="1.4"/><circle cx="424.1" cy="252" r="0.9"/></g>
<g fill="#9a62aa"><circle cx="435.1" cy="283.4" r="0.6"/><circle cx="374.7" cy="258.4" r="0.5"/><circle cx="420.2" cy="288.5" r="0.5"/><circle cx="398.3" cy="235.5" r="0.5"/><circle cx="435.8" cy="288.2" r="0.5"/><circle cx="395.2" cy="249.2" r="0.5"/><circle cx="432.8" cy="291.3" r="0.4"/><circle cx="410.6" cy="265.2" r="0.4"/><circle cx="423.9" cy="289.8" r="0.5"/><circle cx="417.9" cy="275.5" r="0.5"/><circle cx="407.5" cy="249.7" r="0.5"/><circle cx="381.1" cy="272.8" r="0.4"/><circle cx="409" cy="272.7" r="0.4"/><circle cx="435.5" cy="249.2" r="0.3"/><circle cx="434.1" cy="253.4" r="0.4"/><circle cx="399.8" cy="269.9" r="0.6"/><circle cx="418.4" cy="253.8" r="0.5"/><circle cx="401.9" cy="264.5" r="0.4"/><circle cx="384.1" cy="258.3" r="0.4"/><circle cx="386.2" cy="282.9" r="0.4"/><circle cx="383.1" cy="268.3" r="0.5"/><circle cx="423" cy="271.5" r="0.5"/><circle cx="394.8" cy="243.5" r="0.4"/><circle cx="395.6" cy="251.5" r="0.4"/><circle cx="382.9" cy="242.8" r="0.4"/><circle cx="386" cy="282" r="0.5"/><circle cx="386.1" cy="260.3" r="0.6"/><circle cx="410.1" cy="267.5" r="0.4"/><circle cx="385.9" cy="271.7" r="0.3"/><circle cx="423.3" cy="238.6" r="0.5"/><circle cx="397.8" cy="275.1" r="0.5"/><circle cx="381.7" cy="266.6" r="0.3"/><circle cx="388.8" cy="257.5" r="0.4"/><circle cx="415.5" cy="292.8" r="0.4"/><circle cx="426.7" cy="248.3" r="0.5"/></g>
</g>
<clipPath id="h2"><rect x="440.3" y="235.2" width="63.5" height="58.4"/></clipPath>
<g clip-path="url(#h2)">
<rect x="440.3" y="235.2" width="63.5" height="58.4" fill="#9c55b0"/>
<path fill="#fdf9fd" d="M442.2 238.6L440.9 238.7L439.8 237.7L439.5 236.9L439.7 236.7L440.6 236.3L442.7 237.7ZM493.6 279.3L494.1 278.5L494.9 278.6L496 279.6L494.6 281.7L494.1 281.7L493.7 281.1ZM482.5 252.3L483 253.3L484.3 253.3L485 252.9L485.6 251.8L484.5 250.9L482.6 251.9ZM479.3 272.3L477.9 271.3L477.8 270.6L479.9 269.8L480.1 269.9L480.9 272ZM479.1 240.3L478.3 243.5L477 243.4L476.6 242.5L478.6 240L479 240.2L479 240.3ZM465.5 257.6L466.5 255.7L468 256.5L468.1 257.1L467.4 258.1L466 258.2ZM468.1 248.1L466.4 249.2L466.4 250L466.9 251.2L468.2 250.7L469 249.1L469 248.7ZM440.8 233.6L437.5 228.1L439.1 235.1L440.2 234.7ZM475.4 269.2L475.4 268.7L474.1 267.2L473.2 267.6L473.1 267.8L474 269.5ZM459.3 239.7L460.3 239.6L462 240.4L462.1 240.7L460.2 242.4L459.7 242.3ZM489.1 292.4L487.5 291.1L488.5 290.1L489.8 291.1L489.9 291.8ZM492.4 282.3L492.9 282.9L491.8 284.5L489.7 284.5L489.1 283L490.6 282.1ZM503.4 244.2L503.2 243.7L503.1 241.7L504.6 241.6L504.9 242.7ZM490.6 278.5L489.2 277.3L488.3 278.2L488.5 278.8L489.4 279.1ZM468.4 266.2L468.6 264.8L469.9 264.4L470.2 265.3L469.4 267.6ZM472 291.5L471.3 291.1L470.2 291.6L471.5 292.8ZM470.6 287.1L471.5 287.5L471.9 287.5L472.7 286.1L472 284.2L469.9 285.9L469.9 286.1ZM478.6 292L478 293.4L476.3 293.2L475.7 292.9L475.4 291.4L475.5 291.1L477.3 291ZM487 264.3L487.5 263.2L488.4 263.1L488.8 264.5L488.2 265L488.1 265ZM498.5 250.3L499.6 247.7L501.3 247.7L501.6 250.1L498.6 250.3ZM502.4 278.6L501.9 278.1L502.1 277.3L502.9 276.8L503.8 276.7L504.8 277.6L504.6 278.7L504.3 278.9ZM457 244.6L459.1 246L460 244.6L459.5 243.7L459.1 243.6L457.1 244ZM472.7 292.1L474 291.8L474.4 293.3L473.1 294L472.4 294L472.2 293.3ZM478.6 238.1L479.7 236.2L480.6 236.1L481.3 237.1L479.5 238.9L479.2 238.7ZM495.8 247L497.7 246.2L498.7 247.2L497.6 249.9L496.7 249.4ZM467.5 278.1L466.6 278L465.4 279.6L465.4 279.9L466.1 280.6L466.8 280.8L468.3 279.9ZM440.1 278.9L439.7 279.8L438.2 280.6L434.2 279.1L438.9 278.4ZM493.5 241.2L493.9 243L495.7 241.8L495.3 240.8L495 240.7L493.9 240.6ZM465.7 235.9L465.4 234.4L463.7 232.4L462.9 233.6L462.8 235.3L464 236.5ZM480.9 281.4L480.2 281.5L479.4 279.6L480.4 279.3L481.5 280.6ZM440.3 260.3L440.1 262L439.3 262L438.1 260.4L438.8 260ZM491.4 279L490.2 279.7L490.7 281L492.6 281.2L492.5 279.2ZM499.4 279.7L499.4 281.4L501.1 281.8L501.3 281.7L501.3 279.5L500.9 279L500 279.2ZM498.4 278.9L497.2 278.9L496.1 277.8L497.5 276.9L498.9 278.4ZM468.9 246.4L471.1 245.6L470.5 247.3L469.6 247.8L468.7 247.2L468.7 246.8ZM444.8 261.9L445.4 260.4L445.3 260.2L443.5 260.2L443.7 262ZM496.5 240.6L496.9 241.7L498 242.4L498.4 242.1L499.3 241L498.5 239.2L497.6 239.5ZM478.1 258.2L476.6 258.2L476.9 256.4L477.9 255.8L478.6 256.1L478.5 257.9ZM481.6 260.4L481.3 260.6L479.8 260.6L479 259.1L479.4 258.8L480.9 259.1ZM446.8 237L445.5 236.6L445.6 235.5L448.1 234.3L448.2 234.5L448.2 234.6ZM437.2 242.1L439 241.9L439.9 243.6L437.6 244.5L437.1 244.6L433.5 244ZM444.7 273.7L444.1 274L442.9 273.6L442.8 273.5L443.5 271.2L443.5 271.3L444.6 271.9L444.9 272.6ZM452 261.3L452.1 260.8L453 259.9L454.8 261.3L453 261.8L452 261.4ZM456 270.1L456 270.1L455 271.6L453.7 270.4L453.8 268.8L453.9 268.7L454 268.6L455.8 269.3ZM488.2 248.8L486.3 247.9L485.3 248.8L485.6 249.8L486.8 250.8L487.6 250.7L488.1 249.9ZM467.6 266.2L466.1 266.8L466.1 265.2L467.5 264.7L467.8 264.8ZM464 240.1L463.8 240L463.7 239.7L464.4 238L465.9 237.4L466.1 237.5L466.5 238.5L466.4 239.3L465.4 240.4ZM452.7 245.5L454.9 245.7L454.9 245.7L452.8 247.2L452.2 246.8L452.3 246.1ZM471.4 262L471.4 262.8L471.7 262.9L474.2 262.6L474.2 261.5ZM451 291.9L453.2 292.2L454 291.1L453.9 290.9L451 289.5L450.5 289.8ZM477.9 237.7L479 235.6L478.7 235.1L476.4 234.6L476.3 236L477.5 237.6ZM448.4 239.2L448.2 238.6L449.6 237.4L451.7 238.1L449.7 239.4ZM492.6 255.1L494.3 255.7L493.6 256.7L492.8 256.8L491.8 256.2L491.7 256.1ZM494.5 274.8L494.2 276.7L494.3 277L495.3 277L496.7 276L496.9 275.3L495.5 273.8ZM465.7 262.8L464.6 263.9L465.7 264.5L467.1 264L466.4 262.9ZM452.7 268.9L450.6 269.7L451.2 271.3L452.6 270.5ZM440.4 250.8L440.9 249.7L442 248.9L443.3 249.7L443.2 250.2L442 251.9ZM464.7 293.4L463.6 291.8L462.6 291.6L461.4 292L462.3 293.5L463.6 294.1L464.6 293.6ZM443.6 279L443.6 279L443.2 278.8L442.6 278.7L442 279L441.6 279.9L442.2 281L443.6 280.6L443.9 280.2ZM465.1 262.4L463.8 263.5L463.3 263.5L463.6 261.6L464.7 261.6ZM489.5 255.9L488.4 256.6L488.4 256.7L488.7 258.5L490.2 258.2L490.7 256.5L490.6 256.4ZM447.2 239.5L446.9 238.9L446.3 238.4L444.9 237.9L444.4 238.3L443.8 239.3L443.9 239.4L446.3 241.1L446.4 241.1ZM442.5 286.1L441.1 287.1L441 287.2L441.1 287.7L441.2 287.8L443.6 289.4L444.7 288.8L445.3 288.1L445.3 287.8ZM481.3 291.8L480.2 292.5L479.5 293.9L480.1 295.4L482.8 294L482.7 293.1ZM462.9 261.4L462.6 263.1L462.4 263.2L461.1 261.5L461.6 260.4L462.3 260.3ZM501 286.7L500.9 287.1L502.5 288L503.3 287.9L503.5 287.7L503 285.9L502.5 285.5ZM457.9 248.5L457.8 248.6L456.5 246.9L456.3 245.9L456.3 245.9L456.6 245.5L458.6 246.9L458.7 247.6ZM470.1 248.4L470.1 248.8L471 249.4L472 248.8L470.9 248ZM468.1 276.1L467.7 275.3L466.9 275L466.3 276.2L466.8 276.8L467.7 276.9ZM500.9 271.4L502.4 271.3L502.8 270.8L502.5 269.6L501.1 268.5L500.3 268.8L500.6 271.2ZM493.5 239.3L494.7 239.4L494.3 236.5L494.2 236.5L492.2 237.7L492.2 237.8ZM467.1 235.8L466.8 234.4L469.4 232.5L469.4 234.8L469.2 235.2L467.2 235.9ZM470.8 260.2L470.7 260.2L470.2 258.1L472 257.5L472.4 258.5ZM505 254.2L509.8 251.5L504.3 251.7L504.1 253.6ZM490 273.1L488.3 273.7L488.3 274.3L489.3 275.6L490.2 274.9L490.3 273.7ZM489 287.4L488.7 286.9L489.4 285.8L491.5 285.8L491.8 286.9L491.2 287.8L490.8 288.1ZM486.6 290.2L486.8 290.3L487.8 289.3L487.8 288.1L487.5 287.7L486.5 287.7L486.1 289.7ZM484.1 285.9L484 284.5L482.6 284.1L481.8 285.5L484 285.9ZM500.8 290.3L499.3 289.8L498.7 288.4L500.2 287.7L501.8 288.6ZM446.2 284.8L445.8 286.8L443.2 285.2L443.3 284.4L444 284.1L446 284.6ZM490.7 244L492.2 245L490.6 246.5L490.1 246.5L489.5 245.2ZM447.5 272.3L447.2 270.8L445.5 271.7L445.8 272.2ZM472.4 275.2L472.3 275.1L471.2 274.7L470.6 275.9L471.8 277.1L472.1 276.9ZM459.1 249.3L461.3 250.3L461.4 250.1L461.5 248.5L459.8 248.4ZM448.4 280.3L448.8 278.9L449 278.7L449 278.7L450.3 279.6L450.3 281.3L449.3 281.6ZM492.3 259.1L492.5 257.6L491.5 257.1L491.1 258.6L491.7 259.1ZM473.4 257.8L473 256.8L473.1 255.3L473.3 255.3L475.8 256.3L475.4 258.1L475 258.5ZM493.9 251.3L493.8 252L494.7 252.3L496.9 251.6L496.9 251.1L496.9 251L496 250.6L494.8 250.6ZM495.5 236.5L496.9 238.5L495.8 239.7L495.5 239.6L495.1 236.6ZM473 287.8L473.8 286.5L475.5 286.6L475.6 287.2L474.5 288.6ZM491.4 272.4L491.7 272.9L493.7 273.6L494.6 272.6L494.7 272L494.4 271.5L493.5 271.3L491.6 272L491.4 272.2ZM470.8 243.1L470.6 242.6L469.3 241.8L468 242.9L468.8 243.6ZM466.2 273L466.9 273.9L467.7 274.2L468.8 273.3L467.7 271.3L467.5 271.3L466.3 272.8ZM501.2 253.4L502.7 251.6L503 251.8L502.8 253.6L501.7 254.1ZM504.5 264.2L501.5 266L501 263.8L501.7 263.3ZM489.1 280.1L488.3 279.8L487.5 281.7L488.2 282.2L489.7 281.4ZM456.6 271.2L457.9 272.4L456.6 273.8L455.6 272.7L455.6 272.6ZM466.2 243.1L465.3 242L463.8 241.6L464.3 244.9L465.3 244.4ZM470.9 290.5L471.1 288.7L470.2 288.3L468.7 290.7L469 291L469.7 291ZM459 254.3L458.9 255.3L461.8 255.9L462.2 253.8L461.2 253.4ZM490.9 259.8L490.4 261L489.4 260.9L488.8 259.6L488.9 259.6L490.3 259.3ZM474.1 247.7L475.4 248L475.8 247.1L475.4 245.9L474 246.2ZM495.3 258L496.4 257.5L496 256L495.2 256L495.2 256L494.5 256.9ZM448.7 253.7L447.4 254L446.6 252.5L447.4 251.6L448.6 251.7ZM446.3 245.6L446.5 246.9L446.7 247.1L447.9 246.8L448 246.3L447.3 244.4ZM453.5 255.5L454.3 255.9L456.8 255.9L457.1 255.3L457.3 254.4L456.3 252.8L455.3 252.6ZM481 253.1L481.4 254.1L481 254.9L480.8 255.2L479.4 255.2L478.7 254.8L478.6 254.1L479.3 253.1ZM495.1 260.4L495.3 261.2L497 261.5L497.9 260.1L497.3 258.9L496.9 258.8L495.6 259.3ZM490.7 241.5L492.2 240.9L492.6 240.2L491.3 238.7L489.7 240.3L489.6 240.4ZM461.4 282.4L461.4 280.7L459.6 279.5L459.4 279.7L459.1 281.4L459.6 282.4L459.9 282.6ZM470.4 273L470.9 271.2L469.7 270.3L468.6 271L469.6 272.8ZM459.5 286.1L459.5 287.6L458.6 288.4L457.4 286.1L457.8 285.9ZM468.9 257.7L468.1 258.7L468.9 260L470 260.3L469.5 258.1ZM475.3 235.5L473.9 235.9L473.3 234.8L474.9 232.8L475.4 234.2ZM446.5 292.4L444.9 293.3L444.1 291.1L444.3 290.7L445.3 290.1ZM485.5 291L485 291.8L483.5 292.3L482.1 291L482.3 290.4L482.7 290.2L485 290.4ZM484.3 239.1L485.3 237.5L485.2 237.3L483.7 237.1L483.3 237.3L483.7 238.7ZM440.9 288.9L440.2 291.2L441.1 291.9L442.8 290.8L443 290.4ZM455.3 264.2L453.7 263.8L453.7 262.5L455.4 262.1L455.8 262.1L455.6 264.1ZM477.4 239L478 239.6L476 242L475.2 241.5L475.1 240L475.2 239.9L477.1 238.9ZM472.9 236.4L472.7 236.7L471.5 237.1L470.6 235.7L470.8 235.3L472.3 235.3ZM493.2 266.3L495.8 267.1L496.3 266.7L496.3 266.6L493.7 264.4L493.5 264.5L493.1 265.1ZM442.2 245.3L441.6 244.2L441.4 244.2L439 245.2L441.8 246.8L442.3 245.7ZM462.2 270.5L461.8 271.9L462.6 272.7L464.4 273L465 272.7L465 272.5L462.2 270.5ZM462.6 251.3L462.5 252.5L463.4 252.9L465.2 252.8L465.5 252.2L465.6 252L465.1 250.9L462.7 251.1ZM464.1 284.1L466.6 283.9L466.7 283.9L466.4 282.2L465.7 281.9L464 283.5ZM494.9 270.3L495.8 268.2L492.9 267.3L492.6 267.9L493.9 270.1ZM469.9 249.5L469.1 250.9L470.9 251.4L470.7 250.1ZM450.4 243.4L450.4 244.5L451.6 245.4L452 244.8L451.8 243.1L451.1 243ZM484.4 261.1L483.9 261.3L484.7 263.6L485.9 263.6L486.5 262.4L485.1 261.1ZM440.5 280.9L441.1 282.1L441 282.7L439.9 282.9L439.4 282.6L439 281.7ZM492.7 260.3L493.8 260.9L494 261.8L493 262.8L492.8 262.9L491.5 261.6L492.1 260.3ZM469.9 254.3L468.2 255.5L466.8 254.7L466.5 253.7L466.9 253.1ZM451.1 261.8L449 262L448.9 262.4L449.1 263.2L450.7 263.7L451.1 261.8ZM477.6 250.7L476.7 250.8L476.3 251.2L476.4 252.4L477.5 253.1L478.2 252.1ZM479.2 275L479.8 273.5L481.3 273.2L482.1 273.6L482 273.7L480.4 275.6L479.4 275.3ZM450.6 254.1L449.7 253.6L449.6 251.6L450 251.1L451.7 251.6ZM488.8 253.2L487.9 252.1L487.2 252.2L486.5 253.4L487.8 255.4L488.9 254.7ZM451.8 278.6L450.9 278.9L449.5 278L450.8 276.7L451.8 277ZM496.3 271.2L499.1 271.1L498.8 268.4L497.4 268L496.9 268.4L496 270.6ZM471.2 254.9L469.3 256.1L469.4 256.7L470 257.1L471.9 256.5L472 255L471.8 254.8ZM485.2 235.2L485.3 236.4L483.8 236.2L483.9 234.3ZM474.1 239.5L473.1 237.6L471.7 238L471.6 238.6L472.4 239.6L474 239.6ZM469.7 240.9L469.7 240.7L470.4 239.4L470.9 239.2L471.5 240.1L471 241.6ZM474.2 272.2L473.9 271.1L474.4 270.6L475.8 270.3L476.2 270.7L476.3 271.4L475.7 272.3ZM442.3 276.8L442.6 274.8L443.8 275.1L443.3 277.6L442.5 277.5ZM467.1 242.4L466.3 241.4L467.4 240.3L468.5 241.1L468.6 241.3L467.2 242.4ZM471.2 293.4L471.4 294.2L469.7 295.5L469.1 292.1L469.8 292.1ZM446.1 283.6L444 283.2L444.4 281.6L444.7 281.2L445.5 281.7ZM500.5 266.6L500.2 266.9L499.4 267.2L498.1 266.8L498.1 266.7L498.4 264.4L500 264.5ZM461.7 285.7L461.2 287.3L460.3 287.6L460.3 285.8L460.5 285.6ZM496.3 236.1L497.8 235.3L498.7 236.5L498.7 237.4L498.5 237.8L497.7 238ZM442 270.2L441 268.5L439.9 269.4L439.3 271.9ZM505.7 285.1L504.4 287.4L504.2 287.4L503.8 285.6L505.3 284.8ZM498.5 234.4L498.7 233.8L501.5 233.6L501.8 234.9L499.5 235.6ZM455.3 283L453.5 282.4L452.8 283L452.9 283.5L453.7 284.4L455.3 284.6ZM483.3 234.2L482.9 233.6L481.6 235.3L482.4 236.4L482.7 236.5L483.1 236.2ZM511.2 265.9L508.1 268.9L508.4 270.2L523.3 269.3L530.6 267.9L524.1 266.9ZM478.9 248.3L478.8 248.1L476.7 247.7L476.4 248.6L476.9 249.6L477.7 249.6ZM469.9 263.3L470.2 262.8L470.2 262L470 261.4L470 261.4L469 261.1L467.9 261.5L467.5 262.4L468.3 263.6L468.5 263.7ZM480.2 234.2L479.9 233.7L480.9 227.4L482.2 231.7L482.3 232.6L481.1 234.2ZM475.9 277.2L477.5 277.3L478.1 276L478 275.7L476.4 275.2L476 275.6ZM468.9 275.6L468.6 274.8L469.5 274L470.3 274.2L470.3 274.3L469.8 275.5ZM472.7 290.9L474.1 290.6L474.2 290.2L474 289.5L472.5 288.6L472.2 288.7L471.9 290.4ZM503 240.3L503.3 240.6L504.7 240.5L506.4 238.9L505.6 238.4L503.1 239.5ZM503.7 259L505.1 258.4L505.2 257.5L504.2 256.5L502.7 258L502.8 258.2L503.4 258.8ZM491.1 291.5L492.5 290.2L491.6 289L491.1 289.3L490.6 290.8L490.7 291.5ZM467.7 238.6L469.7 239.1L468.9 240.4L467.7 239.5ZM501.6 256.3L502.4 257.3L503.9 255.8L504 255.3L503 254.6L501.8 255ZM447.6 285.5L447.1 287.5L447.2 287.8L449.1 288.3L449.7 288.1L450.3 287.3L449.9 285.9L448.3 285.1ZM501.5 261.6L500.3 260L502.1 258.9L502.6 259.4ZM441.2 264.7L441.2 264.1L440.3 263.2L439.6 263.1L436.9 265L440.8 265.8ZM496.6 272.3L499.3 272.3L499.7 272.5L499.3 274L497.8 274.4L496.5 272.9ZM478.4 245L478.9 247.1L476.7 246.7L476.2 245.4L476.8 244.7L478.1 244.8ZM455.4 285.5L455.7 285.8L454.3 287.5L453 286.8L453.9 285.3ZM463.3 244.9L462.9 241.9L462.7 241.7L460.9 243.4L461.4 244.3L463.1 245.2ZM457.3 269.7L460 269.3L458.1 267.6L457 269ZM440.1 288.5L439.3 290.8L439.1 290.8L438.2 289.7L440 288.4ZM452.1 256.8L452.8 257.2L452.7 258.7L451.8 259.5L450.6 258.1L451.7 256.7ZM444.2 270.4L445.9 268.9L447.3 269.6L447.1 270.1L445.2 271.1ZM469.2 245.6L469.1 244.2L471.3 243.7L471.3 243.8L471.5 244.8L471.5 244.8ZM435.4 252.8L441.6 254.8L441.6 253.6L441.3 252.9L439.7 251.8ZM449.5 292L448.9 289.7L447 289.2L446.4 289.9L447.6 292.3L448.8 292.8ZM437.9 240.8L439.2 238.6L440.4 239.6L439.7 240.6ZM452.6 268L451.3 266.6L449.7 267.2L449.5 268.6L450.2 269L452.5 268.2ZM482.2 280L481.1 278.7L481.4 277.9L482.8 278L483.6 278.6L483.4 279.5ZM494 290.1L495.2 288.9L495.7 288.9L495.4 290.9L494.6 290.9ZM450.9 261L451 260.5L449.8 259.1L449.5 259.2L448.8 260.7L449 261.2ZM501 272.9L502.5 272.8L502.6 272.9L502.3 275.4L501.6 275.8L500.6 274.3ZM503.3 273.1L503 275.7L504 275.7L504.8 274.6ZM441.6 277.1L439.8 275.1L439.8 277.5L441.2 278.1L441.8 277.8ZM456.3 268.2L454.5 267.5L455.7 265.4L456.1 265.2L457.5 266.2L457.5 266.7ZM472.8 253.7L473 254L473.2 254L475.1 252.9L474.9 251.7L473.7 251.7L472.7 252.8ZM472.2 245.6L472.2 245.6L473.3 246.2L473.3 247.8L472.9 248.3L472.7 248.3L471.5 247.4ZM461.6 258.7L460.9 258.9L458.6 257.3L458.6 257L458.9 256.4L461.6 257L462.3 257.9ZM460 247.5L459.9 246.8L460.9 245.4L462.9 246.4L462.9 246.7L461.8 247.7ZM448.4 294.1L448.1 296.9L445.7 294.6L445.7 294.5L447.2 293.6ZM449.2 250L449.2 248.4L448.2 247.8L447 248.1L446.7 248.7L447.4 250.3L448.8 250.4ZM454.6 250.4L454.5 249.8L455.8 248L457.1 249.6L456.2 251.1L455.2 250.8ZM447.2 237.5L448.6 235.2L449.1 236.9L447.8 238ZM474.1 278.9L474.4 280.1L473.9 281.4L472.7 281.6L471.2 280L472.2 278.6L472.6 278.4ZM454.9 235.7L455.1 232.2L457 234.8L457 234.8L454.9 235.7ZM458.5 250L458.3 250.1L457.5 251.6L458.5 253.2L460.6 252.3L460.7 251ZM489.7 264.2L489.3 262.6L489.6 262L490.7 262.1L492 263.5L491.6 264.2ZM501.7 290.7L502.6 289.2L503.4 289.1L503.8 291.2L502.1 291.9ZM487.7 266.4L487.8 266.4L488.2 267.9L487.1 268.7L486.2 268.9L485.6 268ZM451 239.9L452.7 238.7L452.8 238.7L453.2 238.7L454 240.1L453.9 240.8L452.3 241.6L451.7 241.5ZM444.5 262.9L445 263.3L445 264.4L442.6 264.4L442.6 263.8L443.5 262.9ZM454.4 237.8L455.2 239.2L457.5 238.5L457 236L454.9 236.8ZM492.4 296.6L489.9 293.4L489.9 293.3L490.8 292.6L491.1 292.7L492.2 293.4L493 295.1ZM480.1 239.3L480 239.3L481.9 237.4L482.3 237.5L482.7 239ZM475.2 274.9L475.6 274.6L475.6 273.4L473.8 273.3L473.2 274.5L473.3 274.6ZM468.1 245.6L468 244.3L467.2 243.7L467 243.7L466.3 244.9L467.9 245.9ZM457.2 284.7L456.8 285L456.7 284.9L456.4 284.6L456.4 283.2L456.5 283.1L458.1 282.4L458.5 283.3ZM475.8 250L475.3 248.9L474 248.6L473.6 249.1L474.1 250.4L475.4 250.4ZM489.5 250.7L489 251.4L489.9 252.5L492 252.2L492.1 252.1L492.1 251.4L491.5 250.8ZM477.8 287.3L476.8 286.7L476.7 286.1L477.3 284.7L477.9 284.5L479.4 286L479.3 286.9ZM449.6 243.5L449.6 244.5L448.5 245.6L447.9 243.7L447.9 243.3ZM466.1 288L465.4 287.3L465.4 287.1L467.2 285L467.3 284.9L468.5 285.9L468.6 286.1ZM497.6 255L496.8 255.8L497.3 257.5L497.7 257.7L499 256.5ZM459.7 283.6L459.4 283.5L458.2 284.9L459.8 285.1L460 284.9ZM444.5 249.9L445.7 249.4L446.5 250.8L445.7 251.7L445.7 251.7L444.5 250.4ZM497 284.4L497.4 287.2L498.1 287.4L499.6 286.7L499.7 286.3L499.3 285.3L497.3 284.3ZM455.7 282.2L455.7 282.1L455.3 279.8L454.9 279.7L454.5 279.9L453.9 281.6ZM461.1 236.6L462.1 236.2L463.3 237.4L462.5 239.3L460.7 238.5ZM451.8 262.3L452.6 262.7L452.7 263.9L451.8 264.4L451.4 263.9ZM474.8 263.2L472.1 263.5L474.2 265.1L475.3 264.3ZM447.7 268.6L448.3 268.3L448.4 267.1L447.7 266.3L446.8 266.4L446.3 267.3L446.5 268ZM446.7 242.4L446.6 242.4L445.6 243L445.4 244.1L446 244.6L447 243.5L447.1 243ZM442 285L440.7 285.9L440.3 283.8L441.5 283.6L442.1 284.3ZM452 237L451.8 237.1L450 236.5L449.5 234.8L449.5 234.7L450.4 234.9ZM493 253L493.1 252.9L494.1 253.3L494.6 254.9L494.5 255L492.9 254.3ZM488.7 276.6L488.7 276.5L487.6 275.1L486.4 276.5L486.4 277.2L487.7 277.6ZM470 281L471.5 282.6L471.3 282.9L469.4 284.5L468.3 283.6L468 281.9L469.3 281ZM456.5 282L458.3 281.2L458.6 279.5L456 279.7ZM502.9 238.6L505.3 237.5L504.5 236.6L503.3 236.2L502.6 237.9ZM445 274.8L444.5 275.1L444 277.4L444.4 277.6L445.7 275.8L445.5 275.2ZM456.6 291.4L458.3 293.7L459.6 291.7L458.4 290.5ZM490 247.6L489.4 248.4L489.3 249.6L491.4 249.8L491.6 248.4L490.5 247.5ZM479.4 268.8L478.9 266.6L478.1 266.4L476.7 268.7L476.7 269.2L477.2 269.6ZM465.7 262L465.3 261.2L465.9 260.4L466.9 261.1L466.5 262.1ZM454.8 276.1L456.2 274.9L456 274.6L455.1 273.5L453.8 274.2L454 275.7ZM457.7 289.3L457.7 289.4L455.8 290.3L455.5 290.4L455.4 290.2L455 288.5L456.3 286.9L456.5 286.9ZM462.6 284.6L462.1 284.9L461 284.8L460.7 283.6L461.9 283.4L462.5 283.9L462.6 284.5ZM492 253.2L490 253.5L490.1 255L491.1 255.4L491.9 254.5ZM472.4 243.6L474.6 242.7L475.4 243.3L475.8 244.2L475.2 245L473.8 245.3L472.7 244.7ZM495.4 294.9L497.6 295.1L498 294.4L496.4 293.4ZM476.1 260.1L478 261.2L478.7 260.8L477.9 259.1L476.4 259.1L476 259.5ZM476.1 253.5L474.3 254.6L476.4 255.5L477.2 254.9L477.2 254.2ZM462.6 269.9L463.4 269L464.9 268.9L466.6 270.4L465.4 271.9ZM486.9 244.3L485.8 244.2L485.2 244.9L486.1 245.8L487.1 244.7ZM463.2 278.1L461.9 277.6L460.8 277.9L460.6 278.7L462.1 279.8L463.8 279.5L463.8 279.2ZM460.2 292.6L458.9 294.6L458.9 294.7L459.4 296.2L461.1 293.9L460.3 292.6ZM475 277.4L475.1 275.8L473.2 275.5L472.9 277.3L474.6 277.8ZM468.9 276.9L469.8 276.8L470.9 277.9L470 279.2L469.3 279.2L468.6 277.6ZM478.5 279.7L478 280.3L478.4 282.3L479.5 281.5L478.7 279.8ZM452.9 237.1L451.3 235L452.5 234.6L453.8 236.2L453.8 236.2L453.3 237.1ZM447.2 284.1L447.9 283.8L448.7 282.7L447.7 281.4L446.3 281.9L446.9 283.9ZM487.4 240.6L485.4 240.5L485.2 239.8L486.3 238.2L486.5 238.3L488 240.1L488 240.2ZM491.4 267.2L490.3 267.7L489.5 267.5L489.1 265.9L489.7 265.3L491.5 265.4L491.7 266.6ZM464.3 277.7L465.1 276.7L465.6 276.7L466.2 277.3L464.9 278.9ZM459.9 261L460.4 259.9L458.1 258.3L457.4 260.9L458.9 261.4ZM461.1 272.8L460.7 273.1L459.8 275.9L460.1 276.6L461.4 276.2L462 275.3L461.8 273.6Z"/>
<path fill="#f4e8f6" d="M505.1 264.8L502.2 266.6L501.9 266.9L503.5 268.2L506.6 265.2L505.3 264.8ZM483.9 242.3L484.8 243.8L484.2 244.5L483.1 244.7L482.5 243.6L482.7 243ZM497.7 283.4L499.6 284.3L500.6 282.9L498.9 282.5ZM459.3 289.6L459.3 289.7L460.5 291L460.6 291L461.7 290.5L462.2 288.8L461.1 288.4L460.3 288.7ZM452.4 255L454 252.2L453.4 251.8L452.5 252L451.5 254.4L451.9 254.9ZM487.1 241.6L485 241.5L484.7 241.9L485.6 243.3L486.9 243.5ZM471.1 265.1L472.4 266.4L473.3 265.9L473.5 265.4L471.5 263.8L471.2 263.8L470.9 264.2ZM482.3 272L483.1 272.4L483.3 272.3L484.6 271.4L484.9 270.1L484.3 269L484 268.8L481.5 269.8ZM499.1 245.2L499.9 246.1L501.5 246.1L502.3 245.5L502.2 245L502 244.5L499.5 243.6L499.1 243.9ZM489.6 233.3L490.7 236.5L488.4 235.7L488.9 233.7L489.5 233.2ZM482.6 247.9L481.3 248.5L482.1 250.9L484.3 249.7L484 248.7ZM451.6 287.8L451 288.6L454.1 290.1L453.7 288.3L452.3 287.5ZM444.9 266.7L442.1 266.4L442.1 266.4L442.5 265.3L445 265.2L445.4 265.8ZM441.5 293.2L440.9 296.4L444.1 294.3L444.1 294.2L443.3 292ZM443.2 255.1L443.3 255.2L446.1 254.8L446.3 254.6L445.5 253L445.4 253L443.2 253.9ZM472 242.8L474 242L473.8 240.6L472.3 240.6L471.7 242.2L471.9 242.8ZM510.3 250.3L504.9 250.5L504.6 250.3L504.4 250.1L504 247.9L504.8 247.2L513.1 249.6L512.3 249.9ZM480.8 282.6L480.1 282.7L478.9 283.5L478.8 283.7L480.2 285.1L480.6 285L481.4 283.6ZM444.4 244.4L442.9 244.8L442.2 243.7L443 242.9L444.6 243.1ZM479.8 248.8L478.6 250.2L479.3 251.7L481.1 251.7L481.2 251.2L480.4 249ZM442.5 252.6L443.8 250.9L445.1 252.3L442.8 253.3ZM446.1 259.7L446.2 258.6L447 258L448.5 258.8L447.8 260.4L446.2 259.8ZM480.4 240L482.3 242L483.6 241.3L483.9 240.9L483.7 240.1L483.1 239.7L480.4 240ZM485.1 276.2L483.5 274L483.3 274L483.2 274.2L483.3 276.9L484.1 277.6L485.2 276.9ZM502.4 282.1L502.4 280L504.2 280.3L504.3 282L504.2 282L502.6 282.2ZM487.5 259.1L487.2 257.3L485.5 257.6L485.1 257.9L484.7 259.8L485.5 259.8L487.5 259.1ZM481 290.1L479.9 288.2L478.4 288.6L478.3 290.1L479.8 291.3L480.8 290.6ZM450.6 264.6L450.9 265.1L450.9 265.7L449.4 266.2L448.7 265.4L449.2 264.2ZM453.1 271.3L451.6 272.2L451.3 273.1L453.1 273.4L454.4 272.7L454.4 272.6ZM465.1 274L464.6 274.9L465.2 275.8L465.6 275.7L466.2 274.5L465.6 273.7ZM489.5 272.1L487.6 272.7L486 271.7L486.3 270.3L487.3 270.1L489.5 271.9ZM475.8 261L477.6 262L477.1 263.8L476 263.7L475.5 262.7L475.6 261.5ZM450.6 294L452.8 294.3L453 295.3L451.2 303.2L449.7 297.6L450 294.8ZM450.6 256L449.5 257.6L449.2 257.8L447.6 257L447.6 255.5L447.7 255.3L449.3 255L450.1 255.4ZM467.9 290.2L466.6 289L466.5 288.9L468.8 287L469.4 288L468 290.2ZM501.6 237.6L502.3 235.9L502.1 235.7L500 236.4L500 237.3ZM483.9 257.8L482 256.4L481.7 256.6L481.7 258.6L482.5 260L483.1 260.1L483.5 259.8ZM465.3 254.3L465.5 255.3L464.6 257L463.8 257.1L463.1 256.3L463.5 254.3ZM458.7 238.3L459.6 238.2L460 236.3L458.1 235.5L458.1 235.5L458 235.6L458.6 238.3ZM500.8 291.3L499.3 290.8L498.9 291.6L499.8 293.3L500.9 293.3L501.2 292.6ZM491.3 246.9L493 245.3L493 245.3L494.2 246.5L493.2 247.7L492.4 247.8ZM463.5 285L464.6 286.7L466.4 284.7L463.6 284.9ZM496.7 292.4L498.1 291.9L498.9 293.5L498.4 293.8L496.7 292.8ZM484.2 256.8L482.4 255.4L482.8 254.5L484.2 254.5L484.6 256.5ZM446.7 228.3L446.4 229L445.2 233.6L445.4 234L447.7 232.8ZM454.2 257.6L456.8 257.6L456.9 257.9L456.2 260.5L456 260.7L455.7 260.6L454.1 259.3ZM455.3 246.2L455.4 247.1L454.1 248.7L453.4 247.6ZM463.1 283.1L465.1 281.3L464.4 280.5L462.4 280.9L462.4 282.5ZM442.6 240.2L442.4 242L441.8 242.8L441.6 242.8L440.7 241.1L441.4 240.2L442.6 240ZM480.8 258.1L479.3 257.8L479.4 256.2L480.8 256.2ZM485.2 289.3L485.7 287.4L484.6 286.9L484.5 286.9L483.1 289.2ZM496.2 290.9L496.5 288.8L497 288.5L497.7 288.7L498.2 290.1L497.9 290.8L496.5 291.3ZM501.9 241.1L502.2 241.4L502.3 243.4L499.6 242.4L500.5 241.3ZM482.1 245.7L481.9 247L480.7 247.5L480.1 247.4L480 247.3L479.6 245.4L481.5 244.7ZM454.1 278.9L452.7 278.6L452.6 277L453.5 276.7L454.4 277.1L454.5 278.8ZM478 274.7L478.5 273.3L477.2 272.3L476.6 273.2L476.6 274.3ZM493.2 286.5L493 285.4L494.1 283.7L494.8 283.8L495.8 284.3L496.2 287.1L495.7 287.4L495.2 287.4ZM480.6 268.5L480.1 266.2L480.6 266L482.9 266.5L483.3 267.7L480.8 268.6ZM461.3 269L461 268.9L459 267L459 266.5L460 265.9L461.6 265.8L462.1 268.2L461.4 269ZM499.7 275.2L500.8 276.8L500.6 277.7L499.6 277.9L498.1 276.3L498.2 275.6ZM441.7 276.3L442 274.2L441.9 274.1L439.7 274L439.8 274.2ZM464.8 260.5L463.7 260.6L463.1 259.4L463.8 258.5L464.6 258.4L465.1 258.9L465.3 259.7ZM474.4 282.8L476.1 283.9L475.5 285.5L473.7 285.4L472.9 283.5L473.1 283.1ZM486.5 281.2L485.9 281.2L484.8 279.8L484.9 279L485.9 278.3L487.1 278.7L487.3 279.3ZM443.4 269.9L445 268.5L444.8 267.7L442.1 267.4L442.1 268.1L443 269.7L443.3 269.9ZM491.4 243.3L492.8 244.2L492.8 244.2L493 243.8L492.7 242L491.3 242.6ZM500.8 257.1L501.6 258.1L501.6 258.3L499.8 259.5L499.2 259.5L498.5 258.3L499.9 257.1ZM453 243.1L454.7 242.2L455.7 243.8L455.6 244.4L455.3 244.8L453.2 244.6ZM471.5 250.1L472.6 249.5L472.8 249.5L473.2 250.7L472.2 251.9L471.7 251.4ZM465.4 292.8L464.4 291.3L465.8 289.8L467.1 291.1ZM466.1 293.6L467.8 291.9L467.9 291.9L468.2 292.2L468.8 295.4L468.3 296.2L466.1 293.9ZM452.2 282.1L451.3 281.6L451.3 279.9L452.2 279.6L453.6 279.9L453 281.5ZM463.1 285.7L464.1 287.2L464.1 287.4L463.1 287.8L462.1 287.4L462.6 286ZM477.1 265.1L477.6 265.5L476.1 268L474.7 266.3L474.8 265.7L475.9 264.9ZM485.5 256.4L485.2 254.5L485.9 254.1L487.2 256.1L487.2 256.1ZM446.5 274.8L446.6 275.4L447.8 275.9L448.4 273.8L448.4 273.8ZM486 235.3L487.1 234.3L488 234.1L487.5 236.2L486.6 236.8L486.3 236.8L486.1 236.5ZM461.9 264L460.6 262.1L459.5 262.5L460 264.5L461.6 264.4ZM479.7 241L479 243.9L479.3 244.1L481.3 243.4L481.5 242.8ZM472.5 270.6L473.1 270L472.2 268.2L470.3 269.4L470.3 269.5L471.6 270.5ZM487.8 245.2L486.7 246.5L486.6 246.9L488.6 247.7L489.2 246.9L488.5 245.6ZM442.6 283.6L442 282.9L442.1 282.3L443.6 281.8L443.2 283.3ZM493.3 289.7L494.7 288.4L492.7 287.5L492.2 288.5L493.1 289.7ZM482 289.1L483.5 286.7L481.1 286.4L480.7 286.5L480.6 287.5L481.6 289.3ZM447.3 280.4L447.8 278.8L444.7 279L445.1 280.4L445.9 280.9ZM477 289.8L475.3 289.8L475.2 289.2L476.2 287.8L477.1 288.4ZM476.5 238L475.4 236.6L474.1 236.9L473.9 237.2L474.7 238.9ZM453.3 267.3L452 266L452.1 265.4L453.1 264.9L454.6 265.3L453.4 267.3ZM467.6 236.8L469.7 236.1L470.7 237.6L470.6 238.2L470 238.5L468 238ZM467.2 246.7L465.5 245.6L464.5 246.1L464.3 246.4L464.3 246.7L465.7 248.2L467.2 247.1ZM463.6 277.2L462.3 276.7L462.8 275.8L463.8 275.5L464.4 276.4ZM445 278.2L445 278.2L446.3 276.4L447.4 276.9L448 277.9L447.8 278ZM452 276L451.1 275.6L450.9 273.9L450.9 273.9L452.6 274.3L452.8 275.7ZM450 245.3L449 246.4L448.9 247L449.8 247.6L451.1 247L451.1 246.3ZM445.6 262.2L446.1 262.7L447.9 262.2L447.9 261.8L447.7 261.2L446.2 260.7ZM478.2 264.2L478.7 264.7L479.4 264.9L479.8 264.6L480.8 262.1L479.4 262.1L478.7 262.5ZM462.6 273.5L462.8 275.1L463.9 274.8L464.4 273.8ZM489.1 239.3L490.7 237.8L490.7 237.7L490.7 237.7L488.6 237L487.7 237.6ZM488.7 288.2L490.4 288.9L489.9 290.3L488.7 289.3ZM455.8 278.6L456.1 278.8L458.5 278.6L458.7 278.4L458.9 277.5L458.5 276.9L457 276L455.7 277.2ZM467.9 267.3L466.3 268L465.9 268.6L467.7 270.1L467.8 270.1L469 269.3L469.1 269.1L468.9 268.7ZM453.2 250.1L453.1 249.5L452.3 248.3L451.8 248.1L450.7 248.6L450.7 249.9L452.3 250.3ZM494.2 294.7L494.6 294.4L495.6 292.9L495.6 292.5L495.3 292.1L494.5 292.1L493.4 293.1ZM439.4 257.6L439.2 259.2L440.6 259.5L441.4 258.8L441.5 257.2ZM478.9 276.5L480 276.8L480.4 277.5L480 278.4L479 278.7L478.8 278.7L478.3 277.8ZM498.3 254.4L499.7 255.9L500.6 255.9L500.8 254.7L500.3 254L498.6 253.4ZM493.9 248.2L494.8 247.1L495 247.2L495.7 249.4L494.5 249.4ZM501.6 283.1L501.4 283.2L500.4 284.6L500.7 285.6L502.1 284.5L501.8 283.2ZM462.7 248.4L463.6 247.5L465.1 249L465.1 249.8L462.5 249.9ZM443.2 259.2L442.6 258.8L442.7 257.3L442.8 257.1L444.9 258.4L444.8 259.2ZM442.8 262.1L441.9 262.9L441.1 262.1L441.2 260.5L442 260L442.5 260.4ZM487.6 283.4L488.2 285L487.4 286.2L486.4 286.3L485.2 285.8L485.1 284.2L486.1 282.9L486.8 282.9ZM504.9 263.4L502.2 262.5L502.2 262.3L503.3 260.1L503.6 260.2L505.2 263.4ZM461 270.2L460.7 270L457.6 270.5L457.6 270.6L459 271.9L460.3 271.8L460.6 271.6ZM456.6 242.8L458.5 242.4L458.1 239.7L458 239.7L455.6 240.4L455.5 241.2ZM458.8 234.8L460.5 235.5L461.5 235.2L461.6 233.7L459.3 234Z"/>
<path fill="#e8d4ee" d="M502.3 293L502.1 293.7L502.1 293.8L504.3 294.9L504.8 292.8L503.9 292.4ZM469 251.8L467.8 252.3L467.8 252.5L470.7 253.7L471.3 253.6L471.2 252.7L470.7 252.2ZM465.2 289.2L464 290.6L463 290.4L463.5 288.7L464.5 288.4L465.2 289.1ZM500.8 262.5L500.2 263L498.5 262.8L498.2 262.3L499.1 260.8L499.6 260.8L500.8 262.3ZM498.7 252.3L498.5 251.8L498.5 251.2L501.7 250.9L501.9 251.2L500.4 253ZM435.3 253.6L434.5 253.6L438.9 256.4L441 256.1L441.2 255.9L441.3 255.5L441.2 255.5ZM449 277.3L450.2 276L450 274.3L449 274.4L448.4 276.2L449 277.3ZM459.9 272.9L458.9 275.7L457.4 274.7L457.2 274.3L458.7 272.9ZM481.9 281.9L482.5 283L484.1 283.4L485 282.1L483.7 280.6L482.5 281.1ZM492.5 248.9L493.2 248.8L493.8 250L492.9 250.7L492.2 250.1ZM502.6 283.1L502.9 284.5L503.4 284.9L505 284L504.4 282.9ZM488.6 293L487.8 293.9L487.1 294L486.2 292.4L486.7 291.5L486.9 291.6L488.6 293ZM490.1 271.4L487.8 269.6L489.1 268.7L490 268.9L490.3 271.2ZM449 283.9L450.5 284.6L451.7 283.5L451.6 283L450.7 282.5L449.8 282.9ZM472.5 232.9L470.9 232.9L470.9 230.6L473.4 220.3L474.1 231ZM469.9 268.3L470 268.7L472 267.5L472.1 267.3L470.7 265.9ZM455.3 291.9L454.4 293.1L454.6 294.2L457.5 294.6L457.6 294.4L455.6 291.9ZM443.3 246.6L442.8 247.7L442.8 248.1L444 248.8L445.3 248.3L445.6 247.6L445.5 247.4ZM485.4 292.8L486.2 294.4L485.1 295.3L484.1 294.2L484 293.3ZM448.2 240.2L447.5 241.9L448 242.5L449.7 242.7L450.3 242.3L449.5 240.4ZM447.9 263.1L446.3 263.6L446.2 264.6L446.7 265.1L447.6 265L448.1 263.8ZM444.7 245L443.3 245.4L443.3 245.9L445.6 246.7L445.4 245.4ZM467.2 260.6L468.2 260.2L467.5 259L466.1 259L466.2 259.8ZM485.8 275.5L487 274.2L487 273.5L485.4 272.5L484.2 273.4ZM453 285.2L452.1 286.5L451.5 286.8L451.1 285.4L452.2 284.3ZM488 260L488.6 261.4L488.3 262L487.4 262.1L486 260.8ZM465 267L464.6 267.6L463.2 267.7L462.7 265.1L462.9 264.8L463.2 264.6L463.7 264.6L465 265.3ZM491.5 278.1L490 276.8L490.1 276.7L491 276L493 277.2L493.1 277.4L492.5 278.2ZM448.5 272.3L448.1 270.7L448.3 270.1L448.9 269.8L449.6 270.2L450.3 271.9L450 272.8L450 272.8L448.9 272.8L448.9 272.8ZM483.9 263.9L483.1 261.6L482.5 261.6L482.1 261.8L481 264.6L483.4 265.1ZM492.7 292.5L493.8 291.5L493.1 290.6L493 290.6L491.7 291.8ZM486 265L484.8 265L484.3 266.1L484.6 267.2L484.8 267.4L487.1 265.7ZM491.1 270.9L490.8 268.9L491.8 268.3L493 270.3ZM501.7 240.1L500.3 240.3L499.6 238.7L499.8 238.4L501.4 238.6L501.8 239.3ZM471.5 260.7L473.2 258.9L474.8 259.6L474.8 260.2L474.6 260.7L471.6 261.3ZM493 259.2L494.2 259.9L494.7 258.8L493.9 257.6L493.2 257.7ZM475.8 278.1L477.4 278.1L477.8 279L477.2 279.6L475.6 279.7L475.4 278.5ZM498.2 280.2L498.1 281.9L496.9 282.9L496.6 283L495.6 282.5L497 280.2ZM442.5 271.2L442.2 271L439.3 272.7L439.1 273L439.6 273.3L441.9 273.4ZM497.1 254.1L496.4 254.8L495.6 254.8L495.1 253.2L497.3 252.5L497.4 253ZM495.3 245.8L497.1 245.1L497.1 243.6L496.1 243L494.3 244.2L494 244.7L495.1 245.8ZM496.9 262.9L495.2 262.6L494.3 263.6L496.9 265.8L497.2 263.4ZM485.5 246.5L484.5 245.6L483.4 245.7L483.2 247.1L484.5 247.8L485.4 246.9ZM490.7 233.8L493.2 234.7L493.6 235.6L491.7 236.8L491.7 236.8ZM490.1 243.1L488.8 244.3L488.1 244L487.9 243.6L488.2 241.9L488.8 241.4L489.9 242.5ZM445.7 273.9L445.8 272.9L447.6 273L448 273.4L446.2 274.3ZM439.9 286.2L439.5 284.1L439 283.8L437.6 285.8L439.8 286.3ZM475.2 282.2L476.9 283.3L477.5 283.2L477.7 282.9L477.3 280.8L475.7 280.9ZM458.9 264.4L457.9 265L456.6 264.1L456.7 262.2L456.9 262L458.4 262.5ZM482.6 277.1L481.2 277L480.8 276.3L482.5 274.3ZM443.6 237.1L441.4 235.5L442 234.4L442.5 234.4L444 235.2L444.2 235.6L444.1 236.7ZM472.4 274L471.3 273.5L471.2 273.5L471.8 271.6L472.6 271.7L473 272.8ZM443.6 240.3L443.4 242.2L444.9 242.4L445.9 241.9ZM491.4 274L491.3 275.3L493.2 276.3L493.5 274.6ZM437.9 245.9L440.2 248.7L441.2 247.8L441.2 247.5L438.4 245.8ZM443.2 256.3L445.5 257.8L446.3 257.1L446.2 255.6L443.3 256Z"/>
<g fill="#7d3a92"><circle cx="503.2" cy="258.3" r="0.5"/><circle cx="468.9" cy="239.5" r="0.5"/><circle cx="445.9" cy="263.6" r="0.4"/><circle cx="478.9" cy="266.6" r="0.6"/><circle cx="492.3" cy="271.2" r="0.6"/><circle cx="465.6" cy="282.6" r="0.5"/><circle cx="493" cy="286.2" r="0.6"/><circle cx="497.6" cy="236" r="0.6"/><circle cx="471.2" cy="264.7" r="0.4"/><circle cx="460.6" cy="267.7" r="0.5"/><circle cx="440.8" cy="255.1" r="0.4"/><circle cx="503.3" cy="240.5" r="0.6"/><circle cx="488.8" cy="293.5" r="0.6"/><circle cx="486.5" cy="271.3" r="0.6"/><circle cx="493.8" cy="264.7" r="0.6"/><circle cx="476.8" cy="259.2" r="0.4"/><circle cx="479.9" cy="267.6" r="0.4"/><circle cx="470.3" cy="259.6" r="0.6"/><circle cx="448.1" cy="239.4" r="0.5"/><circle cx="475" cy="237" r="0.5"/><circle cx="448.5" cy="246.5" r="0.6"/><circle cx="441.5" cy="247.3" r="0.5"/><circle cx="492.5" cy="280.9" r="0.5"/><circle cx="472.7" cy="282.5" r="0.5"/><circle cx="490.1" cy="260.9" r="0.4"/><circle cx="498.8" cy="247.6" r="0.5"/><circle cx="483.2" cy="264.1" r="0.5"/><circle cx="444.1" cy="260.8" r="0.4"/><circle cx="474.6" cy="261.2" r="0.4"/><circle cx="463.1" cy="261.2" r="0.4"/><circle cx="500.7" cy="252.6" r="0.4"/><circle cx="442.6" cy="239" r="0.5"/><circle cx="442.1" cy="261.5" r="0.6"/><circle cx="456.7" cy="276.3" r="0.5"/><circle cx="451.4" cy="260.7" r="0.4"/><circle cx="468.1" cy="241.2" r="0.4"/><circle cx="469.4" cy="257" r="0.4"/><circle cx="450.2" cy="251.7" r="0.6"/><circle cx="501.5" cy="253.2" r="0.4"/><circle cx="471" cy="287" r="0.4"/><circle cx="503.2" cy="259.7" r="0.4"/><circle cx="445.2" cy="251.8" r="0.5"/><circle cx="458.7" cy="257.6" r="0.6"/><circle cx="471.9" cy="240" r="0.4"/><circle cx="494.9" cy="245.3" r="0.5"/><circle cx="484" cy="292.2" r="0.5"/><circle cx="487.8" cy="271.2" r="0.6"/><circle cx="470.3" cy="247.9" r="0.5"/><circle cx="479.9" cy="244.2" r="0.5"/><circle cx="469.4" cy="257.4" r="0.5"/></g>
</g>
<clipPath id="h3"><rect x="373" y="300.9" width="63.4" height="60.1"/></clipPath>
<g clip-path="url(#h3)">
<rect x="373" y="300.9" width="63.4" height="60.1" fill="#b597cc"/>
<path fill="#fefcfe" d="M413.3 303.5L411.5 301.3L415.1 298.4L415.2 302.5ZM430.3 328.1L431.6 330.7L429.2 332.5L427.6 332.4L427 331L427.6 328.4ZM413.3 304.9L413 308.5L415.4 308.2L416 306.5ZM414.2 358.5L416 355.7L414.9 354.3L413.3 353.8L412.5 354.1L411.6 355.8L413.2 358.1ZM407.7 346.4L407.9 347.9L405.4 349.4L403.9 347.6L406.1 346ZM415.6 302.3L415.5 298.2L416.4 296.2L418.4 301.5L416.8 302.6ZM424.8 338.9L425 337.9L423.4 336L422.1 337.3L423.2 340.4L423.3 340.5ZM399.7 359.5L400 362.4L403.8 361.2L403.8 361L401 359ZM379.4 313.9L376.9 313.7L376.3 310.7L377.7 308.5L379 308.6L380.9 312L380.3 313.2ZM415.6 318.8L413.2 318.5L412.5 317.2L413.4 314.6L414.9 314L415.8 314.1L415.9 318.5ZM407 321.1L402.7 322.9L402.7 322.9L405.2 324.9L407 323.3ZM415.5 360L418.4 358.6L419.1 361.8L415.6 361.2ZM419.3 308.2L417.6 309.8L415.8 308.3L416.4 306.7L417.2 306.4ZM431.9 336L434.4 339.8L434.7 339.8L434.8 339.7L435.9 334.3L434.9 333.7ZM419.7 308.9L418 310.4L417.4 312.9L418.5 313.2L420.5 312.8L421.6 310.1L419.8 308.8ZM427 336.1L428.9 337.3L430.7 335.5L429.2 332.9L427.6 332.8L427.2 333.2ZM372.6 352.9L375.8 352.5L376.6 350.2L372.6 349.7L371.7 351.1ZM396.7 306L397.3 308L399.5 308.7L400.3 307.8L400.5 306.7L398.5 304.8ZM429.9 301.3L433.8 300.8L433.8 300.8L433 294.6L429.8 299.1L429.8 301.2ZM419.8 320.7L420.5 320.7L423.6 318.3L423.6 318.3L423.4 318L420.4 317.5L418.9 319ZM384.9 323.2L382.8 322.6L380 324.2L379.5 326.6L381.3 327.3L385.3 324.5ZM368.5 357.7L372.1 359.6L373.3 359.8L374.1 356.5L372.4 353.8ZM392.4 361L391.9 360.5L389.9 362.4L391.4 364.6L392.8 363.3ZM434.4 320L431.4 318.6L430.7 320.6L432.8 324.7L434.8 325ZM401.6 334.8L403.5 334.3L405.1 332L402.9 329.6L402.6 329.5L400.6 331.1L400.5 334ZM412.4 337.7L414.8 334.8L416.6 335.3L417.8 336.5L417.6 338.2L417.1 338.5L413.8 338.7ZM411.4 338L409.4 336.8L407.2 338.3L408.5 341.2L410.5 340.4ZM435.2 333L436.1 333.6L437 333.4L438.1 330.4L437.5 329.6L435.7 328.9L433.9 330.8ZM400.8 348.3L402.2 347.2L401.3 343.7L396.5 344.4L396.5 347.4ZM384.5 318.5L383.7 317.2L384.2 316L384.7 315.7L388.4 317L386.5 319.5ZM396.6 335.7L398 338.4L398.1 338.4L400.6 336.6L400.9 335.5L399.9 334.7L397.7 334.7ZM412.9 325.2L411.3 326.5L410.7 327.7L410.7 327.8L413.2 331.1L413.3 331.1L417.5 328.1L416.8 326.1L416.1 325.4L415 324.9L413.7 324.9ZM415.4 324L415.9 319.3L416.2 319L418.3 319.3L419.2 321L416.6 324.6ZM417.3 345L420.4 345.7L420.8 349.4L419.5 350.8L419.4 350.8L416 348.1L416.1 346.5ZM386.4 326.2L384.7 330.1L385.2 330.6L385.6 330.7L388.1 330L388.4 328.4ZM411.8 319.8L412.7 318.7L412.1 317.5L409.7 317.8L408.3 319.3ZM395.1 320.5L397 319.3L397.8 317.2L396.5 315.3L395.2 314.5L392.9 317.3L394.2 319.9ZM410.1 349.3L408.3 347.8L408.1 346.4L409.4 345.2L410.3 345.4L411.1 348.6ZM391.9 310.5L388.9 310.3L388.9 310.3L389.6 313.4L393.3 312.9ZM428.2 314.6L424.6 313.4L425.1 311.2L428.4 312.4ZM391.4 320.8L393.6 320L392.5 317.6L390.5 317.8L391.1 320.6ZM426.3 325.7L427.6 327.9L430.2 327.7L430.5 326.2L427.7 324.4ZM432.5 308.2L430.4 305.8L428 307.1L427.7 307.9L430 310.5L430.9 310.5ZM392.2 343.3L395.4 343.6L395.4 341.3L393 339.5L391 341L391.3 342.6ZM428.6 355.8L428.6 355.9L425.8 355.7L425 354.5L425 353.2L426.6 351.5L426.9 351.6L428.5 352.7ZM380.5 317.4L379.8 314.4L380.6 313.7L383.7 315.8L383.2 317ZM427.8 344L425.5 344.1L424.7 343.6L423.8 341.1L425.3 339.6L427.4 340L428.6 343.5ZM427.9 314.9L428.8 317L424.2 317.8L424 317.5L423.8 314.7L424.7 313.9ZM392.4 324.1L395 323.4L396 324.7L396.3 326.9L395.9 327.4L393 327.4L393 327.3ZM396.7 326.9L400.5 326.6L401 324.2L398.6 323.4L396.5 324.6ZM433.2 308.1L434.8 305.8L436.3 306.5L436.4 309.2L435.7 309.3ZM435.8 309.7L436.4 309.7L438.1 310.5L436.6 314.2L433.7 314.4L433.3 313ZM420 351.8L420 354.5L421.9 355.7L424.5 354.5L424.5 353.1ZM390.7 320.8L390.1 317.6L388.9 317.1L388.8 317.2L386.9 319.8L386.9 320.3L388.8 321.4ZM383.1 300.3L383.6 302.7L387 302.9L386.7 299.3L383.2 300.1ZM409.7 317.4L410.2 315.1L411.4 314.3L413 314.5L412.1 317ZM425.2 300.6L426.4 298.1L429.1 299.1L429.1 301.4L426.6 302ZM434.2 355.6L435.7 355.6L437.7 358.1L437.6 358.7L434.9 360.2L433.4 359.5L433.2 356.6ZM398.9 363.2L399.5 362.5L399.2 359.6L397.1 359.1L396.4 360.8L396.7 362.1ZM401.1 351.7L404.5 352.3L405.4 350.8L405.2 349.7L403.5 347.8L402.6 347.5L401.2 348.7ZM394.9 313.3L393.8 312.8L392.5 310.4L393.5 308.5L395.4 309.7L395.6 311.9ZM408.4 351.7L405.7 351.3L404.9 352.6L405.4 354.3L407.4 354.4ZM383.6 350.7L380.1 352.8L379.3 350.9L382.8 348.5L383 348.6L383.8 349.3ZM434.2 354.7L434.1 350.1L435.7 349.5L436.3 349.5L437.4 352.8L435.7 354.7L434.2 354.7ZM370.9 317L368.4 315.2L370.9 313.3L372 313.3L374.4 315.1L373.2 316.5ZM389.7 334.9L388.3 335.6L385.9 331.1L388.4 330.4L389.3 331ZM396.7 330.1L400.1 330.7L402.3 328.9L400.6 327L396.6 327.2L396.3 327.6ZM372.7 303.2L374.8 306.1L371.9 307.6L371.6 307.6L371 306ZM373.3 330L373.2 332.3L374.6 332.7L377.2 330.4L377.2 329.9ZM412.4 324.5L408 320L408 319.6L408 319.6L411.8 320.2L413.3 324.2ZM382.4 320.4L380 318.9L380.6 317.9L383.3 317.5L384 318.7ZM380.1 335.1L379.6 333.7L378.7 333L376.1 334.6L376.1 335L377.9 336.3L380.1 335.1ZM425.9 325.3L427.3 324L427.6 323L424.5 320.8L423.8 322.2L425.2 325.3ZM402.2 322.8L401.7 321.2L398.9 321.2L398.9 323.1L401.2 323.9L402.2 322.9ZM401.9 343.6L402.7 346.9L403.6 347.1L405.6 345.6L405.2 343.2L404.8 343L401.9 343.6ZM408.1 342.2L405.7 343L406.2 345.7L407.9 346.1L409.3 344.9ZM377 350.3L377.3 350.2L378.8 351.1L379.7 353.2L379.5 354.9L379.1 355.2L377.7 355L376.2 352.7ZM376.8 339.7L374.9 339.6L373.4 338.4L373.1 337.7L375.6 335.3L377.7 336.7L376.8 339.6ZM373.1 302.8L375.1 305.6L375.9 305.7L377 303.5L374.7 300.9L373.5 301.4L373 302.3ZM419.7 351.8L419.7 354.4L418.3 356L416.4 355.5L415.3 354.1L419.4 351.3L419.5 351.3ZM436.5 334.5L435.5 339.4L446.2 338.3L437.4 334.3ZM422.3 329.2L426.6 331.1L427.3 332.5L426.9 332.9L423.5 333.8L421.8 332.7L420.7 329.8ZM374.7 320.5L373.5 317.1L371 317.6L371.4 319.5ZM411.3 355.7L409.7 356.1L407.8 354.7L409 351.6L409.8 351.3L412.2 353.9ZM383.7 340.4L385.6 337.1L387.8 336.7L388.3 339.9L384.8 341.7L383.9 341.1ZM424.3 325.9L425 325.5L423.5 322.2L421.9 322.8L421.5 324ZM421.5 305.3L422.2 305.1L423 305.3L424.7 309.1L424.5 309.5L422.1 309.6L420.1 308.2ZM401.8 343L404.7 342.4L404.4 339.5L402.4 339.7L401.6 341.1ZM375.1 346.7L377.7 346.9L377 349.8L376.7 349.9L372.9 349.3L372.9 348.7ZM383.2 340L381.7 338.8L380.8 335.4L380.8 335.4L383.6 335.1L385.1 336.6ZM401.6 335.5L401.2 336.7L402.4 339.2L404.5 339L405.5 338L403.7 335ZM400.3 353.1L401.2 352.3L404.2 352.8L404.7 354.6L404.2 355.4L401.6 355.8L400.9 355.1ZM428.6 314.6L429.6 316.8L431.1 317.5L433.1 314.6L432.8 313.2L431 311.1L430 311.1L428.8 312.5ZM379.4 344.2L383.4 341.8L384.3 342.5L384.3 342.6L383 347.8L382.9 347.8L379.4 345.7ZM432.7 356.6L432.8 359.8L430.3 361.4L429.9 361.4L428.6 359.1L429 356.4L429.1 356.4ZM372.7 353.3L372.7 353.6L374.4 356.1L377.1 355L375.8 352.9ZM408.1 302.7L404.9 302.6L404.7 304.7L405.9 306.6L407.6 306.9L408.7 306.5L409.2 305.6ZM385 342.2L385 342.3L387.6 344.3L390.6 342.7L390.2 341L388.7 340.2ZM377.4 355.6L378.8 355.8L378.7 356.2L376 361.2L375.3 361.4L373.9 359.7L374.7 356.7ZM422.6 349L425.2 345.3L426.2 350.6ZM415 353.9L419.1 351.1L415.7 348.3L415 348.8L413.5 353.4ZM385.1 348.9L387.8 346.5L389.3 347.4L388 350.1ZM466.2 341.5L440.9 345.7L438 343.3L437 340.3L437.2 340.2L447.5 339.2L464.1 341.1ZM407.4 319.8L406.9 320.8L402.8 322.5L402.3 320.9L402.8 318.6L406 318.3L407.4 319.5ZM417.7 344.5L420.6 345L423.8 343.7L422.9 341.2L422.8 341.2L420 341.1L417.7 344.4ZM382.9 355.9L379.9 355.4L379.6 355.7L379.5 356.1L381.6 360.8L382 360.9L384.6 359.1L383.7 356.6ZM395.6 347.9L393.8 349.4L391.1 347.2L392.4 344L395.8 344.3L395.9 344.4L395.9 347.4ZM392.6 306.3L391.9 306L389 308.1L389.1 309.8L392 310L393 308ZM373.8 343.8L374.7 346.3L372.6 348.2L371.2 345.5L372 344.2L373.7 343.8ZM423.4 321.9L421.9 322.5L420.6 321L423.8 318.5L424.1 320.4ZM388.6 321.8L386.8 320.8L385.4 323.1L385.8 324.3L386.3 324.8L389 324.2ZM426.6 350.6L426.8 350.6L428.8 348.4L428 344.9L425.6 345.1L425.5 345.4L426.5 350.5ZM406.2 332.2L405.7 332.2L404 334.8L405.8 337.8L406.7 337.9L409.2 336.3L408.9 334.3ZM384.4 315.1L385 313.2L384.6 311.7L384.2 311.4L381.4 312.2L380.9 313.3L384 315.4ZM428.3 359L428.7 356.4L425.7 356.2L425.1 357.7L425.9 359.2ZM406.2 331.7L405.7 331.7L403.3 329.1L405.4 326.6L409.9 327.9L409.9 328ZM371.8 329.9L371.7 332L369 333.9L346.8 330.5L367 326.7L370.8 328.5ZM409.6 360.7L410.6 361.1L411.8 363.1L410.4 368.5L407.1 363.2ZM432.7 307.9L430.7 305.6L430.8 305.3L434 304.2L434.5 305.6L432.9 307.9ZM404.5 361L405.5 359.3L408 358.9L408.9 360.6L406.7 362.7L404.8 361.8L404.5 361.2ZM394 357.2L392.2 358.4L390.3 356.7L391.9 354.4ZM435.9 348.7L434.3 345.8L436 344L439.1 346.6L436.4 348.8ZM428 362.8L429.4 361.5L428.2 359.5L426 359.7L425.2 361.2L425.2 362.2ZM379.3 326.9L378.6 327.2L377.6 329.8L377.6 330.3L378.8 332.5L379.9 333.2L383 329.9L381.1 327.7ZM420.3 330L421.3 332.8L419.1 335.8L418.2 336.1L417 334.9L419.5 329.8ZM396.2 343.8L396.3 343.9L401.3 343.3L401.3 343.3L401.1 341.2L398 339.2L397.9 339.2L396.2 341.2ZM423.5 305.4L425.1 308.9L427.3 307.7L427.5 307L425.9 304.6ZM419.5 301.2L421.6 299.5L418 288.6L416.7 295.8L418.7 301.1ZM413.7 324L415 323.9L415.5 319.4L413.2 319.2L412.3 320.3ZM424.6 326.3L425.2 325.9L425.9 325.9L427.1 328L426.5 330.5L422.7 328.7ZM388.6 316.8L388.7 316.8L388.9 314.5L385.5 313.5L384.9 315.4ZM392.8 305.8L392.1 305.5L390.8 303.3L391.9 301L393.1 300.1L395.2 300.3L395.4 301.3L394.1 305.2ZM382.5 299.5L379.8 300L377.6 296.8L378.9 286.2L382.5 299.4ZM373.7 343.2L374.6 340L373.1 338.9L370.7 341.2L371.9 343.6ZM433.5 293.2L438.3 271.7L437.6 299.5L434.5 299.9ZM389 339.7L390.4 340.5L392.7 338.7L392.6 335.8L390 335.5L388.5 336.2L388.4 336.3ZM434.8 303L434.6 301.2L434.6 301.2L437.8 300.8L442.2 303.6L439.2 304.2ZM388.1 353.8L388.9 356.6L390.2 356.4L391.6 354.2L391.6 352.5L389.3 352.5ZM375.4 321.2L377.9 320.5L379.6 324.1L379.1 326.5L378.5 326.8L376.7 326.1L374.5 323.2ZM421.3 349.2L420.9 345.5L424.3 344.1L425.1 344.7L425.1 345L422.4 348.8ZM395.4 314.1L396.7 314.9L400 312.8L400.3 311.8L399.4 310.5L396 312.1L395.2 313.7ZM419.2 336.4L418.3 336.7L418.1 338.3L419.9 340.4L422.7 340.5L421.5 337.2ZM433.8 349.5L435.6 348.9L434 346L431.9 345.6L432.3 349.1L432.5 349.3ZM392 323.5L391.6 321.3L393.9 320.5L394.8 321L394.7 322.9L392.3 323.6ZM379.1 343.8L383.1 341.4L382.9 340.6L381.3 339.3L377.3 339.9L377.3 340L379 343.8ZM386 360.1L387.1 362.2L386 368.6L382.7 361.6L385.1 359.9ZM412.3 353.5L410.1 351.1L410.4 349.7L411.4 349L414.6 348.9L413.1 353.2ZM382.7 300.5L383.2 302.8L381.9 304.4L379.6 302.8L380 301ZM373.6 329.5L377.1 329.5L378 327.3L376.4 326.7L372.6 328.1ZM384 351.6L383.2 355.5L384.1 356.1L386.4 353.9ZM412.1 338L413.5 338.9L414.3 341.3L412.2 342.1L410.9 340.7L411.9 338ZM424.5 354.9L425.3 356.1L424.7 357.5L422.5 357.9L422.2 356ZM398.8 304.5L398.9 304.1L400.4 302.5L404.1 302.2L404.2 302.3L404 304.5L400.8 306.3ZM428.3 312.1L429.7 310.6L427.5 308.1L425.1 309.3L424.8 309.7L425.2 311ZM393.6 331.7L392 330.3L393.1 327.9L395.8 327.9L396.2 330.1L396.1 330.2ZM374.4 333.1L375.4 334.6L375.4 335L373 337.3L370.1 334.8L373.1 332.7ZM423.9 326.2L421.3 324.4L417.7 326.1L418.5 328.2L419.6 329.1L420.4 329.3L421.9 328.8ZM385 322.7L383.2 322.1L382.9 320.8L384.4 319.1L386.3 320L386.4 320.5ZM415 360.1L414.2 359L413.2 358.7L411.2 360.8L412.3 362.6L415 361.2L415 361.1ZM407.3 323.5L405.5 325.2L405.5 326.3L410 327.6L410.6 326.4ZM408.1 341.6L406.7 338.4L405.8 338.3L404.9 339.3L405.2 342.4L405.6 342.6L408 341.9ZM389.9 326.8L388.6 328L386.6 325.8L386.5 325.1L389.2 324.5L389.4 324.6ZM398.4 303.9L395.7 301.2L395.5 300.2L397.5 298.4L400 302.2ZM379 346.2L382.4 348.3L378.9 350.6L377.6 349.7L378.2 346.9ZM433.8 354.7L433.7 349.9L432.4 349.7L430.8 351.9ZM384.1 351.2L386.7 353.5L387.6 353.5L388.9 352.2L387.8 350.6L384.7 349.3L384.2 349.4L384 350.8ZM414.5 341.6L415.5 342L417 344.6L417 344.7L415.8 346.2L412.4 344.4L412.4 342.4ZM420.3 351.5L424.4 352.7L426 351.1L425.9 351L422.4 349.4L421.4 349.8L420.1 351.1ZM393.3 332.1L391.6 330.6L389.7 331L390.1 335.1L392.7 335.4L392.9 335.3ZM396.4 356.8L396.6 354.1L399.2 353.2L399.6 353.2L400.1 355.2L396.6 357ZM416.7 313L415.8 313.4L415 313.3L412.8 309.5L413.2 309L415.5 308.8L417.3 310.4ZM435.8 362.9L440 363.8L437.9 359.3L435.2 360.9ZM391.7 305.7L390.5 303.5L387.5 303.4L386.9 306.4L388.6 307.8ZM375.4 314.9L376.7 313.8L376 310.8L374.1 310.8L372.3 312.9L375.1 314.9ZM429.2 343.5L430.1 343.3L432.3 340.9L429.1 338.7L427.9 339.7ZM409.9 301L409.3 299L404.6 298.7L404.9 301.8L404.9 301.9L408.1 302ZM417.2 344.4L419.7 340.7L417.8 338.5L417.3 338.8L415.7 341.8ZM395.9 357.4L394.2 357.4L392.4 358.6L392.1 360L392.1 360.2L392.6 360.7L396 360.5L396.6 358.7L396.1 357.6ZM396.1 362.3L395.9 360.9L392.8 361.1L393.2 363.2L394.9 363.5ZM381.2 338.9L377.3 339.4L378 336.8L380.3 335.6ZM433.8 355.1L430.6 352.2L429 352.6L429.2 356L432.7 356.3L433.8 355.1ZM407.5 355.1L405.4 354.9L404.9 355.8L405.6 358.6L408.3 358.2L409.2 356.3ZM401.2 340.8L402.1 339.3L401 337L398.3 339ZM430.5 351.8L432.1 349.6L431.9 349.4L429.3 348.7L427.3 351.1L428.9 352.2ZM401.1 358.7L401.6 356.3L404.4 355.9L405.2 358.9L404 360.8ZM387.2 359L391.7 359.9L392 358.5L390.2 356.9L388.8 357ZM428.4 344.5L429.3 348.1L431.9 348.8L431.5 345.4L430.1 343.9L429.3 344.1ZM434.4 304L434.9 305.4L436.4 306.2L439 304.5L434.7 303.2ZM409.5 311.3L408.6 311.3L407.3 312.2L407.3 313.8L409.9 314.9L411.3 314ZM374.8 332.9L375.8 334.4L378.5 332.7L377.4 330.6ZM431.9 330.9L433.2 330.9L434.7 333.4L431.7 335.7L431 335.4L429.5 332.7ZM412.4 324.7L410.7 326.1L407.4 323.3L407.4 321.1L407.9 320.1ZM412.8 304.1L409.7 305.4L408.6 302.3L410.5 301.3L411 301.5L412.9 303.8ZM396.9 315.1L398.2 317L401 317L401.5 315.4L400.1 313.2ZM406.6 331.9L410.1 328.4L412.7 331.7L409.1 333.9Z"/>
<path fill="#f4ecf6" d="M385.6 336.2L384.1 334.7L385.2 331.3L385.6 331.4L387.9 335.8L387.9 335.8ZM395.8 335.9L397.3 338.7L395.8 340.5L393.3 338.6L393.2 336L393.3 335.9ZM389.2 313.6L388.8 314.1L385.6 313.1L385.2 311.6L388.5 310.5ZM419.9 354.9L421.6 356.1L422 358L421.7 358.4L418.9 358.1L418.7 356.3ZM399.1 352.7L395.8 348.4L393.9 350L393.5 351.1L396.2 353.7ZM434 303.8L430.8 305L429.9 301.8L434 301.3L434.3 303ZM412.8 358.3L410.7 360.6L409.7 360.2L408.8 358.5L409.8 356.5L411.3 356.1ZM388.5 350.4L389.8 347.7L390.6 347.8L393.2 349.9L392.9 350.9L391.7 351.9L389.5 351.9ZM415.7 361.5L415.6 361.6L418 369.5L420.2 363.1L420.2 363.1L419.3 362.2ZM431 327.8L432.1 330.1L433.3 330.1L435.1 328.2L434.7 325.9L434.7 325.8L432.9 325.5L431.3 326.4ZM404.8 310.6L404.7 309.9L405.8 307.4L407.4 307.7L408.2 310.9L407 311.7ZM418.9 329.8L416.6 334.5L415 334.1L413.8 331.8L417.9 329ZM434.2 340.4L434.5 340.4L435.5 343.5L434 345.3L432 344.9L430.7 343.5L432.7 341.2ZM386.7 354.2L384.3 356.5L385.2 359L386.2 359.3L386.9 358.9L388.5 356.9L387.7 354.1ZM377.2 297.7L375.3 300.5L377.6 303L378.9 302.5L379.3 300.8ZM416.9 324.9L417.6 325.6L421.2 323.9L421.5 322.8L420.2 321.3L419.5 321.2ZM372.4 307.9L374.2 310.1L375.9 310.2L377.2 308.2L376 306.7L375.2 306.5ZM403.4 311.8L400.7 311.9L400.4 312.9L401.8 315.2L403.3 314ZM368.3 325.3L367.6 325.8L371.8 327.9L376.3 326.2L374 323.3ZM434.9 320.3L435.3 324.9L435.3 325L439.2 323.1L437.3 320.2ZM423.2 334.2L421.6 333.1L419.5 336L421.7 336.7L423.1 335.4ZM388.3 310L388.2 308.4L386.6 307L384.2 307.7L384.7 310.8L385.1 311L388.3 310ZM390.4 347L391.7 343.9L390.7 343.2L387.9 344.7L388.2 346L389.7 347ZM382.7 322.3L382.3 320.8L379.6 319.1L378.2 320L378.1 320.2L379.9 323.9ZM411.9 309.2L409.1 307.1L407.9 307.5L408.7 310.9L409.6 310.9ZM414.6 341.3L415.5 341.7L417 338.9L413.8 339ZM417.2 304.5L416.6 303.3L415.5 303L413.6 304L413.5 304.3L413.6 304.6L416.1 306.1L416.8 305.8ZM412 337.4L414.3 334.7L413.1 332.2L412.9 332.2L409.4 334.4L409.8 336.2L411.8 337.5ZM406 315.2L403.7 314L403.8 311.8L404.5 311.2L406.9 312.3L407 313.8ZM395.7 356.7L394.1 356.7L392.3 354.2L392.2 352.7L393.4 351.7L395.8 354ZM383.4 307.7L383.9 310.8L381.2 311.6L379.6 308.5L382.1 306.8ZM412.9 304.6L409.9 305.9L409.4 306.8L412.2 308.9L412.3 308.9L412.7 308.4L413 304.9ZM396 311.9L395.8 309.4L397.1 308.3L399.4 309L399.4 310.3ZM416.2 318.4L416.1 314.1L417 313.6L418.2 314L420 317.1L418.4 318.7ZM415.7 346.4L415.6 348L414.9 348.5L411.5 348.6L410.6 345.3L412.3 344.6ZM374.7 321L371.4 320L368.9 324.7L374 322.9L374.8 321.1ZM420.9 305L417.8 304.7L417.4 306.1L419.7 308.1L419.8 308.1L421.2 305.2ZM429.2 337.7L431 335.9L431.6 336.2L434 339.8L432.5 340.6L429.2 338.3ZM390.1 327.1L388.9 328.3L388.7 329.9L389.6 330.5L391.4 330.2L392.6 327.7L392.5 327.7ZM393.8 332.3L393.4 335.2L395.9 335.2L397 334.2L396.2 330.9ZM412.3 309.5L409.8 311.3L411.5 313.9L413.2 314.1L414.7 313.5L412.4 309.5ZM401 306.7L404.2 304.9L405.4 306.9L404.2 309.5L400.8 307.8ZM420.9 313.4L418.5 313.9L420.3 317.1L423.4 317.6L423.3 314.6ZM436.5 314.7L438.8 316.7L437.4 319.5L434.6 319.6L431.5 318.1L431.4 317.9L433.6 314.9ZM426.7 302.4L429.3 301.7L429.5 301.9L430.4 305.1L430.3 305.4L427.9 306.7L426.1 304.1ZM387.3 359.3L391.4 360.1L391.4 360.4L389.6 362.1L387.7 361.8L386.7 359.7ZM396.4 306L394.2 305.6L393 306.1L393.4 307.9L395.6 309.2L396.9 308.1ZM371.4 308.2L370.5 308.9L370.9 312.5L372 312.5L373.7 310.5L371.8 308.2ZM407.8 319L409.2 317.5L409.6 315.4L407.3 314.5L406.4 315.8L406.4 317.9L407.8 319ZM427.6 339.2L428.6 338.3L428.6 337.7L426.9 336.6L425.7 337.8L425.5 338.8ZM396.7 330.6L396.7 330.5L399.9 331.1L399.8 334L397.5 334ZM438.7 310L454.8 306.2L442.7 304.1L439.7 304.7L437 306.4L437 309.1ZM405.8 315.7L405.8 317.9L402.6 318.1L401.6 317.1L402 315.6L403.4 314.4ZM374.1 343.4L378.6 344L376.8 340L375 340L374 343.4ZM435.4 363L434.7 360.8L433 360.1L430.5 361.7L433.4 365.5ZM394.8 314.3L392.5 317L390.3 317.2L389.2 316.8L389.3 314.5L389.7 313.9L393.6 313.4L394.7 313.9ZM383.8 351.3L383 355.5L379.8 355L380 353.2L383.6 351ZM396.5 305.6L394.6 305.2L395.8 301.7L398.2 304.1L398.1 304.5ZM423.8 334.2L426.8 333.4L426.5 336.1L425.3 337.3L423.6 335.4ZM423.1 300.8L422.4 304.7L423.2 304.9L425.7 304L426.2 302.3L424.9 301ZM395.1 323L395.2 320.8L397.1 319.7L398.5 321L398.5 323.1L396.3 324.4ZM402.5 323.5L404.8 325.3L404.9 326.3L403 328.6L402.6 328.5L401.1 326.7L401.6 324.5ZM424.6 360.8L422.3 358.9L422.2 358.7L422.5 358.3L424.7 357.9L425.4 359.3ZM386.1 325.3L385.4 324.8L381.6 327.5L383.4 329.6L384.4 329.9L386.2 325.9ZM374.2 343.7L378.8 344.2L378.8 344.2L378.8 345.8L378 346.6L375.2 346.4ZM424.3 313.3L423.5 314.1L421.2 313L422.3 310.1L424.5 310L424.8 311.2Z"/>
<path fill="#eadff0" d="M418.8 358.6L418.8 358.5L421.7 358.9L421.8 359L420.4 362.6L419.5 361.7ZM439.5 323.7L442.3 324.6L437.9 328.6L436.1 327.9L435.7 325.6ZM387.4 302.9L387.4 302.9L390.4 303L391.4 300.9L387.5 298.9L387.2 299.4ZM391.5 323.6L391.1 321.4L390.8 321.2L389.1 321.8L389.5 324L389.7 324.1ZM420.7 304.6L419.4 302L418.7 301.9L417.2 303.1L417.8 304.3ZM387 303.3L387 303.3L386.5 306.4L383.8 307.2L382.3 306.2L382.2 304.8L383.6 303.1ZM427.9 322.2L429.9 320.2L430.5 318.4L430.5 318.2L429.2 317.6L424.6 318.4L424.6 318.4L425 320.1ZM379.3 318.5L378.1 319.3L376 315.3L377.1 314.4L379.2 314.6L379.9 317.5ZM396.6 357.4L397.1 358.6L399.4 359.1L400.7 358.6L401.2 356.2L400.4 355.5ZM415.5 359.7L414.6 358.6L416.3 356L418.1 356.4L418.4 358.3L418.4 358.3ZM424.4 362.3L424.4 361.3L422.2 359.5L420.9 362.8L420.9 362.8L424.1 362.6ZM428 324L430.7 325.7L432.3 324.8L430.3 321.1L428.3 323ZM384.1 349L383.3 348.2L384.7 342.6L387.4 344.8L387.7 346.2L384.6 348.9ZM391.7 324L389.8 324.6L390.3 326.6L392.6 327.1L392 324.1ZM421.1 304.5L419.9 302L422 300.4L422.7 300.9L422.1 304.6L421.4 304.7ZM411.8 342.5L411.8 344.2L410.4 344.8L409.6 344.6L408.6 342.2L408.7 341.9L410.6 341.2ZM409.4 350.9L408.7 351.2L405.9 350.8L405.8 349.8L408.1 348.3L409.8 349.7ZM380.9 334.6L380.4 333.2L383.2 330.4L384.1 330.7L384.6 331.1L383.6 334.4ZM403.2 311.4L400.8 311.4L400 310.3L400 309.1L400.7 308.3L403.9 310L403.9 310.7ZM432.8 308.4L431.3 310.6L433.1 312.6L435.4 309.5L433 308.4ZM399.3 352.4L396.3 348.5L396.6 348.1L400.6 348.9L400.6 351.6L399.7 352.4ZM401.5 320.7L401.9 318.5L401 317.6L398.3 317.5L397.7 319.4L398.8 320.6ZM375.1 320.6L373.8 316.9L375.1 315.4L375.5 315.3L377.8 319.8L377.7 320L375.2 320.7ZM379.2 356.4L381.2 361.2L380.2 361.6L376.4 361.6ZM379.2 303.1L377.7 303.7L376.4 306.2L377.8 308L379 308.1L381.8 306.3L381.7 304.9ZM404.1 301.6L403.8 298.3L401.2 291.8L398 298.2L400.3 301.8Z"/>
<g fill="#9a62aa"><circle cx="397.4" cy="332.4" r="0.4"/><circle cx="427.4" cy="346.8" r="0.5"/><circle cx="378.3" cy="350.1" r="0.3"/><circle cx="408.8" cy="330.2" r="0.3"/><circle cx="399.7" cy="354.2" r="0.5"/><circle cx="392.9" cy="349.8" r="0.4"/><circle cx="429.9" cy="325" r="0.3"/><circle cx="434.6" cy="305.2" r="0.4"/><circle cx="421.9" cy="307.8" r="0.5"/><circle cx="427.5" cy="336.4" r="0.4"/><circle cx="421.1" cy="350.5" r="0.5"/><circle cx="412.7" cy="320.3" r="0.4"/><circle cx="435.9" cy="359.3" r="0.3"/><circle cx="385.4" cy="314.4" r="0.5"/><circle cx="385.7" cy="311.1" r="0.5"/><circle cx="383.7" cy="359.6" r="0.4"/><circle cx="430" cy="350.2" r="0.4"/><circle cx="422.8" cy="325.8" r="0.4"/><circle cx="375.9" cy="343.2" r="0.5"/><circle cx="392.2" cy="351" r="0.4"/><circle cx="401.2" cy="306.1" r="0.4"/><circle cx="429.1" cy="331" r="0.4"/><circle cx="388" cy="339.6" r="0.4"/><circle cx="429.2" cy="304.5" r="0.5"/><circle cx="412.4" cy="350.3" r="0.4"/><circle cx="377.4" cy="311.2" r="0.5"/><circle cx="374.6" cy="307.5" r="0.5"/><circle cx="428.7" cy="352.4" r="0.5"/><circle cx="408.2" cy="353.5" r="0.5"/><circle cx="408.3" cy="326.5" r="0.3"/><circle cx="378.7" cy="315.9" r="0.4"/><circle cx="380.7" cy="359.2" r="0.5"/><circle cx="419.9" cy="354.6" r="0.4"/><circle cx="429.2" cy="358.5" r="0.4"/><circle cx="381" cy="349" r="0.6"/></g>
</g>
<clipPath id="h4"><rect x="440" y="300.9" width="63.7" height="60.1"/></clipPath>
<g clip-path="url(#h4)">
<rect x="440" y="300.9" width="63.7" height="60.1" fill="#a774be"/>
<path fill="#fdfafd" d="M454.1 303.6L453.1 303L451.4 304.1L451.5 305.7L452.6 307.3L452.9 307.2ZM465.7 307.3L465.1 307L461.8 308L461.6 308.5L462.4 309.1L464.3 309.4L465.3 309.1L465.9 307.8ZM443.3 324.7L443.4 323.1L442.4 321.2L439.9 322.3L439.7 322.6L439.6 323.4L440.7 325.2ZM491.5 314.3L491.4 314.5L488.9 313.4L490.3 310.7L490.8 310.7L491.3 311.4ZM475.5 316.2L475.5 315.4L475.3 315.2L473.3 315.2L473 315.8L474 317ZM449 360.3L453 360.2L453.3 360L453.3 358.9L452.1 357.8L450.9 357.4L449.9 358.4ZM496 351.3L495.2 352.4L494.3 352.1L494.3 351L495.3 350.2L495.8 350.3ZM489.4 356.5L490.8 355.1L490.7 354.7L489 353.9L487 354.4L489.1 356.5ZM473 311.4L473.9 310.3L471.9 308.4L470.4 309.8L470.3 311.4L472.3 311.7ZM468.4 303.9L470.3 304.1L471.6 302.7L471.6 302.6L468.6 301.1L467.8 301.8L467.7 302.4ZM476.7 318L475.7 316.9L474.3 317.6L474.2 319.8L474.7 319.8L476.6 318.7ZM479.2 325.4L479.8 325.9L479.3 327.9L477.2 327.7L477.4 326.1ZM449.7 319L447.3 316.1L445.9 316.4L444.6 318.4L446.1 319ZM494.2 289.2L491.9 295.8L491.6 298.5L493.3 301.1L495.1 300.4ZM457.7 333.6L456 334.5L455.5 334.4L455.1 333.4L457.6 330.7L457.7 330.8L458.1 331.8L458 333.1ZM469.8 318.5L472.3 320.8L471.6 322.2L469.6 323.3L468.6 323.3L468.1 322.7L467.7 321.3ZM481.5 317.9L482.6 316.1L481.8 314.6L480.7 314.5L479.4 316.3L479.4 316.3L481.3 317.8ZM460.8 346.3L464.2 347L464.3 348L464 348.4L459.3 349.1ZM458.2 334.2L459 336.7L459.2 336.7L460.1 334.9L458.5 333.7ZM502.4 305.3L499.8 304.8L499.5 304.3L500.9 301.8L501.2 301.8L502.7 305ZM449.6 329.3L448 328.6L447.3 327.2L448.6 326.1L449.2 326.1L450.4 327.3ZM438.8 346L438.6 342.9L439 342.5L440.9 344.1L440 346.3ZM488.9 361.9L484.7 374.9L485.9 362L486.9 361.1ZM504.7 350.8L503.8 348.4L505 347L510.2 349.4ZM480.7 354.1L481.7 352L480 348.9L479.4 348.5L478 349.2L477.5 350.5L478.8 353.8L479.5 354.5ZM466.5 307L467.9 305.2L468.8 306.6L468.5 307.8L466.7 307.5ZM462.9 364.9L461.4 360.8L461.7 360.3L462.3 360.1L463.6 360.5L464.2 361.6ZM456 303.2L458.2 301.6L459.7 302.3L457.1 305.3ZM450.6 303L449.7 299.6L452.8 300.3L452.9 302.1L451.1 303.4ZM482.6 307.4L482.6 307.2L483.6 305.8L486.4 307.6L484.3 309.4ZM490.4 326.3L489.8 323.3L493.7 324.2L493.9 324.4L492 326.6ZM494.2 331.2L495.1 329.4L496.8 329L497.1 330.2L497 330.6L495.8 332.1ZM440.5 314.9L438.7 312.6L435.2 314.1L440.4 316.3ZM454.4 308.7L453.1 308.5L452.8 308.5L452.1 309.4L452 311.1L454.9 313.4L455.4 311.9ZM453.8 355.6L452.1 357.2L451 356.9L450.9 355.1L451.7 354.2ZM446.3 303L448.4 299.6L446.8 296.9L444.3 302.7L444.4 303L445.6 303.5ZM502 341.9L502.4 339.9L502.2 339.3L500.5 339.1L499 340.3L499.4 342.3L501.7 342.5ZM492.8 348.3L491.1 347.3L492.2 346.3L493.3 346.3L493.9 346.9L493.6 347.9ZM501.5 358L500.3 360.2L498.3 359.9L498 359.4L498.9 358.3L501.3 357.9ZM462.3 341.1L459.8 342.4L458.9 341.4L461.2 339.2L462 339.3L462.7 340.2ZM483.9 344.6L480.8 345.8L482 341.7L483.5 341.6L484.9 343.6ZM482.9 302.3L481.6 301L481.6 301L483.3 297.9L483.7 298.4L484.3 300.6ZM479.5 335.2L481.5 333.7L482.3 333.9L483.2 336L482.9 336.3L481 337ZM490.2 359L489.4 357.4L489.1 357.5L487.9 358.4L487.4 359.7L489.5 360.5L489.9 360.4ZM493 349L492.6 350.1L493.9 350.6L494.9 349.8L493.9 348.5ZM500.6 312.7L496.4 312.4L496.3 311.8L496.4 310.5L499.9 310.2L500.5 311.2L500.7 312.6ZM483 319.2L483.4 321.7L484.5 322.4L485.9 322L486.4 321.6L486.5 319.3L486.4 319.1L486.2 319.1ZM501.1 349L501 349.2L499.5 350.8L498 348.9L498.2 347.9L500.9 348.7ZM469.1 330.5L471.1 332.2L468.8 335.6L467.6 334.5L467.5 333.8L468.6 330.5ZM479.3 328.8L479.2 328.7L477.1 328.5L476 329.4L476 330.3L477.2 331.5L479.8 330.7L479.9 330.3ZM447.1 321.9L446.7 322.7L444.2 322.6L443.2 320.8L443.7 319.4L444.3 319.1L445.7 319.7ZM496.4 302.5L495.4 301.9L493.7 302.5L493.7 302.5L494.4 305L495.5 305.3L496.3 303.9ZM444.3 339.7L443 338.2L443.2 338L445.2 337.4L445.6 337.7L445.5 339.6ZM466.3 356.3L466.8 353.2L468.9 352.8L468.5 354.9ZM489.3 304L488.7 303L488.7 302.9L491.1 299.6L492.7 302.2L492.7 302.3ZM456.4 354L458.6 353.8L458.3 350.3L458.1 350.1L457.4 350L456 352.1ZM449.4 357.7L450.3 356.8L450.2 355.2L447.7 354.3L447.4 356ZM475 359.5L473.5 359.5L472.4 357.7L472.4 357.5L473.2 355.9L474.1 356.1L476.2 358.3ZM471.9 343.6L469.2 343.8L470.4 347.4L473.4 345.9L472.8 344ZM455.4 355.3L454.4 355.3L452.2 353.9L452.5 352.9L455.4 352.6L455.8 354.6L455.7 354.9ZM477.5 305.3L477.6 305.5L478.9 305.5L482.3 303.5L482.2 303.2L480.9 301.9L478.1 302.9ZM504.3 354.5L504.5 354.5L504.2 351.7L503 351.9L501.7 353.4ZM491.7 351L492.3 350.6L493.7 351.1L493.7 352.2L491.7 353.2L491.5 351.5ZM476.9 361.5L478.4 359.9L478 358.4L476.8 358.7L475.7 359.8ZM490.5 367.1L487.8 427.1L486.2 444.6L483.9 410.8L483.3 396.3L483.8 386.3L484.6 380.7L489.1 366.7L489.5 366.5ZM443.6 342.8L443.5 342.4L444.3 340.5L445.6 340.4L446.1 340.9L445.4 343.1L444.1 343.1ZM458.7 315L459.6 314.2L458.9 311.6L456.3 312.8L455.8 314.4L455.9 315.3L457.3 315.4ZM495.1 314.1L496.3 316.7L494.5 318.6L492 315.6L492 315.2L492.1 315.1ZM477.5 318L479.1 316.8L480.8 318.2L478.8 319.8L478.8 319.8L477.4 318.7ZM441.4 315.2L443 313.4L444.3 313.7L445.1 316L443.8 318L443.2 318.3L441.3 316.6L441.3 316.5ZM449.2 313.8L447 311.4L446.4 311.6L445.1 313.2L445.9 315.6L447.4 315.4L449.2 314ZM457.2 359.6L459.9 360.7L457.6 362.7L456.1 361.5L456 361.2ZM447 349.9L445.8 351.1L445.6 351.6L445.7 351.7L446.9 352.4L449.8 350.5L449.9 350.1ZM504.9 317.4L509.7 315.8L505.1 313.1L503 313.5ZM476.7 306.9L476.6 306.2L476.5 306L474.8 305.7L472.6 307L472.4 307.7L474.6 309.8L474.7 309.7ZM444 301.8L442.1 299.2L445.8 293.3L446.4 296ZM460.3 308L457.5 307L457.6 306.1L460.3 303.1L460.3 303.1L461.1 304.8L460.9 307.4L460.7 307.9ZM455.8 355.8L455.7 357.5L456.9 358.3L458.1 357L456.1 355.4ZM486.1 348.3L484.6 345.2L485.7 344L486.2 344L487.3 346.6ZM482.5 361L481.2 362.6L483.2 381.3L484 375.8L485.2 362.3L483.4 360.8ZM499.6 315.7L500.3 313.5L496.3 313.2L496 314L497.1 316.4L497.3 316.5L498.9 316.2ZM494.7 320L494.9 319.1L496.7 317.2L496.9 317.3L498 319.6L497.4 320.5L494.7 320.1ZM437.3 358.3L438.5 355.1L439.4 354.7L439.8 354.9L441 357L441 357.1L440.2 358.6ZM451.3 353.6L450.5 354.6L447.7 353.6L447.3 352.9L450.7 350.8L451.7 352.7ZM502 358.2L503.7 359.5L502.2 362.6L500.7 360.3L501.9 358.1ZM493.3 335.6L493.1 336.8L493.4 337.6L494.1 338.1L496 337.6L496.9 336.2L495.9 335L495.6 334.8ZM500.3 316.3L503.2 318.4L500.4 318.7L499.6 316.8ZM482.2 359L479.8 356.6L479.9 355.7L481.2 355.3L483.8 356.4L483.2 358.8ZM477.8 302.2L480.7 301L480.7 301L477.1 296.6L476.2 299.2ZM501.2 357.4L499 357.8L498.5 356L500.4 355.4ZM471.5 337.1L473 335L472.8 332.9L471.5 332.8L469.3 336.1L469.3 336.1L470.5 336.9ZM492.6 358.9L493 357.1L492.8 356.2L491.5 355.6L490 357L490.8 358.7ZM488.7 305.1L487.7 307.1L486.9 307.2L484.1 305.4L484.1 304.1L488 303.6L488.6 304.6ZM495.2 340.6L494.4 338.7L496.1 338.2L497.2 339.9ZM461.4 355.5L463.5 356.5L463.6 356.6L462.1 359L461.4 359.2L460.4 356.9L460.8 355.9ZM488.6 351.3L489.3 353.3L491 354L491.1 353.4L490.9 351.9ZM458.8 343.7L458.7 342.9L457.7 341.8L454.8 341.3L454.6 341.3L454.6 341.4L456.7 344.3ZM466.8 308.1L466.2 309.4L468.8 311.7L469.4 311.3L469.5 309.6L468.7 308.5ZM500.5 315.8L501.3 313.5L501.4 313.4L502.1 313.5L504.2 317.9L503.8 318.2L503.7 318.2ZM457.3 330.2L454.8 333L453.1 332L455.5 329.6L457.1 330ZM446.7 349.1L445.5 350.3L445.2 347.5L446.9 346.7L447.1 347ZM471.2 305.9L472.1 306.5L474.2 305.2L472.3 303.3L471 304.7ZM446.9 360.9L443.5 365.4L443.3 361.3L446.2 360.6ZM441.5 356.5L444 352.1L442.9 351.7L440.2 354.3ZM451.2 311.3L449.5 313.3L447.3 311L447.8 310.3L448.8 309.7L451.2 309.5ZM437.3 319.2L440.8 317.5L442.6 319.1L442.1 320.4L439.8 321.4ZM478.9 320.6L478.2 322.4L479.3 323L480.9 322L479 320.6ZM448.9 360.9L452.7 360.8L451.9 363.2L450.2 364.6L448.8 361.1ZM445.5 330.5L446.2 330.7L447.2 328.8L446.6 327.6L444.8 327.6L444.5 328.1L444.5 328.2ZM477.1 334.6L476.6 332.3L475.4 331.2L473.8 332.5L474 334.5L477.1 334.7ZM454.6 315.8L455 315.4L454.9 314.4L451.7 311.9L450.1 313.9L450.1 314.1L452.7 316.2ZM501.6 312.5L502.3 312.6L504.5 312.1L504.7 310.2L504.5 309.9L503.2 309.5L501.4 311.1ZM468.9 300.5L472 302L473.5 299.7L469.5 298.5ZM457.3 348.8L457.6 349L458.3 349.1L458.3 349.1L459.9 346.1L459.7 345.4L459.3 344.9L457.1 345.5L457 348ZM462.3 327.5L461.8 329.5L463.4 330.5L464.8 329.2L464.3 327.7L462.8 327.2ZM466.2 306.7L465.6 306.3L465 304.8L467.1 302.8L467.8 304.4L467.8 304.7ZM501.7 331.3L501.9 331.2L502.4 330.3L498.5 326.7L497.6 328.9L497.9 330.1ZM515 334.2L503.7 330.8L503.6 330.9L503.1 331.8L505.4 335.4ZM449.6 336.6L450.6 336.7L452.2 338L452.6 339.5L449 339.4L448.5 337.5ZM476.8 338.6L477.7 335.6L477.8 335.5L478.9 335.6L480.4 337.4L479.9 339.4L478.4 339.5ZM450.4 318.7L450.4 318.6L448.1 316L449.7 314.8L452 316.7ZM468.7 316.9L469.1 317.3L469.2 317.8L467.2 320.5L465.5 319.2L464.8 317.9L465 317.5ZM476.3 362.2L476.2 367.6L473.4 361.6L473.8 360.5L475.2 360.5ZM458.8 333.2L458.8 331.9L461.8 333.2L461.7 333.9L460.5 334.4ZM469.2 306.2L470.5 305.9L470.3 304.7L468.4 304.6L468.4 304.8ZM485.4 336.4L486.2 338.7L488 338.9L488.5 337.4L488 336.5L486.2 335.9ZM504.1 351L504.1 351L502.8 351.3L501.7 349.4L501.7 349.2L503.2 348.7ZM455.3 302.9L457.9 301L455.9 298L453.5 300.1L453.5 302.1L454.7 302.8ZM469.9 356.3L471.7 356.6L472.5 355.3L472 353.2L470.2 352.4L469.6 353L469.2 354.9ZM502.4 357.7L504.1 359.1L504.1 359L505 358.6L505.8 355.6L504.7 355.3L504.5 355.3ZM443.7 327.6L440.7 328L440.3 327.8L440.9 325.9L443.4 325.4L444 327.1ZM497.7 360.3L497.4 359.9L496.5 359.7L494.6 361.1L495.6 364.6L497.7 361.4ZM441.6 340.4L442.1 338.7L442.6 338.5L443.9 340.1L443.1 341.9ZM483.4 303.2L483.3 302.9L484.9 301.1L486.8 301.5L487.8 303L487.8 303.1L483.8 303.6ZM443.2 351L441.8 349.7L441.7 348.2L443.4 347.4L444.5 347.8L444.9 350.8L444.6 351.4L444.1 351.4ZM461.1 319.4L460.5 322.4L460.5 322.4L458.4 320.2L458.4 320.2L459.4 319.3ZM453.2 338.1L455 335.6L455.5 335.6L457.4 337.6L454.3 340.3L454.1 340.4L453.7 339.7ZM473.2 314.8L472.7 312.4L473.4 312L475.2 313.5L475.2 314.8ZM471.7 342.7L468.8 342.9L468.4 342.7L470.3 337.9L471.4 338.1L471.4 338.2ZM475.1 338.7L472.2 337.6L472.2 337.5L473.7 335.4L476.9 335.6L475.9 338.5ZM458.9 350.5L461.5 352.8L461.1 354.7L460.4 355.1L459.1 354.2ZM474.8 310.6L474.8 310.6L473.8 311.8L475.5 313.2L477.3 312.4L477.4 312.3ZM466 313.2L465 312.7L463 313.1L462.5 314.1L464.1 316.1ZM468.1 344L469.4 347.7L468.9 348.6L465.4 347.6L465.3 346.6L465.4 345.9L467.4 343.8L467.8 343.8ZM492.3 305.8L489.8 304.9L489.7 304.5L492.8 302.9L493.5 305.3ZM492.4 335.5L492.1 336.6L489.3 337L488.9 336.1L489.8 334.4L491.8 334.8ZM472.7 361.2L470.6 361.6L468.9 361L472 358.1L473.1 360ZM466.7 302.4L466.7 301.6L462.9 300.6L461.1 302.1L462 304.1L464.5 304.4ZM464.1 310.1L462.3 309.8L462.9 312.5L464.8 312.1ZM487.6 349.8L486.8 349.7L486.6 349.2L486.6 348.9L487.7 347.3L489.1 347.2L489.7 347.7L489.4 348.7ZM466.4 358.5L464.1 359.7L462.7 359.3L464.3 356.9L465.6 357.2ZM441.1 359.1L441.1 359.2L442.9 360.5L445.5 359.9L444.5 357.8L443.8 357.5L441.9 357.7ZM495.4 343.4L496.5 346L494.4 346.4L493.8 345.6L494.2 343.2L494.6 343ZM457.7 320.1L456.1 321.4L455.3 320.9L455.5 317.8L457.7 320.1ZM459.6 325.1L460.6 323.4L460.8 323.2L460.8 323.2L462.2 323.5L462.2 323.5L462.5 324.2L462.4 326.5L461.9 326.8L459.6 325.7ZM445.2 356.9L444.4 356.6L445.3 352.5L446.6 353.3L447 353.9L446.6 355.8ZM491.1 330.3L487.9 330.6L487.1 330.2L487 330L488.2 328.3L489.8 327.2L491.6 327.5L491.8 328.2ZM487.4 314.5L488.5 314.3L491 315.4L491 315.7L489.8 317.5L487.4 318.2L487.3 318ZM456.2 347.5L456.4 344.9L454 341.7L453.1 343L453.5 345.1ZM475.5 339.5L474.9 342.2L477.4 342.5L477.9 340.2L476.4 339.2ZM493.1 364.8L493.7 365.1L494.5 368.4L489.2 419.1L491.6 365.4ZM488 350.3L489.9 349.1L491 350.7L490.8 351.2L488.4 350.6ZM500.8 348.3L498.1 347.6L497.9 346.7L498.4 346.2L500.7 346ZM482.4 314.3L484.2 312.3L485.6 313.2L486.2 313.9L483.3 315.7L483.2 315.7ZM478.8 309.2L480.9 309.3L481.5 310.8L479.5 311.7L479.2 311.6ZM481.5 309.2L482.1 310.6L483.7 310.9L484 309.7L482.5 307.9ZM491.9 306.7L489.4 305.8L488.5 307.6L489 308.5L490.2 309.5L490.6 309.6L491.8 308.7ZM495.5 354.7L493.1 355.5L491.8 354.9L491.7 354.4L491.9 353.8L493.9 352.8L494.7 353.1ZM477.3 317.4L478.7 316.3L478.7 316.2L477.5 315L476.1 315.5L476.2 316.3ZM443.4 303.3L442.9 303.6L439.6 304.8L436.8 304.4L440.6 300.3L441.3 300.3L443.3 303.1ZM495.4 312.7L495 313.4L492.4 314.4L492.2 311.5L495.2 312.1ZM460.8 335.2L462 334.7L463 336.2L462.1 338.4L461.3 338.2L459.8 337.1ZM503.6 318.9L503.7 318.9L503.1 322L500.5 320.8L500.3 319.6L500.5 319.3ZM482.3 306.7L483.2 305.4L483.2 304.1L482.8 303.7L479.5 305.7ZM487.4 357.7L484.8 356.1L486.1 354.4L486.2 354.4L488.6 356.8ZM487.4 350.7L486.5 350.5L485.7 352.1L486.2 353.7L486.2 353.7L488.5 353.2L487.8 351ZM484.2 327L484 325.6L484.5 324.1L485.9 323.6L487.2 327.7L486.2 329.2L485.1 328.4ZM493.3 359.3L493.7 357.7L495.8 359L495.9 359.3L494.2 360.6L493.7 360.3ZM445.9 305.7L445.2 304.6L444 304.1L443.7 304.4L443.6 308.2L443.9 308.2L445.5 307ZM496 332.6L497.2 331.1L498.4 333.1L496.3 334.3L496 334.2ZM494.8 320.8L494.7 323.7L494.8 324L497.8 325.3L498.1 322.2L497.3 321.2ZM476.9 357.9L474.9 355.9L478.5 355L479.2 355.7L479 356.5L478.2 357.7ZM463.7 335.6L466.7 334.7L466.5 334.1L463.7 332.1L462.7 333.4L462.6 334.1ZM480.7 339.8L481.7 340.6L483.3 340.5L483.3 340.5L482.9 337.3L481.2 337.9ZM450 331.3L448.5 331.9L447.2 331.8L446.8 331.4L447.8 329.2L449.5 330ZM447.5 349.2L450.5 349.4L450.6 349L449.7 347.7L447.9 347.1ZM450.3 347.2L451.2 344L452.5 343.5L452.9 345.4L451.7 348.2L451.2 348.5ZM445.9 307.8L444.1 309.1L446.2 311L446.8 310.8L447.2 310.1ZM454.8 307.7L453.5 307.5L454.8 303.9L455.3 303.9L456.4 306.1L456.2 307.1ZM451.4 322.8L449.4 325.2L448.8 325.2L447.8 323.3L448.2 322.4L450.6 321.5L451.4 322.5ZM481.9 318.1L482.3 318.5L486 318.3L483.1 316.3L483 316.4ZM485 300.6L484.3 298.2L486.7 299.4L486.8 300.9ZM469.2 312.9L469.3 312.8L470 312.3L472 312.7L472.4 314.8L472.2 315.4L470 316.3L469.6 315.9ZM492.4 348.8L492 349.9L491.4 350.4L490.2 348.8L490.5 347.8L490.7 347.8ZM488 327.3L486.5 322.9L487.1 322.5L488.8 323L488.9 323.1L489.5 326.2ZM461.7 319.2L461.1 322.4L462.5 322.7L464.6 319.7L463.8 318.2L462.1 318.8ZM464.9 306.4L461.8 307.4L462 304.8L464.3 305.1ZM490.5 347.1L490.4 347.1L489.7 346.5L489.9 343.1L491.6 346ZM502.6 329.8L498.9 326.3L498.9 326.2L502.7 324.8L503.8 327.8L502.8 329.7ZM459 350L461.7 352.3L463.6 351.6L463.9 348.9L458.8 349.7L458.8 349.7ZM473.7 346.9L476.5 348.7L476 350L472.5 352L470.7 351.2L470.2 349.4L470.7 348.4ZM439.3 342.1L439.4 341.6L441.3 340.9L442.8 342.5L443 342.9L441.2 343.7ZM483.8 316.1L486.6 314.4L486.7 314.5L486.6 318L486.5 317.9ZM487.8 346.4L489.3 346.2L489.5 342.5L489.5 342.5L489.5 342.4L486.7 343.7ZM501 310.6L502.8 309.1L501.9 307.2L500.4 308.2L500.4 309.6ZM455.1 324.5L452.3 322.8L452.3 322.7L452.3 322.4L454.8 321.5L455.7 322L455.8 322.3L455.7 323.8ZM466.4 313.5L464.6 316.3L464.7 316.9L468.7 316.2L468.3 313.1ZM443 337.4L442.9 334.6L443.3 334.1L444.9 334.9L445 336.8ZM462 318.1L463.8 317.5L463.9 317.2L463.8 316.5L462.2 314.5L460.5 314.6L459.5 315.4ZM480.1 328.2L479.9 328.1L480.5 325.9L483.1 325.6L483.3 327.1ZM498.4 343.4L496 343.5L497 346.1L497.6 346.3L498.1 345.8ZM467.3 325.4L468 329.3L465.3 329L464.8 327.5L465.7 326.1ZM477.8 322.9L477 323.1L476.5 324.3L477.1 325.5L479.1 324.7L479 323.6ZM497.9 356.1L496.7 355.4L496.5 355.4L496.5 358.6L496.6 358.9L497.6 359.1L498.4 358ZM443.1 332.3L445 331.1L444 328.6L442.4 331.5ZM450.5 320.8L448.1 321.8L446.7 319.5L450.1 319.5L450.2 319.5ZM468.4 324.3L469.4 324.4L471.3 327.6L469.2 329.3L468.7 329.3L468.5 329.1L467.8 325.4ZM448.6 335.1L448.3 332.5L447.2 332.4L446.6 334ZM473.5 319.8L472.8 320.1L470.3 317.8L470.2 317.3L472.6 316.2L473.6 317.4ZM487 313.5L486.5 312.8L488.4 309.5L489.6 310.6L488.2 313.4L487.1 313.5ZM450.1 303L449.1 299.5L449.1 299.4L446.8 303.1ZM448.3 360.2L449 358.5L447 356.7L445.6 357.9L446.7 360L447.3 360.3L448.1 360.4ZM477.6 364.8L477.5 370.1L481.8 390.4L482.3 381.5L480.4 364.3L479 363.2ZM486 350.1L485.1 351.8L482.7 351.9L480.9 348.5L485.7 349.6ZM486 339.5L484.2 340.9L484.2 341L485.7 343.1L486.2 343.1L488.9 341.9L487.8 339.8ZM451.9 323.3L449.8 325.7L451 327L453 327.3L453.1 327.2L453.2 327.1L451.9 323.4ZM442 331.3L441.4 331.1L440.7 328.5L443.7 328.2L443.8 328.2ZM446.2 337.2L447.6 337.1L448.7 336.1L448.5 335.7L446.4 334.6L445.6 335.1L445.8 336.9Z"/>
<path fill="#f2e8f5" d="M501.1 353L502.3 351.6L501.2 349.8L499.7 351.3L499.7 352L501 353ZM447.8 305.9L450.6 305.6L450.5 303.9L450 303.5L446.8 303.7L446 304.2L446.7 305.4ZM495.2 311.5L492.1 310.9L491.5 310.2L492.7 309.2L495.3 310.1L495.3 310.2ZM499.7 301.1L497.2 302.3L497.2 303.7L499.1 304L500.4 301.5ZM501.9 357.3L503.9 355L501.3 353.9L501.3 353.9L500.9 355.1L501.7 357.2L501.9 357.3ZM500.2 354.7L498.3 355.4L497.1 354.7L498.4 352.8L499.3 352.5L500.6 353.6ZM440.8 340.2L441.3 338.4L438.3 336.9L437 337.5L439.1 340.8ZM466.4 312.8L465.4 312.3L464.8 310.1L465.8 309.7L468.5 312.2L468.3 312.3ZM440.9 314.4L442.6 312.6L441.4 310.8L439.5 311.4L439 312.2ZM489.1 337.8L492.3 337.4L492.6 338.2L490 341.7L489.8 341.7L489.7 341.7L488.6 339.4ZM454.4 320.7L454.7 317.5L454.5 316.8L452.8 317.2L451.1 319.2L451.4 320.5L452.2 321.4ZM459.7 309L456.8 307.9L455.3 308.6L456.3 311.8L458.9 310.6ZM441.4 309.1L439.2 305.7L436.4 305.3L436.2 305.4L439.2 310.5L441.1 309.9ZM440.2 328.5L440.9 331.3L439 332L438.3 331.3L439.2 328.3L439.8 328.3ZM455 324.9L452.4 323.3L453.6 326.8L455 325.1ZM439.7 327.7L439.1 327.7L437 326.9L439.2 324L440.3 325.7ZM455.3 355.8L455.3 357.6L453.7 358.5L452.6 357.5L454.3 355.8ZM494.3 342.2L493.9 342.4L490.6 341.8L493.1 338.5L493.9 339L494.7 341ZM493.8 331.9L495.3 332.7L495.3 334.1L493.2 334.9L492.6 334.2L492.8 332.1ZM454.2 359.9L455.6 360.7L456.7 359.3L456.6 358.9L455.5 358.1L454.1 359ZM506.2 304.5L505.3 304.8L503.4 304.8L502 301.9L503.6 300.9ZM501.7 306.7L500.3 307.6L499 306.9L499.8 305.4L502.1 305.9ZM500.2 333.6L500.1 334L498.7 336.1L497.6 335.9L496.6 334.6L498.8 333.3ZM497.9 339.5L496.8 337.9L497.6 336.7L498.5 336.9L499.7 338.4L498.3 339.6ZM492.1 331.8L491.3 331L488.2 331.2L489.7 333.6L491.9 334ZM474.5 320.6L476.4 322.7L475.8 324L474.1 324.1L472.5 322.3L473.2 320.9L473.9 320.6ZM494 319.9L491.9 319.7L490.7 318L491.8 316.2L494.2 319ZM500.1 333L498.9 332.7L497.8 331L497.9 330.6L501.3 331.7ZM451.3 308.8L449.1 309L448.3 306.5L450.9 306.3L452.1 307.9ZM456.4 355.2L458.5 356.7L459.5 356.6L460 355.5L458.8 354.6L456.5 354.9ZM442 308.9L439.9 305.6L443 304.5L443 308.5ZM477 319.1L478.5 320.3L477.6 322.3L476.9 322.5L475 320.4ZM461.1 318.7L459.4 318.6L457.8 316.1L459.2 315.7L461.5 318.3ZM504.7 309.1L505.4 305.6L503.2 305.5L502.8 305.9L502.3 306.8L503.2 308.7ZM485.3 348.6L485.2 349L480.6 348L480 347.5L480.1 347.2L480.5 346.9L483.8 345.7ZM463.8 339.4L463.1 338.6L464 336.5L466.9 335.6L467.9 336.6L467.9 336.6L465 339.6ZM467.4 323.1L463 323.5L463.3 324.1L465.7 325.6L467.2 324.9L467.9 323.7ZM450.8 332.2L451.3 332.6L450.5 335.5L449.5 335.5L449.2 335.1L448.9 332.5L450.3 331.9ZM478.8 308.4L480.7 308.5L481.6 307.3L481.6 307.2L478.9 306.3L477.7 306.3L477.7 307ZM440.7 360.6L442.6 362L442.8 365.8L441.7 370.7L439.8 363.9ZM486.2 335.1L486.7 331L486.8 330.9L487.5 331.3L489.1 333.8L488.1 335.6ZM463.1 341.5L463.1 343.2L464.8 345.1L466.7 343L464.7 340.8L463.5 340.6ZM465.3 325.9L464.4 327.2L463 326.7L463 324.5ZM447.6 306.6L448.3 309L447.4 309.5L446.2 307.5L446.5 306.2ZM496.3 351.8L495.4 352.9L496.2 354.6L496.4 354.7L496.5 354.6L497.9 352.7ZM461.7 354.7L463.9 355.8L464.4 352.7L464 352.3L462.1 352.9ZM479.3 320.1L481.3 318.4L481.6 318.5L482 318.9L482.5 321.8L481.5 321.8ZM477.9 334.7L477.3 332.3L480.2 331.5L481 333.3L479 334.8ZM440.6 346.5L441.4 347.3L443.1 346.5L443.7 343.8L443.2 343.5L441.4 344.3ZM478 312.6L477.9 312.7L477.8 314.4L479.1 315.7L480.3 314L479.3 312.3L478.9 312.2ZM487.5 300.9L487.4 299.4L491 296.4L490.7 299.1L488.4 302.3ZM458.4 327.8L457.9 329.5L458.1 329.7L458.2 329.8L461 329.4L461.4 327.6L459.2 326.6ZM457.9 334.3L456.2 335.2L458 337.1L458.7 336.9ZM447.7 346.3L447.4 346L447.4 344.6L448.9 343.9L450.5 343.9L449.5 346.9ZM430.8 348.7L438.5 346.9L439.6 347.1L440.4 348L440.5 349.4L438 350.5ZM485.6 354.1L485.1 352.5L482.7 352.6L481.6 354.8L484.1 355.9L484.3 355.8ZM443.7 309.3L443.3 309.3L442.3 309.7L442 310.5L443.1 312.3L444.5 312.6L445.7 311.1ZM496 349.6L495.5 349.5L494.3 348.1L494.6 347.1L496.8 346.7L497.4 346.9L497.6 347.8L497.3 348.8ZM460.6 345L462.7 343.8L464.5 345.8L464.3 346.5L460.7 345.7ZM439.6 353.7L438.6 351.5L441 350.3L442.4 351.6L440 353.9ZM451.1 331.1L452.7 328.1L450.9 327.8L450.1 329.8L450.5 330.9ZM455.8 325.1L456.4 324.4L458.7 325.3L458.7 325.9L457.9 327L455.8 325.2ZM476 324.8L474.3 324.9L473.5 327.6L475.3 328.8L476.5 327.9L476.7 326.1ZM457.1 316.1L455.8 316L455.5 316.4L455.6 317.1L457.7 319.3L458.6 318.4ZM453.8 360.5L455.4 361.3L455.5 361.6L454.5 362.8L452.7 363.1L453.5 360.7ZM459.9 344L459.8 343.1L462.2 341.8L462.2 343.4L460.3 344.5ZM499.1 316.9L497.4 317.2L498.5 319.4L499.7 319.4L500 319ZM479.1 359.7L480.5 360.8L481.7 359.3L479.5 357.2L478.7 358.3ZM504.2 346.6L504.3 346.7L503.2 348L501.7 348.5L501.5 348.2L501.4 346.1L502.3 345.3ZM458.5 330.4L458.9 331.4L462 332.8L463.1 331.5L463.1 331L461.5 329.9ZM481 313.8L480 312.1L481.9 311.3L483.6 311.6L483.7 311.9L482 313.9ZM475.9 315L475.7 314.8L475.7 313.7L477.4 313L477.3 314.5ZM492.5 359.6L490.8 359.4L490.6 360.6L491.4 361.1L492.9 360.6ZM472.8 302.6L472.8 302.7L474.8 304.7L476.4 305L477.1 302.6L475.5 299.7L474.4 300.2ZM499.9 321L498.6 321.8L497.9 320.8L498.5 319.8L499.7 319.8ZM484.6 311L484.7 311.3L486 312.2L487.9 309L487.4 308.1L486.7 308.2L484.8 309.8ZM473.1 328.2L474.8 329.4L474.8 330.3L473.2 331.8L471.9 331.6L470 329.9L472.1 328.1ZM481.5 322.5L482.4 322.5L483.6 323.3L483 324.9L480.6 325.3L479.9 324.7L479.9 323.6ZM442 356.4L444.1 352.5L444.6 352.6L444.7 352.7L444 356.4L442 356.5ZM467.1 358.4L469.3 357L468.5 355.4L466.2 356.8L466.1 356.9L467 358.4ZM474.8 339.6L472 338.5L472.3 342.7L473.3 343.2L474.2 342.3ZM487.1 358.2L484.6 356.6L484.4 356.7L483.9 359.1L485.6 360.6L486.6 359.6ZM487.3 321.6L487.4 319.1L489.9 318.4L491 320.1L489 322.1ZM466.7 321.5L467.1 322.7L463.1 323L463.1 323L465 320.2ZM465.8 356.5L464.3 356.2L464.3 356.1L464.8 353L466.4 353.4L465.8 356.5ZM469.6 338.2L468.5 337.4L465.6 340.3L467.6 342.3L468 342.3ZM455.2 351.9L456.7 349.6L456.4 349.3L452 349L451.5 349.3L451.3 349.8L451.3 350.3L452.3 352.2ZM499 299.4L495 289.2L495 289.3L495.7 299.9L496.7 300.5ZM499.6 309.5L499.6 308.2L498.3 307.5L496.7 307.5L496.3 309.7L496.4 309.8ZM480.2 328.6L483.5 327.5L484.5 329.1L480.9 330.2ZM439 335.2L439.4 332.6L441.2 331.8L441.8 332L442.7 332.8L442.8 333.6L442.4 334.1ZM465.3 329.6L464 330.9L464 331.4L466.9 333.5L468.1 330.1L467.9 329.9ZM477.7 354.4L476.3 351.1L473.1 353L473.6 355L474.4 355.2ZM456.3 348.8L452.5 348.6L453.6 345.9L456.1 348.1ZM443.8 346.4L444.9 346.7L446.6 346L446.5 344.6L445.5 343.9L444.3 343.9Z"/>
<path fill="#e8d8ee" d="M458.9 337.6L458.1 337.8L455.1 340.4L458.2 341L460.5 338.8L459 337.6ZM478 343L479.5 346.2L479.9 345.8L481.1 341.4L480.1 340.6L478.6 340.7ZM502.8 337.6L500.5 334.6L499.2 336.6L500.5 338.2L502.3 338.4ZM472.1 323L473.6 324.7L472.9 327.1L472 327L470.2 324.1ZM501.9 363L500.4 360.7L498.4 360.4L498.4 361.5L501.8 363.6ZM466.9 359.1L467.9 360.9L467.7 361.2L465.3 361.3L464.6 360.2L466.9 359.1ZM494 320.5L491.8 320.4L489.7 322.5L489.7 322.6L493.8 323.5L494 320.6ZM446 333.9L446.6 332.2L446.2 331.7L445.4 331.5L443.4 332.8L443.5 333.6L445.2 334.4ZM505.7 343L507.2 341.9L503.3 340.1L503 342.2ZM498.9 304.6L499.1 305.1L498.3 306.8L496.6 306.8L496.1 305.8L497 304.4ZM451.4 331.3L452 331.9L452.5 331.9L455.1 329.4L453.3 328L453.2 328.1ZM465.1 352.1L466.7 352.5L468.7 352.1L469.4 351.5L468.9 349.7L465.2 348.6L464.9 349.1L464.6 351.7ZM484.8 336.6L483.7 336.5L483.4 336.9L483.8 340.1L485.6 338.8ZM457.6 359.3L460.2 360.3L460.6 360.2L460.9 359.7L459.8 357.2L458.7 357.4L457.5 358.7ZM467.5 358.7L468.6 360.7L468.6 360.7L471.7 357.9L471.6 357.7L469.6 357.3ZM502.9 322.6L503 323.3L502.6 324L498.6 325.5L498.6 325.5L498.9 322.3L500.2 321.5ZM448.8 340.6L449.1 340.3L452.9 340.4L453.3 341L453.3 341.2L452.4 342.4L451.2 343L449.5 343ZM501.6 343.3L499.1 343.1L499 343.2L498.6 345.7L500.9 345.5L501.9 344.6ZM484.9 335.8L483.8 335.7L482.9 333.7L486.1 331.5L485.6 335.3ZM475 343.3L474.1 344.2L474.6 346L477.3 347.7L478.6 347L478.8 346.7L477.3 343.6ZM451.2 335.8L452 332.8L452.5 332.8L454.1 333.8L454.5 334.9L452.9 337.2ZM498.4 342.6L498 340.5L497.6 340.4L495.5 341.3L495.1 342.4L495.9 342.8L498.3 342.7ZM496.1 355.3L496 358.4L493.7 357L493.4 356.1L495.9 355.2ZM469.5 306.8L470.8 306.5L471.7 307.1L471.5 307.7L470 309L469.3 308ZM456.5 323.9L456.6 322.5L459.9 323.2L459 324.9ZM493.2 345.5L493.5 342.9L490.2 342.3L490 342.4L490 342.4L491.9 345.6ZM478.3 309.1L478.7 311.5L477.7 312L475.1 310.2L477.1 307.4ZM456.6 322.1L456.5 321.9L458.1 320.5L460.2 322.7L460 322.9ZM496.6 351.2L498.1 352.1L499 351.8L499 351.1L497.6 349.4L496.4 350.2ZM495.4 306.2L494.3 306L493 306.4L492.8 308.5L495.5 309.4L495.9 307.1ZM504.4 345.8L502.5 344.5L502.3 343.3L502.7 342.8L505.3 343.5ZM495.1 328.6L496.7 328.2L497.5 326.2L497.5 326.2L497.5 326.1L494.7 324.9L493 327.1L493.2 327.8ZM493.6 331.1L494.5 329.4L492.5 328.5L491.8 330.5L492.6 331.3ZM455.3 325.7L454 327.5L453.9 327.6L455.5 328.9L457.1 329.3L457.5 327.6ZM447.8 340.1L448.1 339.8L447.6 337.8L446.2 337.9L446.1 339.8L446.6 340.3ZM448 325.6L446.7 326.8L444.8 326.8L444.1 325.1L444.3 323.6L446.9 323.7ZM460.4 313.5L459.8 311L460.6 309.4L461 309.3L461.7 309.9L462.3 312.5L461.9 313.4ZM481.2 330.6L481.1 331.1L481.9 332.8L482.7 333L486 330.7L486 330.6L486 330.4L484.8 329.6ZM447.8 340.9L448.6 343.2L447 343.9L446 343.2L446.6 341.1ZM442.2 337.8L441.7 338L438.7 336.4L439 335.9L442.3 334.9L442.4 337.6ZM500.9 333.6L500.9 333.9L503 336.8L504.5 335.6L502.3 332.2L502.2 332.3Z"/>
<g fill="#8a4a9e"><circle cx="472.4" cy="354.1" r="0.5"/><circle cx="464.7" cy="342.5" r="0.6"/><circle cx="451.7" cy="334.6" r="0.6"/><circle cx="475.2" cy="315.1" r="0.4"/><circle cx="485" cy="335.3" r="0.4"/><circle cx="446.7" cy="319.3" r="0.5"/><circle cx="468" cy="318.6" r="0.4"/><circle cx="477.6" cy="348.2" r="0.5"/><circle cx="469.3" cy="342.9" r="0.5"/><circle cx="489.3" cy="301" r="0.4"/><circle cx="476.7" cy="307.8" r="0.4"/><circle cx="479.3" cy="334.6" r="0.5"/><circle cx="494.1" cy="320.3" r="0.6"/><circle cx="494.7" cy="358.1" r="0.4"/><circle cx="444.1" cy="347.7" r="0.4"/><circle cx="443.7" cy="344.4" r="0.6"/><circle cx="482.7" cy="307.5" r="0.6"/><circle cx="455.6" cy="330.8" r="0.6"/><circle cx="462.4" cy="322.4" r="0.6"/><circle cx="481.7" cy="350.9" r="0.4"/><circle cx="489.5" cy="312.2" r="0.4"/><circle cx="481.4" cy="348.3" r="0.5"/><circle cx="472.2" cy="333.2" r="0.5"/><circle cx="453.5" cy="323.2" r="0.5"/><circle cx="446.8" cy="326.8" r="0.6"/><circle cx="440.5" cy="321.3" r="0.6"/><circle cx="497.7" cy="308.4" r="0.6"/><circle cx="498.5" cy="338.8" r="0.4"/><circle cx="469.8" cy="309.7" r="0.5"/><circle cx="446.3" cy="324.5" r="0.4"/><circle cx="483.2" cy="321.9" r="0.6"/><circle cx="492.7" cy="310.3" r="0.6"/><circle cx="486.8" cy="317.1" r="0.6"/><circle cx="443.8" cy="320.1" r="0.6"/><circle cx="491.3" cy="357.7" r="0.5"/><circle cx="486.5" cy="358" r="0.6"/><circle cx="460.8" cy="327.4" r="0.6"/><circle cx="473.3" cy="305.8" r="0.6"/><circle cx="464.7" cy="310.3" r="0.5"/><circle cx="441.8" cy="355.8" r="0.4"/></g>
</g>
<rect x="373.0" y="300.9" width="63.4" height="3.5" fill="#f6f0f7" opacity="0.6"/>
<rect x="480.6" y="300.9" width="2.4" height="60.1" fill="#efe4f2" opacity="0.85"/>
<rect x="440.0" y="300.9" width="3" height="60.1" fill="#ead6ee" opacity="0.6"/>
<text x="404.8" y="233.98" font-size="3" font-weight="bold" text-anchor="middle">WT CON</text>
<text x="473.6" y="233.98" font-size="3" font-weight="bold" text-anchor="middle">WT MR</text>
<text x="404.5" y="299.68" font-size="3.0" font-weight="bold" text-anchor="middle">Fgf21<tspan font-size="2" dy="-1.2">-/-</tspan><tspan dy="1.2"> CON</tspan></text>
<text x="470.0" y="299.68" font-size="3.0" font-weight="bold" text-anchor="middle">Fgf21<tspan font-size="2" dy="-1.2">-/-</tspan><tspan dy="1.2"> MR</tspan></text>
</svg></body></html>
